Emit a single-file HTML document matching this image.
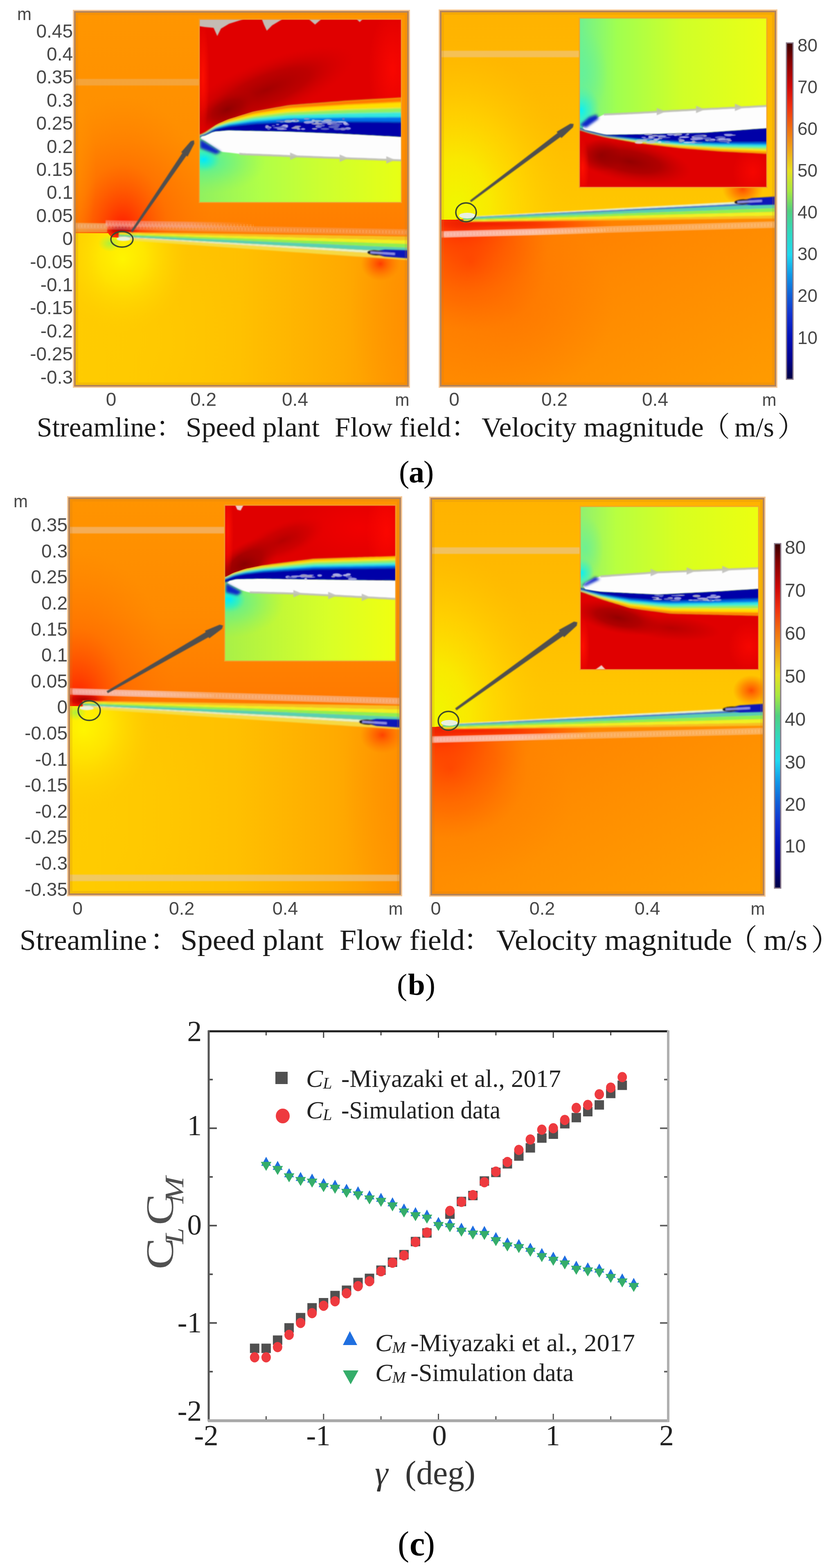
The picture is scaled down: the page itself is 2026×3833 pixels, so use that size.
<!DOCTYPE html>
<html><head><meta charset="utf-8"><title>Flow field and lift/moment coefficients</title>
<style>html,body{margin:0;padding:0;background:#fff;}body{width:2026px;height:3833px;overflow:hidden;}svg{display:block;}</style>
</head><body>
<svg width="2026" height="3833" viewBox="0 0 2026 3833">
<rect x="0" y="0" width="2026" height="3833" fill="#fff"/>
<defs>
<filter id="b1" x="-100%" y="-100%" width="300%" height="300%"><feGaussianBlur stdDeviation="1"/></filter>
<filter id="b1_5" x="-100%" y="-100%" width="300%" height="300%"><feGaussianBlur stdDeviation="1.5"/></filter>
<filter id="b2" x="-100%" y="-100%" width="300%" height="300%"><feGaussianBlur stdDeviation="2"/></filter>
<filter id="b2_5" x="-100%" y="-100%" width="300%" height="300%"><feGaussianBlur stdDeviation="2.5"/></filter>
<filter id="b3" x="-100%" y="-100%" width="300%" height="300%"><feGaussianBlur stdDeviation="3"/></filter>
<filter id="b4" x="-100%" y="-100%" width="300%" height="300%"><feGaussianBlur stdDeviation="4"/></filter>
<filter id="b5" x="-100%" y="-100%" width="300%" height="300%"><feGaussianBlur stdDeviation="5"/></filter>
<filter id="b6" x="-100%" y="-100%" width="300%" height="300%"><feGaussianBlur stdDeviation="6"/></filter>
<filter id="b8" x="-100%" y="-100%" width="300%" height="300%"><feGaussianBlur stdDeviation="8"/></filter>
<filter id="b10" x="-100%" y="-100%" width="300%" height="300%"><feGaussianBlur stdDeviation="10"/></filter>
<filter id="b12" x="-100%" y="-100%" width="300%" height="300%"><feGaussianBlur stdDeviation="12"/></filter>
<filter id="b14" x="-100%" y="-100%" width="300%" height="300%"><feGaussianBlur stdDeviation="14"/></filter>
<filter id="b15" x="-100%" y="-100%" width="300%" height="300%"><feGaussianBlur stdDeviation="15"/></filter>
<filter id="b16" x="-100%" y="-100%" width="300%" height="300%"><feGaussianBlur stdDeviation="16"/></filter>
<filter id="b18" x="-100%" y="-100%" width="300%" height="300%"><feGaussianBlur stdDeviation="18"/></filter>
<filter id="b20" x="-100%" y="-100%" width="300%" height="300%"><feGaussianBlur stdDeviation="20"/></filter>
<filter id="b22" x="-100%" y="-100%" width="300%" height="300%"><feGaussianBlur stdDeviation="22"/></filter>
<filter id="b25" x="-100%" y="-100%" width="300%" height="300%"><feGaussianBlur stdDeviation="25"/></filter>
<filter id="b28" x="-100%" y="-100%" width="300%" height="300%"><feGaussianBlur stdDeviation="28"/></filter>
<filter id="b30" x="-100%" y="-100%" width="300%" height="300%"><feGaussianBlur stdDeviation="30"/></filter>
<filter id="b35" x="-100%" y="-100%" width="300%" height="300%"><feGaussianBlur stdDeviation="35"/></filter>
<filter id="b40" x="-100%" y="-100%" width="300%" height="300%"><feGaussianBlur stdDeviation="40"/></filter>
<filter id="b45" x="-100%" y="-100%" width="300%" height="300%"><feGaussianBlur stdDeviation="45"/></filter>
<filter id="b50" x="-100%" y="-100%" width="300%" height="300%"><feGaussianBlur stdDeviation="50"/></filter>
<filter id="b60" x="-100%" y="-100%" width="300%" height="300%"><feGaussianBlur stdDeviation="60"/></filter>
<filter id="b70" x="-100%" y="-100%" width="300%" height="300%"><feGaussianBlur stdDeviation="70"/></filter>
<filter id="b80" x="-100%" y="-100%" width="300%" height="300%"><feGaussianBlur stdDeviation="80"/></filter>
<linearGradient id="cbar" x1="0" y1="0" x2="0" y2="1"><stop offset="0.0" stop-color="#380000"/><stop offset="0.05" stop-color="#800000"/><stop offset="0.13" stop-color="#d00808"/><stop offset="0.19" stop-color="#f03010"/><stop offset="0.255" stop-color="#f07010"/><stop offset="0.32" stop-color="#f0a818"/><stop offset="0.38" stop-color="#e8e020"/><stop offset="0.44" stop-color="#a8e840"/><stop offset="0.5" stop-color="#50d080"/><stop offset="0.565" stop-color="#30d8c0"/><stop offset="0.63" stop-color="#20d8f0"/><stop offset="0.69" stop-color="#1098e8"/><stop offset="0.75" stop-color="#1060d8"/><stop offset="0.81" stop-color="#1030d0"/><stop offset="0.876" stop-color="#0010b8"/><stop offset="0.94" stop-color="#000090"/><stop offset="1.0" stop-color="#000040"/></linearGradient>
</defs>
<clipPath id="c1"><rect x="181" y="27" width="818" height="918"/></clipPath>
<clipPath id="c2"><polygon points="176,570 264,570 272,580 1004,625 1004,950 176,950"/></clipPath>
<g clip-path="url(#c1)">
<linearGradient id="g1" x1="0" y1="0" x2="0" y2="1"><stop offset="0" stop-color="#ff9600"/><stop offset="0.35" stop-color="#ff8e00"/><stop offset="0.6" stop-color="#ff7c00"/><stop offset="1" stop-color="#ff7800"/></linearGradient>
<rect x="181" y="27" width="818" height="918" fill="url(#g1)"/>
<radialGradient id="r2"><stop offset="0" stop-color="#ff1000" stop-opacity="0.95"/><stop offset="0.2" stop-color="#ff3000" stop-opacity="0.75"/><stop offset="0.5" stop-color="#ff5800" stop-opacity="0.4"/><stop offset="1" stop-color="#ff7000" stop-opacity="0"/></radialGradient>
<ellipse cx="300" cy="565" rx="220" ry="330" fill="url(#r2)"/>
<radialGradient id="r3"><stop offset="0" stop-color="#a00010" stop-opacity="1"/><stop offset="0.5" stop-color="#c00000" stop-opacity="0.7"/><stop offset="1" stop-color="#ff2000" stop-opacity="0"/></radialGradient>
<ellipse cx="298" cy="563" rx="45" ry="18" fill="url(#r3)"/>
<radialGradient id="r4"><stop offset="0" stop-color="#ff9800" stop-opacity="0.5"/><stop offset="1" stop-color="#ff9800" stop-opacity="0"/></radialGradient>
<ellipse cx="185" cy="420" rx="50" ry="200" fill="url(#r4)"/>
<linearGradient id="g5" x1="0" y1="0" x2="1" y2="0"><stop offset="0" stop-color="#ffcc00"/><stop offset="0.5" stop-color="#ffc000"/><stop offset="0.8" stop-color="#ffaa00"/><stop offset="1" stop-color="#ff9400"/></linearGradient>
<polygon points="176,570 264,570 272,580 1004,625 1004,950 176,950" fill="url(#g5)"/>
<g clip-path="url(#c2)">
<radialGradient id="r6"><stop offset="0" stop-color="#ffff00" stop-opacity="1"/><stop offset="0.35" stop-color="#fff200" stop-opacity="0.85"/><stop offset="0.7" stop-color="#ffe200" stop-opacity="0.4"/><stop offset="1" stop-color="#ffd000" stop-opacity="0"/></radialGradient>
<ellipse cx="300" cy="635" rx="160" ry="180" fill="url(#r6)"/>
<radialGradient id="r7"><stop offset="0" stop-color="#ffcc00" stop-opacity="0.6"/><stop offset="1" stop-color="#ffcc00" stop-opacity="0"/></radialGradient>
<ellipse cx="300" cy="830" rx="320" ry="300" fill="url(#r7)"/>
<radialGradient id="r8"><stop offset="0" stop-color="#ff2000" stop-opacity="0.95"/><stop offset="0.5" stop-color="#ff4000" stop-opacity="0.5"/><stop offset="1" stop-color="#ff6000" stop-opacity="0"/></radialGradient>
<ellipse cx="930" cy="645" rx="48" ry="42" fill="url(#r8)"/>
<radialGradient id="r9"><stop offset="0" stop-color="#ff8a00" stop-opacity="0.55"/><stop offset="1" stop-color="#ff8a00" stop-opacity="0"/></radialGradient>
<ellipse cx="999" cy="760" rx="140" ry="330" fill="url(#r9)"/>
<radialGradient id="r10"><stop offset="0" stop-color="#a8f040" stop-opacity="0.9"/><stop offset="1" stop-color="#a8f040" stop-opacity="0"/></radialGradient>
<ellipse cx="268" cy="595" rx="28" ry="20" fill="url(#r10)"/>
</g>
<g filter="url(#b1_5)">
<polygon points="290,580.1 313.9,581.6 337.7,583.1 361.6,584.5 385.5,586 409.3,587.5 433.2,589 457.1,590.4 480.9,591.9 504.8,593.4 528.7,594.9 552.5,596.3 576.4,597.8 600.3,599.3 624.1,600.8 648,602.2 671.9,603.7 695.7,605.2 719.6,606.7 743.5,608.1 767.3,609.6 791.2,611.1 815.1,612.6 838.9,614 862.8,615.5 886.7,617 910.5,618.5 934.4,619.9 958.3,621.4 982.1,622.9 1006,624.4 1006,636.4 982.1,634.7 958.3,633.1 934.4,631.4 910.5,629.7 886.7,628.1 862.8,626.4 838.9,624.7 815.1,623 791.2,621.4 767.3,619.7 743.5,618 719.6,616.4 695.7,614.7 671.9,613 648,611.3 624.1,609.7 600.3,608 576.4,606.3 552.5,604.7 528.7,603 504.8,601.3 480.9,599.6 457.1,598 433.2,596.3 409.3,594.6 385.5,592.9 361.6,591.3 337.7,589.6 313.9,587.9 290,586.3" fill="#f4e050" opacity="0.85"/>
<polygon points="290,578.3 313.9,579.6 337.7,581 361.6,582.3 385.5,583.6 409.3,584.9 433.2,586.2 457.1,587.5 480.9,588.9 504.8,590.2 528.7,591.5 552.5,592.8 576.4,594.1 600.3,595.5 624.1,596.8 648,598.1 671.9,599.4 695.7,600.7 719.6,602.1 743.5,603.4 767.3,604.7 791.2,606 815.1,607.3 838.9,608.7 862.8,610 886.7,611.3 910.5,612.6 934.4,613.9 958.3,615.3 982.1,616.6 1006,617.9 1006,624.4 982.1,622.9 958.3,621.4 934.4,619.9 910.5,618.5 886.7,617 862.8,615.5 838.9,614 815.1,612.6 791.2,611.1 767.3,609.6 743.5,608.1 719.6,606.7 695.7,605.2 671.9,603.7 648,602.2 624.1,600.8 600.3,599.3 576.4,597.8 552.5,596.3 528.7,594.9 504.8,593.4 480.9,591.9 457.1,590.4 433.2,589 409.3,587.5 385.5,586 361.6,584.5 337.7,583.1 313.9,581.6 290,580.1" fill="#e8f4c8"/>
<polygon points="290,575 313.9,576 337.7,577 361.6,578.1 385.5,579.1 409.3,580.1 433.2,581.2 457.1,582.2 480.9,583.2 504.8,584.2 528.7,585.3 552.5,586.3 576.4,587.3 600.3,588.4 624.1,589.4 648,590.4 671.9,591.4 695.7,592.5 719.6,593.5 743.5,594.5 767.3,595.6 791.2,596.6 815.1,597.6 838.9,598.7 862.8,599.7 886.7,600.7 910.5,601.7 934.4,602.8 958.3,603.8 982.1,604.8 1006,605.9 1006,617.9 982.1,616.6 958.3,615.3 934.4,613.9 910.5,612.6 886.7,611.3 862.8,610 838.9,608.7 815.1,607.3 791.2,606 767.3,604.7 743.5,603.4 719.6,602.1 695.7,600.7 671.9,599.4 648,598.1 624.1,596.8 600.3,595.5 576.4,594.1 552.5,592.8 528.7,591.5 504.8,590.2 480.9,588.9 457.1,587.5 433.2,586.2 409.3,584.9 385.5,583.6 361.6,582.3 337.7,581 313.9,579.6 290,578.3" fill="#58d0b0"/>
<polygon points="290,572.4 313.9,573.2 337.7,574 361.6,574.8 385.5,575.6 409.3,576.4 433.2,577.2 457.1,578.1 480.9,578.9 504.8,579.7 528.7,580.5 552.5,581.3 576.4,582.1 600.3,582.9 624.1,583.7 648,584.5 671.9,585.3 695.7,586.1 719.6,586.9 743.5,587.7 767.3,588.5 791.2,589.3 815.1,590.2 838.9,591 862.8,591.8 886.7,592.6 910.5,593.4 934.4,594.2 958.3,595 982.1,595.8 1006,596.6 1006,605.9 982.1,604.8 958.3,603.8 934.4,602.8 910.5,601.7 886.7,600.7 862.8,599.7 838.9,598.7 815.1,597.6 791.2,596.6 767.3,595.6 743.5,594.5 719.6,593.5 695.7,592.5 671.9,591.4 648,590.4 624.1,589.4 600.3,588.4 576.4,587.3 552.5,586.3 528.7,585.3 504.8,584.2 480.9,583.2 457.1,582.2 433.2,581.2 409.3,580.1 385.5,579.1 361.6,578.1 337.7,577 313.9,576 290,575" fill="#90f050"/>
<polygon points="290,569.8 313.9,570.4 337.7,571 361.6,571.6 385.5,572.2 409.3,572.8 433.2,573.3 457.1,573.9 480.9,574.5 504.8,575.1 528.7,575.7 552.5,576.3 576.4,576.8 600.3,577.4 624.1,578 648,578.6 671.9,579.2 695.7,579.8 719.6,580.3 743.5,580.9 767.3,581.5 791.2,582.1 815.1,582.7 838.9,583.3 862.8,583.8 886.7,584.4 910.5,585 934.4,585.6 958.3,586.2 982.1,586.8 1006,587.3 1006,596.6 982.1,595.8 958.3,595 934.4,594.2 910.5,593.4 886.7,592.6 862.8,591.8 838.9,591 815.1,590.2 791.2,589.3 767.3,588.5 743.5,587.7 719.6,586.9 695.7,586.1 671.9,585.3 648,584.5 624.1,583.7 600.3,582.9 576.4,582.1 552.5,581.3 528.7,580.5 504.8,579.7 480.9,578.9 457.1,578.1 433.2,577.2 409.3,576.4 385.5,575.6 361.6,574.8 337.7,574 313.9,573.2 290,572.4" fill="#f0f020"/>
<polygon points="290,567.3 313.9,567.6 337.7,568 361.6,568.4 385.5,568.7 409.3,569.1 433.2,569.4 457.1,569.8 480.9,570.2 504.8,570.5 528.7,570.9 552.5,571.2 576.4,571.6 600.3,572 624.1,572.3 648,572.7 671.9,573 695.7,573.4 719.6,573.8 743.5,574.1 767.3,574.5 791.2,574.8 815.1,575.2 838.9,575.6 862.8,575.9 886.7,576.3 910.5,576.6 934.4,577 958.3,577.4 982.1,577.7 1006,578.1 1006,587.3 982.1,586.8 958.3,586.2 934.4,585.6 910.5,585 886.7,584.4 862.8,583.8 838.9,583.3 815.1,582.7 791.2,582.1 767.3,581.5 743.5,580.9 719.6,580.3 695.7,579.8 671.9,579.2 648,578.6 624.1,578 600.3,577.4 576.4,576.8 552.5,576.3 528.7,575.7 504.8,575.1 480.9,574.5 457.1,573.9 433.2,573.3 409.3,572.8 385.5,572.2 361.6,571.6 337.7,571 313.9,570.4 290,569.8" fill="#f8c020"/>
</g>
<g filter="url(#b1_5)">
<polygon points="900.2,616.8 940.1,610.3 1004,612 1004,632 940.1,627.3" fill="#0818b8"/>
<ellipse cx="918.2" cy="617.9" rx="20" ry="6" fill="#100818" transform="rotate(3.5 918.2 617.9)"/>
<line x1="905.2" y1="617.1" x2="965.1" y2="620.8" stroke="#9090e8" stroke-width="5"/>
</g>
<ellipse cx="302" cy="584" rx="17" ry="5" fill="#e8f0e0" filter="url(#b1)"/>
<polygon points="181,193 487,193 487,209 181,209" fill="#f0b060" opacity="0.6" filter="url(#b1)"/>
<polygon points="181,545 262,546 262,568 181,567" fill="#f0a848" opacity="0.7" filter="url(#b1)"/>
<polygon points="181,544.5 999,560.5 999,575.5 181,559.5" fill="#f0b8a8" opacity="0.3" filter="url(#b1)"/>
<line x1="181" y1="552" x2="999" y2="568" stroke="#ffffff" stroke-width="7.5" opacity="0.1" stroke-dasharray="5 3"/>
<linearGradient id="sf11" gradientUnits="userSpaceOnUse" x1="258" y1="0" x2="620" y2="0"><stop offset="0" stop-color="#f4a8a0" stop-opacity="1"/><stop offset="0.55" stop-color="#f4a8a0" stop-opacity="1"/><stop offset="1" stop-color="#f4a8a0" stop-opacity="0"/></linearGradient>
<polygon points="258,538.5 620,544.5 620,559.5 258,553.5" fill="url(#sf11)" opacity="0.5" filter="url(#b1)"/>
<line x1="258" y1="546" x2="620" y2="552" stroke="#ffffff" stroke-width="7.5" opacity="0.1" stroke-dasharray="5 3"/>
</g>
<ellipse cx="298" cy="585" rx="27" ry="19" fill="none" stroke="#3e4a2e" stroke-width="3.5"/>
<polygon points="324.1,567.4 455.5,380.8 458.4,382.7 474.9,350.9 474,343 466.3,345 442.8,372.1 445.6,374 319.9,564.6" fill="#4f4f4f" filter="url(#b1)"/>
<clipPath id="c3"><rect x="487" y="47" width="494" height="448"/></clipPath>
<g clip-path="url(#c3)">
<linearGradient id="g12" x1="0" y1="0" x2="1" y2="0"><stop offset="0" stop-color="#90f060"/><stop offset="0.3" stop-color="#b0ff48"/><stop offset="0.6" stop-color="#ccff30"/><stop offset="1" stop-color="#e8ff14"/></linearGradient>
<rect x="487" y="47" width="494" height="448" fill="url(#g12)"/>
<radialGradient id="r13"><stop offset="0" stop-color="#40f0b0" stop-opacity="0.9"/><stop offset="0.5" stop-color="#60f090" stop-opacity="0.5"/><stop offset="1" stop-color="#80f070" stop-opacity="0"/></radialGradient>
<ellipse cx="500" cy="395" rx="150" ry="80" fill="url(#r13)"/>
<radialGradient id="r14"><stop offset="0" stop-color="#00e8ff" stop-opacity="1"/><stop offset="0.6" stop-color="#20f0d0" stop-opacity="0.6"/><stop offset="1" stop-color="#40f0b0" stop-opacity="0"/></radialGradient>
<ellipse cx="498" cy="390" rx="40" ry="30" fill="url(#r14)"/>
<g filter="url(#b2)">
<polygon points="485,330 493.3,326.9 501.6,322.7 509.9,317.1 518.2,311.3 526.5,305.5 534.8,300.9 543.1,297.4 551.4,293.8 559.7,290.5 568,287.9 576.3,285.4 584.6,282.8 592.9,280.3 601.2,277.8 609.5,275.2 617.8,272.7 626.1,270.9 634.4,269.5 642.7,268 651,266.5 659.3,265.1 667.6,263.6 675.9,262.1 684.2,260.7 692.5,259.2 700.8,257.7 709.1,256.7 717.4,256.1 725.7,255.4 734,254.8 742.3,254.2 750.6,253.5 758.9,252.9 767.2,252.3 775.5,251.7 783.8,251 792.1,250.4 800.4,249.8 808.7,249.1 817,248.5 825.3,247.9 833.6,247.2 841.9,246.6 850.2,246 858.5,245.5 866.8,245 875.1,244.5 883.4,244 891.7,243.5 900,242.9 908.3,242.4 916.6,241.9 924.9,241.4 933.2,240.9 941.5,240.4 949.8,239.9 958.1,239.4 966.4,238.9 974.7,238.4 983,238 983,336 974.7,335.7 966.4,335.2 958.1,334.8 949.8,334.3 941.5,333.9 933.2,333.4 924.9,333 916.6,332.6 908.3,332.1 900,331.7 891.7,331.2 883.4,330.8 875.1,330.3 866.8,329.9 858.5,329.5 850.2,329 841.9,328.7 833.6,328.3 825.3,328 817,327.6 808.7,327.3 800.4,326.9 792.1,326.6 783.8,326.3 775.5,325.9 767.2,325.6 758.9,325.2 750.6,324.9 742.3,324.5 734,324.2 725.7,323.9 717.4,323.5 709.1,323.2 700.8,322.9 692.5,322.7 684.2,322.6 675.9,322.4 667.6,322.2 659.3,322.1 651,321.9 642.7,321.7 634.4,321.6 626.1,321.4 617.8,321.2 609.5,321.1 601.2,320.9 592.9,320.7 584.6,320.5 576.3,320.4 568,320.2 559.7,320 551.4,320.6 543.1,321.2 534.8,321.9 526.5,322.6 518.2,324.8 509.9,328.7 501.6,332.4 493.3,334.4 485,336" fill="#ff7a00"/>
<polygon points="485,330.6 493.3,327.6 501.6,323.7 509.9,318.4 518.2,312.8 526.5,307.4 534.8,303.3 543.1,300.1 551.4,296.9 559.7,293.9 568,291.7 576.3,289.5 584.6,287.3 592.9,285 601.2,282.8 609.5,280.6 617.8,278.4 626.1,276.9 634.4,275.6 642.7,274.3 651,273.1 659.3,271.8 667.6,270.5 675.9,269.2 684.2,268 692.5,266.7 700.8,265.4 709.1,264.5 717.4,264 725.7,263.5 734,263 742.3,262.5 750.6,262 758.9,261.5 767.2,261 775.5,260.4 783.8,259.9 792.1,259.4 800.4,258.9 808.7,258.4 817,257.9 825.3,257.4 833.6,256.9 841.9,256.3 850.2,255.8 858.5,255.4 866.8,255 875.1,254.7 883.4,254.3 891.7,253.9 900,253.5 908.3,253.1 916.6,252.7 924.9,252.3 933.2,251.9 941.5,251.5 949.8,251.1 958.1,250.7 966.4,250.3 974.7,249.9 983,249.6 983,336 974.7,335.7 966.4,335.2 958.1,334.8 949.8,334.3 941.5,333.9 933.2,333.4 924.9,333 916.6,332.6 908.3,332.1 900,331.7 891.7,331.2 883.4,330.8 875.1,330.3 866.8,329.9 858.5,329.5 850.2,329 841.9,328.7 833.6,328.3 825.3,328 817,327.6 808.7,327.3 800.4,326.9 792.1,326.6 783.8,326.3 775.5,325.9 767.2,325.6 758.9,325.2 750.6,324.9 742.3,324.5 734,324.2 725.7,323.9 717.4,323.5 709.1,323.2 700.8,322.9 692.5,322.7 684.2,322.6 675.9,322.4 667.6,322.2 659.3,322.1 651,321.9 642.7,321.7 634.4,321.6 626.1,321.4 617.8,321.2 609.5,321.1 601.2,320.9 592.9,320.7 584.6,320.5 576.3,320.4 568,320.2 559.7,320 551.4,320.6 543.1,321.2 534.8,321.9 526.5,322.6 518.2,324.8 509.9,328.7 501.6,332.4 493.3,334.4 485,336" fill="#ffe000"/>
<polygon points="485,331.4 493.3,328.6 501.6,325 509.9,320 518.2,314.7 526.5,309.8 534.8,306.3 543.1,303.6 551.4,300.8 559.7,298.2 568,296.4 576.3,294.6 584.6,292.8 592.9,290.9 601.2,289.1 609.5,287.3 617.8,285.5 626.1,284.3 634.4,283.3 642.7,282.2 651,281.2 659.3,280.2 667.6,279.2 675.9,278.1 684.2,277.1 692.5,276.1 700.8,275.1 709.1,274.4 717.4,274 725.7,273.6 734,273.3 742.3,272.9 750.6,272.5 758.9,272.2 767.2,271.8 775.5,271.4 783.8,271.1 792.1,270.7 800.4,270.3 808.7,270 817,269.6 825.3,269.2 833.6,268.9 841.9,268.5 850.2,268.1 858.5,267.9 866.8,267.6 875.1,267.4 883.4,267.1 891.7,266.9 900,266.6 908.3,266.4 916.6,266.1 924.9,265.9 933.2,265.6 941.5,265.4 949.8,265.1 958.1,264.9 966.4,264.6 974.7,264.4 983,264.2 983,336 974.7,335.7 966.4,335.2 958.1,334.8 949.8,334.3 941.5,333.9 933.2,333.4 924.9,333 916.6,332.6 908.3,332.1 900,331.7 891.7,331.2 883.4,330.8 875.1,330.3 866.8,329.9 858.5,329.5 850.2,329 841.9,328.7 833.6,328.3 825.3,328 817,327.6 808.7,327.3 800.4,326.9 792.1,326.6 783.8,326.3 775.5,325.9 767.2,325.6 758.9,325.2 750.6,324.9 742.3,324.5 734,324.2 725.7,323.9 717.4,323.5 709.1,323.2 700.8,322.9 692.5,322.7 684.2,322.6 675.9,322.4 667.6,322.2 659.3,322.1 651,321.9 642.7,321.7 634.4,321.6 626.1,321.4 617.8,321.2 609.5,321.1 601.2,320.9 592.9,320.7 584.6,320.5 576.3,320.4 568,320.2 559.7,320 551.4,320.6 543.1,321.2 534.8,321.9 526.5,322.6 518.2,324.8 509.9,328.7 501.6,332.4 493.3,334.4 485,336" fill="#90f060"/>
<polygon points="485,331.9 493.3,329.3 501.6,326 509.9,321.2 518.2,316.1 526.5,311.6 534.8,308.5 543.1,306.1 551.4,303.6 559.7,301.3 568,299.8 576.3,298.3 584.6,296.8 592.9,295.3 601.2,293.8 609.5,292.3 617.8,290.7 626.1,289.7 634.4,288.9 642.7,288 651,287.2 659.3,286.3 667.6,285.5 675.9,284.7 684.2,283.8 692.5,283 700.8,282.1 709.1,281.6 717.4,281.3 725.7,281.1 734,280.8 742.3,280.5 750.6,280.3 758.9,280 767.2,279.8 775.5,279.5 783.8,279.2 792.1,279 800.4,278.7 808.7,278.5 817,278.2 825.3,277.9 833.6,277.7 841.9,277.4 850.2,277.2 858.5,277 866.8,276.9 875.1,276.7 883.4,276.6 891.7,276.4 900,276.3 908.3,276.1 916.6,276 924.9,275.8 933.2,275.7 941.5,275.6 949.8,275.4 958.1,275.3 966.4,275.1 974.7,275 983,274.9 983,336 974.7,335.7 966.4,335.2 958.1,334.8 949.8,334.3 941.5,333.9 933.2,333.4 924.9,333 916.6,332.6 908.3,332.1 900,331.7 891.7,331.2 883.4,330.8 875.1,330.3 866.8,329.9 858.5,329.5 850.2,329 841.9,328.7 833.6,328.3 825.3,328 817,327.6 808.7,327.3 800.4,326.9 792.1,326.6 783.8,326.3 775.5,325.9 767.2,325.6 758.9,325.2 750.6,324.9 742.3,324.5 734,324.2 725.7,323.9 717.4,323.5 709.1,323.2 700.8,322.9 692.5,322.7 684.2,322.6 675.9,322.4 667.6,322.2 659.3,322.1 651,321.9 642.7,321.7 634.4,321.6 626.1,321.4 617.8,321.2 609.5,321.1 601.2,320.9 592.9,320.7 584.6,320.5 576.3,320.4 568,320.2 559.7,320 551.4,320.6 543.1,321.2 534.8,321.9 526.5,322.6 518.2,324.8 509.9,328.7 501.6,332.4 493.3,334.4 485,336" fill="#30e8e0"/>
<polygon points="485,332.5 493.3,330.1 501.6,327 509.9,322.4 518.2,317.6 526.5,313.5 534.8,310.9 543.1,308.8 551.4,306.7 559.7,304.8 568,303.6 576.3,302.4 584.6,301.2 592.9,300 601.2,298.8 609.5,297.6 617.8,296.4 626.1,295.7 634.4,295 642.7,294.4 651,293.7 659.3,293.1 667.6,292.4 675.9,291.8 684.2,291.1 692.5,290.5 700.8,289.8 709.1,289.4 717.4,289.3 725.7,289.1 734,289 742.3,288.9 750.6,288.7 758.9,288.6 767.2,288.4 775.5,288.3 783.8,288.1 792.1,288 800.4,287.9 808.7,287.7 817,287.6 825.3,287.4 833.6,287.3 841.9,287.1 850.2,287 858.5,287 866.8,286.9 875.1,286.9 883.4,286.9 891.7,286.8 900,286.8 908.3,286.8 916.6,286.7 924.9,286.7 933.2,286.7 941.5,286.7 949.8,286.6 958.1,286.6 966.4,286.6 974.7,286.5 983,286.5 983,336 974.7,335.7 966.4,335.2 958.1,334.8 949.8,334.3 941.5,333.9 933.2,333.4 924.9,333 916.6,332.6 908.3,332.1 900,331.7 891.7,331.2 883.4,330.8 875.1,330.3 866.8,329.9 858.5,329.5 850.2,329 841.9,328.7 833.6,328.3 825.3,328 817,327.6 808.7,327.3 800.4,326.9 792.1,326.6 783.8,326.3 775.5,325.9 767.2,325.6 758.9,325.2 750.6,324.9 742.3,324.5 734,324.2 725.7,323.9 717.4,323.5 709.1,323.2 700.8,322.9 692.5,322.7 684.2,322.6 675.9,322.4 667.6,322.2 659.3,322.1 651,321.9 642.7,321.7 634.4,321.6 626.1,321.4 617.8,321.2 609.5,321.1 601.2,320.9 592.9,320.7 584.6,320.5 576.3,320.4 568,320.2 559.7,320 551.4,320.6 543.1,321.2 534.8,321.9 526.5,322.6 518.2,324.8 509.9,328.7 501.6,332.4 493.3,334.4 485,336" fill="#0070e8"/>
<polygon points="485,333.1 493.3,330.9 501.6,328.1 509.9,323.7 518.2,319.1 526.5,315.5 534.8,313.3 543.1,311.6 551.4,309.8 559.7,308.2 568,307.3 576.3,306.5 584.6,305.6 592.9,304.7 601.2,303.9 609.5,303 617.8,302.2 626.1,301.6 634.4,301.1 642.7,300.7 651,300.2 659.3,299.8 667.6,299.3 675.9,298.9 684.2,298.4 692.5,298 700.8,297.5 709.1,297.3 717.4,297.3 725.7,297.2 734,297.2 742.3,297.2 750.6,297.2 758.9,297.1 767.2,297.1 775.5,297.1 783.8,297.1 792.1,297 800.4,297 808.7,297 817,296.9 825.3,296.9 833.6,296.9 841.9,296.9 850.2,296.8 858.5,296.9 866.8,297 875.1,297.1 883.4,297.2 891.7,297.3 900,297.3 908.3,297.4 916.6,297.5 924.9,297.6 933.2,297.7 941.5,297.7 949.8,297.8 958.1,297.9 966.4,298 974.7,298.1 983,298.1 983,336 974.7,335.7 966.4,335.2 958.1,334.8 949.8,334.3 941.5,333.9 933.2,333.4 924.9,333 916.6,332.6 908.3,332.1 900,331.7 891.7,331.2 883.4,330.8 875.1,330.3 866.8,329.9 858.5,329.5 850.2,329 841.9,328.7 833.6,328.3 825.3,328 817,327.6 808.7,327.3 800.4,326.9 792.1,326.6 783.8,326.3 775.5,325.9 767.2,325.6 758.9,325.2 750.6,324.9 742.3,324.5 734,324.2 725.7,323.9 717.4,323.5 709.1,323.2 700.8,322.9 692.5,322.7 684.2,322.6 675.9,322.4 667.6,322.2 659.3,322.1 651,321.9 642.7,321.7 634.4,321.6 626.1,321.4 617.8,321.2 609.5,321.1 601.2,320.9 592.9,320.7 584.6,320.5 576.3,320.4 568,320.2 559.7,320 551.4,320.6 543.1,321.2 534.8,321.9 526.5,322.6 518.2,324.8 509.9,328.7 501.6,332.4 493.3,334.4 485,336" fill="#0000a8"/>
</g>
<clipPath id="c4"><polygon points="485,45 983,45 983,238 974.7,238.4 966.4,238.9 958.1,239.4 949.8,239.9 941.5,240.4 933.2,240.9 924.9,241.4 916.6,241.9 908.3,242.4 900,242.9 891.7,243.5 883.4,244 875.1,244.5 866.8,245 858.5,245.5 850.2,246 841.9,246.6 833.6,247.2 825.3,247.9 817,248.5 808.7,249.1 800.4,249.8 792.1,250.4 783.8,251 775.5,251.7 767.2,252.3 758.9,252.9 750.6,253.5 742.3,254.2 734,254.8 725.7,255.4 717.4,256.1 709.1,256.7 700.8,257.7 692.5,259.2 684.2,260.7 675.9,262.1 667.6,263.6 659.3,265.1 651,266.5 642.7,268 634.4,269.5 626.1,270.9 617.8,272.7 609.5,275.2 601.2,277.8 592.9,280.3 584.6,282.8 576.3,285.4 568,287.9 559.7,290.5 551.4,293.8 543.1,297.4 534.8,300.9 526.5,305.5 518.2,311.3 509.9,317.1 501.6,322.7 493.3,326.9 485,330"/></clipPath>
<polygon points="485,45 983,45 983,238 974.7,238.4 966.4,238.9 958.1,239.4 949.8,239.9 941.5,240.4 933.2,240.9 924.9,241.4 916.6,241.9 908.3,242.4 900,242.9 891.7,243.5 883.4,244 875.1,244.5 866.8,245 858.5,245.5 850.2,246 841.9,246.6 833.6,247.2 825.3,247.9 817,248.5 808.7,249.1 800.4,249.8 792.1,250.4 783.8,251 775.5,251.7 767.2,252.3 758.9,252.9 750.6,253.5 742.3,254.2 734,254.8 725.7,255.4 717.4,256.1 709.1,256.7 700.8,257.7 692.5,259.2 684.2,260.7 675.9,262.1 667.6,263.6 659.3,265.1 651,266.5 642.7,268 634.4,269.5 626.1,270.9 617.8,272.7 609.5,275.2 601.2,277.8 592.9,280.3 584.6,282.8 576.3,285.4 568,287.9 559.7,290.5 551.4,293.8 543.1,297.4 534.8,300.9 526.5,305.5 518.2,311.3 509.9,317.1 501.6,322.7 493.3,326.9 485,330" fill="#e00000" filter="url(#b1_5)"/>
<g clip-path="url(#c4)">
<radialGradient id="r15"><stop offset="0" stop-color="#a00000" stop-opacity="0.95"/><stop offset="0.5" stop-color="#b00000" stop-opacity="0.7"/><stop offset="1" stop-color="#d00000" stop-opacity="0"/></radialGradient>
<ellipse cx="650" cy="220" rx="230" ry="70" fill="url(#r15)" transform="rotate(-22 650 220)"/>
<radialGradient id="r16"><stop offset="0" stop-color="#900000" stop-opacity="1"/><stop offset="0.5" stop-color="#a00000" stop-opacity="0.7"/><stop offset="1" stop-color="#c00000" stop-opacity="0"/></radialGradient>
<ellipse cx="555" cy="268" rx="80" ry="40" fill="url(#r16)" transform="rotate(-25 555 268)"/>
<radialGradient id="r17"><stop offset="0" stop-color="#ff0800" stop-opacity="0.8"/><stop offset="1" stop-color="#ff0800" stop-opacity="0"/></radialGradient>
<ellipse cx="960" cy="170" rx="60" ry="150" fill="url(#r17)"/>
<radialGradient id="r18"><stop offset="0" stop-color="#ff1000" stop-opacity="0.9"/><stop offset="1" stop-color="#ff1000" stop-opacity="0"/></radialGradient>
<ellipse cx="496" cy="190" rx="16" ry="135" fill="url(#r18)"/>
</g>
<polygon points="490,337 493.3,333.4 501.6,331.4 509.9,327.7 518.2,323.8 526.5,321.6 534.8,320.9 543.1,320.2 551.4,319.6 559.7,319 568,319.2 576.3,319.4 584.6,319.5 592.9,319.7 601.2,319.9 609.5,320.1 617.8,320.2 626.1,320.4 634.4,320.6 642.7,320.7 651,320.9 659.3,321.1 667.6,321.2 675.9,321.4 684.2,321.6 692.5,321.7 700.8,321.9 709.1,322.2 717.4,322.5 725.7,322.9 734,323.2 742.3,323.5 750.6,323.9 758.9,324.2 767.2,324.6 775.5,324.9 783.8,325.3 792.1,325.6 800.4,325.9 808.7,326.3 817,326.6 825.3,327 833.6,327.3 841.9,327.7 850.2,328 858.5,328.5 866.8,328.9 875.1,329.3 883.4,329.8 891.7,330.2 900,330.7 908.3,331.1 916.6,331.6 924.9,332 933.2,332.4 941.5,332.9 949.8,333.3 958.1,333.8 966.4,334.2 974.7,334.7 983,335 983,392 974.7,391.8 966.4,391.5 958.1,391.1 949.8,390.8 941.5,390.5 933.2,390.2 924.9,389.9 916.6,389.6 908.3,389.3 900,388.9 891.7,388.6 883.4,388.3 875.1,388 866.8,387.7 858.5,387.4 850.2,387.1 841.9,386.8 833.6,386.4 825.3,386.1 817,385.8 808.7,385.5 800.4,385.2 792.1,384.9 783.8,384.6 775.5,384.3 767.2,383.9 758.9,383.6 750.6,383.3 742.3,383 734,382.7 725.7,382.3 717.4,382 709.1,381.7 700.8,381.3 692.5,381 684.2,380.6 675.9,380.3 667.6,380 659.3,379.6 651,379.3 642.7,378.9 634.4,378.6 626.1,378.3 617.8,377.9 609.5,377.6 601.2,377.3 592.9,376.8 584.6,375.9 576.3,375 568,374.1 559.7,373.1 551.4,372.2 543.1,371.3 534.8,367.5 526.5,361.9 518.2,356.3 509.9,350.7 501.6,345.1 493.3,340.9" fill="#fdfdfd" filter="url(#b1)"/>
<polygon points="489,340 540,371 528,377 489,362" fill="#0828c8" filter="url(#b3)"/>
<g filter="url(#b1)" fill="#c4bcb4"><polygon points="487,47 595,47 560,58 540,70 531,88 522,68 500,66 487,64"/><polygon points="640,47 690,47 665,62 652,75 645,60"/><polygon points="755,47 785,47 770,60"/><polygon points="872,47 886,47 879,54"/></g>
<g filter="url(#b1)" opacity="0.8"><ellipse cx="678.2" cy="312" rx="11.4" ry="2" fill="#7078c8"/><ellipse cx="809.8" cy="302.3" rx="7.2" ry="1.9" fill="#7078c8"/><ellipse cx="656" cy="311.7" rx="7.8" ry="3" fill="#b8bce8"/><ellipse cx="796.1" cy="296.9" rx="11.8" ry="2.7" fill="#b8bce8"/><ellipse cx="839.3" cy="290.8" rx="3.3" ry="2.6" fill="#7078c8"/><ellipse cx="794.2" cy="315.2" rx="11" ry="2.6" fill="#7078c8"/><ellipse cx="847.2" cy="304.4" rx="6.8" ry="2.9" fill="#7078c8"/><ellipse cx="850" cy="314.1" rx="7.6" ry="3.3" fill="#b8bce8"/><ellipse cx="689" cy="315.8" rx="12.5" ry="1.7" fill="#d8d8f0"/><ellipse cx="838.1" cy="315.3" rx="8.5" ry="3.4" fill="#c0c0c8"/><ellipse cx="824.3" cy="307.4" rx="6.3" ry="2.7" fill="#7078c8"/><ellipse cx="827.7" cy="303.1" rx="9.5" ry="1.6" fill="#9098d8"/><ellipse cx="806.2" cy="300.5" rx="10.3" ry="2.2" fill="#d8d8f0"/><ellipse cx="668.2" cy="307.3" rx="4.2" ry="1.8" fill="#7078c8"/><ellipse cx="727.8" cy="309.1" rx="8.2" ry="2.1" fill="#c0c0c8"/><ellipse cx="774.6" cy="300.2" rx="4.9" ry="2.5" fill="#b8bce8"/><ellipse cx="811.8" cy="304" rx="12.5" ry="2" fill="#c0c0c8"/><ellipse cx="722.2" cy="312" rx="6.9" ry="3.3" fill="#c0c0c8"/><ellipse cx="777.9" cy="309" rx="7.2" ry="3.2" fill="#c0c0c8"/><ellipse cx="819.9" cy="303.5" rx="9.2" ry="2.4" fill="#b8bce8"/><ellipse cx="751" cy="299.5" rx="9.1" ry="3.4" fill="#7078c8"/><ellipse cx="751.8" cy="299.3" rx="6.8" ry="2.6" fill="#c0c0c8"/><ellipse cx="815.2" cy="298.6" rx="9.6" ry="3.1" fill="#9098d8"/><ellipse cx="765.7" cy="294.7" rx="4" ry="2.6" fill="#d8d8f0"/><ellipse cx="656.8" cy="314.5" rx="3.8" ry="3.2" fill="#7078c8"/><ellipse cx="653.1" cy="309.6" rx="5.7" ry="1.7" fill="#c0c0c8"/><ellipse cx="688.8" cy="297.5" rx="4.8" ry="2" fill="#9098d8"/><ellipse cx="787.9" cy="306.9" rx="6.2" ry="2.9" fill="#7078c8"/><ellipse cx="749.5" cy="290.6" rx="7.3" ry="2.3" fill="#9098d8"/><ellipse cx="704.3" cy="296.6" rx="11" ry="3.5" fill="#c0c0c8"/><ellipse cx="740.6" cy="315.4" rx="5.5" ry="2.3" fill="#b8bce8"/><ellipse cx="801" cy="294.2" rx="10.8" ry="2.9" fill="#c0c0c8"/><ellipse cx="824.8" cy="315.4" rx="9.9" ry="2.9" fill="#7078c8"/><ellipse cx="696.9" cy="306.9" rx="7.3" ry="2.7" fill="#d8d8f0"/><ellipse cx="788.6" cy="301.1" rx="11.1" ry="1.8" fill="#9098d8"/><ellipse cx="833.9" cy="298" rx="12.4" ry="2.1" fill="#d8d8f0"/><ellipse cx="806.2" cy="300.8" rx="5.8" ry="1.5" fill="#b8bce8"/><ellipse cx="774" cy="295.7" rx="12.9" ry="2.4" fill="#c0c0c8"/><ellipse cx="756.9" cy="299.8" rx="6.8" ry="1.9" fill="#7078c8"/><ellipse cx="774.2" cy="302.8" rx="13.3" ry="2.3" fill="#c0c0c8"/><ellipse cx="755" cy="298.5" rx="12.6" ry="3.3" fill="#b8bce8"/><ellipse cx="683" cy="312.3" rx="11.9" ry="2.6" fill="#9098d8"/><ellipse cx="721.2" cy="295.5" rx="10.4" ry="3.2" fill="#c0c0c8"/><ellipse cx="722.2" cy="312.9" rx="10.6" ry="2.5" fill="#c0c0c8"/><ellipse cx="699.3" cy="308.9" rx="3.9" ry="1.8" fill="#c0c0c8"/><ellipse cx="694.7" cy="309.7" rx="9.6" ry="3.2" fill="#d8d8f0"/><ellipse cx="721.2" cy="293" rx="5.6" ry="3.4" fill="#7078c8"/><ellipse cx="678.4" cy="304.3" rx="4.1" ry="1.6" fill="#b8bce8"/><ellipse cx="729.8" cy="315.8" rx="4.6" ry="1.8" fill="#b8bce8"/><ellipse cx="779.2" cy="310.3" rx="7.2" ry="2.6" fill="#9098d8"/><ellipse cx="768.9" cy="314.8" rx="7" ry="2.1" fill="#c0c0c8"/><ellipse cx="844.3" cy="301.9" rx="6" ry="3.1" fill="#d8d8f0"/><ellipse cx="652.6" cy="307.4" rx="4" ry="1.7" fill="#b8bce8"/><ellipse cx="689.5" cy="310.4" rx="9.5" ry="1.8" fill="#7078c8"/><ellipse cx="685.2" cy="296.3" rx="11.2" ry="1.7" fill="#7078c8"/><ellipse cx="819.4" cy="304.1" rx="12" ry="2.6" fill="#7078c8"/><ellipse cx="716" cy="295.4" rx="6.5" ry="1.6" fill="#d8d8f0"/><ellipse cx="802.6" cy="298.3" rx="7.3" ry="2.3" fill="#b8bce8"/><ellipse cx="841.8" cy="315.2" rx="13.7" ry="1.7" fill="#9098d8"/><ellipse cx="814.9" cy="310.2" rx="12.8" ry="3.2" fill="#7078c8"/></g>
<g filter="url(#b1)" opacity="0.85">
<polyline points="584.6,375.9 592.9,376.8 601.2,377.3 609.5,377.6 617.8,377.9 626.1,378.3 634.4,378.6 642.7,378.9 651,379.3 659.3,379.6 667.6,380 675.9,380.3 684.2,380.6 692.5,381 700.8,381.3 709.1,381.7 717.4,382 725.7,382.3 734,382.7 742.3,383 750.6,383.3 758.9,383.6 767.2,383.9 775.5,384.3 783.8,384.6 792.1,384.9 800.4,385.2 808.7,385.5 817,385.8 825.3,386.1 833.6,386.4 841.9,386.8 850.2,387.1 858.5,387.4 866.8,387.7 875.1,388 883.4,388.3 891.7,388.6 900,388.9 908.3,389.3 916.6,389.6 924.9,389.9 933.2,390.2 941.5,390.5 949.8,390.8 958.1,391.1 966.4,391.5 974.7,391.8 983,392" fill="none" stroke="#bcbcb8" stroke-width="5"/>
<polygon points="731,382.1 709,373.1 709,391.1" fill="#bcbcb8"/>
<polygon points="852,386.7 830,377.7 830,395.7" fill="#bcbcb8"/>
<polygon points="966,391 944,382 944,400" fill="#bcbcb8"/>
</g>
</g>
<rect x="487" y="47" width="494" height="448" fill="none" stroke="#f0a030" stroke-width="3" opacity="0.8"/>
<rect x="188" y="34" width="804" height="904" fill="none" stroke="#c27a20" stroke-opacity="0.18" stroke-width="6"/>
<rect x="183" y="29" width="814" height="914" fill="none" stroke="#b4845a" stroke-width="4"/>
<rect x="179.5" y="25.5" width="821" height="921" fill="none" stroke="#f6c896" stroke-width="3"/>
<clipPath id="c5"><rect x="1075" y="26" width="822" height="919"/></clipPath>
<clipPath id="c6"><polygon points="1070,537 1106,537 1114,537 1902,494 1902,950 1070,950"/></clipPath>
<g clip-path="url(#c5)">
<linearGradient id="g19" x1="0" y1="0" x2="0" y2="1"><stop offset="0" stop-color="#ffb200"/><stop offset="0.3" stop-color="#ffbc00"/><stop offset="0.55" stop-color="#ffc800"/><stop offset="1" stop-color="#ffcc00"/></linearGradient>
<rect x="1075" y="26" width="822" height="919" fill="url(#g19)"/>
<radialGradient id="r20"><stop offset="0" stop-color="#f0f800" stop-opacity="1"/><stop offset="0.3" stop-color="#f8f000" stop-opacity="0.85"/><stop offset="0.6" stop-color="#ffe000" stop-opacity="0.5"/><stop offset="1" stop-color="#ffc800" stop-opacity="0"/></radialGradient>
<ellipse cx="1115" cy="510" rx="280" ry="400" fill="url(#r20)"/>
<radialGradient id="r21"><stop offset="0" stop-color="#ff4000" stop-opacity="0.9"/><stop offset="0.5" stop-color="#ff5000" stop-opacity="0.5"/><stop offset="1" stop-color="#ff6000" stop-opacity="0"/></radialGradient>
<ellipse cx="1815" cy="462" rx="50" ry="40" fill="url(#r21)"/>
<linearGradient id="g22" x1="0" y1="0" x2="1" y2="1"><stop offset="0" stop-color="#ff7400"/><stop offset="0.45" stop-color="#ff8800"/><stop offset="1" stop-color="#ff9c00"/></linearGradient>
<polygon points="1070,537 1106,537 1114,537 1902,494 1902,950 1070,950" fill="url(#g22)"/>
<g clip-path="url(#c6)">
<radialGradient id="r23"><stop offset="0" stop-color="#e00000" stop-opacity="1"/><stop offset="0.25" stop-color="#ff2800" stop-opacity="0.8"/><stop offset="0.6" stop-color="#ff5000" stop-opacity="0.4"/><stop offset="1" stop-color="#ff6a00" stop-opacity="0"/></radialGradient>
<ellipse cx="1130" cy="545" rx="230" ry="170" fill="url(#r23)"/>
<radialGradient id="r24"><stop offset="0" stop-color="#b00000" stop-opacity="1"/><stop offset="1" stop-color="#d00000" stop-opacity="0"/></radialGradient>
<ellipse cx="1140" cy="545" rx="70" ry="18" fill="url(#r24)"/>
<radialGradient id="r25"><stop offset="0" stop-color="#e80000" stop-opacity="0.9"/><stop offset="0.6" stop-color="#ff2000" stop-opacity="0.5"/><stop offset="1" stop-color="#ff4000" stop-opacity="0"/></radialGradient>
<ellipse cx="1200" cy="548" rx="300" ry="30" fill="url(#r25)"/>
<radialGradient id="r26"><stop offset="0" stop-color="#ff3000" stop-opacity="0.7"/><stop offset="0.6" stop-color="#ff4a00" stop-opacity="0.35"/><stop offset="1" stop-color="#ff6000" stop-opacity="0"/></radialGradient>
<ellipse cx="1150" cy="640" rx="190" ry="170" fill="url(#r26)"/>
<radialGradient id="r27"><stop offset="0" stop-color="#ff6a00" stop-opacity="0.5"/><stop offset="1" stop-color="#ff6a00" stop-opacity="0"/></radialGradient>
<ellipse cx="1250" cy="750" rx="250" ry="220" fill="url(#r27)"/>
</g>
<g filter="url(#b1_5)">
<polygon points="1132,531.5 1157.7,530.3 1183.4,529 1209.1,527.7 1234.8,526.4 1260.5,525.2 1286.2,523.9 1311.9,522.6 1337.6,521.3 1363.3,520 1389,518.8 1414.7,517.5 1440.4,516.2 1466.1,514.9 1491.8,513.7 1517.5,512.4 1543.2,511.1 1568.9,509.8 1594.6,508.6 1620.3,507.3 1646,506 1671.7,504.7 1697.4,503.4 1723.1,502.2 1748.8,500.9 1774.5,499.6 1800.2,498.3 1825.9,497.1 1851.6,495.8 1877.3,494.5 1903,493.2 1903,487.7 1877.3,489.1 1851.6,490.5 1825.9,491.9 1800.2,493.3 1774.5,494.7 1748.8,496.1 1723.1,497.6 1697.4,499 1671.7,500.4 1646,501.8 1620.3,503.2 1594.6,504.6 1568.9,506 1543.2,507.4 1517.5,508.8 1491.8,510.3 1466.1,511.7 1440.4,513.1 1414.7,514.5 1389,515.9 1363.3,517.3 1337.6,518.7 1311.9,520.1 1286.2,521.5 1260.5,523 1234.8,524.4 1209.1,525.8 1183.4,527.2 1157.7,528.6 1132,530" fill="#e8f4d8"/>
<polygon points="1132,533.1 1157.7,531.9 1183.4,530.8 1209.1,529.6 1234.8,528.5 1260.5,527.4 1286.2,526.2 1311.9,525.1 1337.6,523.9 1363.3,522.8 1389,521.6 1414.7,520.5 1440.4,519.4 1466.1,518.2 1491.8,517.1 1517.5,515.9 1543.2,514.8 1568.9,513.6 1594.6,512.5 1620.3,511.4 1646,510.2 1671.7,509.1 1697.4,507.9 1723.1,506.8 1748.8,505.6 1774.5,504.5 1800.2,503.3 1825.9,502.2 1851.6,501.1 1877.3,499.9 1903,498.8 1903,493.2 1877.3,494.5 1851.6,495.8 1825.9,497.1 1800.2,498.3 1774.5,499.6 1748.8,500.9 1723.1,502.2 1697.4,503.4 1671.7,504.7 1646,506 1620.3,507.3 1594.6,508.6 1568.9,509.8 1543.2,511.1 1517.5,512.4 1491.8,513.7 1466.1,514.9 1440.4,516.2 1414.7,517.5 1389,518.8 1363.3,520 1337.6,521.3 1311.9,522.6 1286.2,523.9 1260.5,525.2 1234.8,526.4 1209.1,527.7 1183.4,529 1157.7,530.3 1132,531.5" fill="#3c78d0"/>
<polygon points="1132,535.8 1157.7,534.9 1183.4,533.9 1209.1,533 1234.8,532.1 1260.5,531.2 1286.2,530.3 1311.9,529.4 1337.6,528.5 1363.3,527.6 1389,526.7 1414.7,525.8 1440.4,524.9 1466.1,523.9 1491.8,523 1517.5,522.1 1543.2,521.2 1568.9,520.3 1594.6,519.4 1620.3,518.5 1646,517.6 1671.7,516.7 1697.4,515.8 1723.1,514.9 1748.8,513.9 1774.5,513 1800.2,512.1 1825.9,511.2 1851.6,510.3 1877.3,509.4 1903,508.5 1903,498.8 1877.3,499.9 1851.6,501.1 1825.9,502.2 1800.2,503.3 1774.5,504.5 1748.8,505.6 1723.1,506.8 1697.4,507.9 1671.7,509.1 1646,510.2 1620.3,511.4 1594.6,512.5 1568.9,513.6 1543.2,514.8 1517.5,515.9 1491.8,517.1 1466.1,518.2 1440.4,519.4 1414.7,520.5 1389,521.6 1363.3,522.8 1337.6,523.9 1311.9,525.1 1286.2,526.2 1260.5,527.4 1234.8,528.5 1209.1,529.6 1183.4,530.8 1157.7,531.9 1132,533.1" fill="#58d0b0"/>
<polygon points="1132,538.3 1157.7,537.6 1183.4,536.9 1209.1,536.3 1234.8,535.6 1260.5,534.9 1286.2,534.2 1311.9,533.5 1337.6,532.8 1363.3,532.1 1389,531.5 1414.7,530.8 1440.4,530.1 1466.1,529.4 1491.8,528.7 1517.5,528 1543.2,527.3 1568.9,526.7 1594.6,526 1620.3,525.3 1646,524.6 1671.7,523.9 1697.4,523.2 1723.1,522.5 1748.8,521.9 1774.5,521.2 1800.2,520.5 1825.9,519.8 1851.6,519.1 1877.3,518.4 1903,517.7 1903,508.5 1877.3,509.4 1851.6,510.3 1825.9,511.2 1800.2,512.1 1774.5,513 1748.8,513.9 1723.1,514.9 1697.4,515.8 1671.7,516.7 1646,517.6 1620.3,518.5 1594.6,519.4 1568.9,520.3 1543.2,521.2 1517.5,522.1 1491.8,523 1466.1,523.9 1440.4,524.9 1414.7,525.8 1389,526.7 1363.3,527.6 1337.6,528.5 1311.9,529.4 1286.2,530.3 1260.5,531.2 1234.8,532.1 1209.1,533 1183.4,533.9 1157.7,534.9 1132,535.8" fill="#90f050"/>
<polygon points="1132,540.9 1157.7,540.4 1183.4,540 1209.1,539.5 1234.8,539 1260.5,538.6 1286.2,538.1 1311.9,537.6 1337.6,537.2 1363.3,536.7 1389,536.2 1414.7,535.8 1440.4,535.3 1466.1,534.9 1491.8,534.4 1517.5,533.9 1543.2,533.5 1568.9,533 1594.6,532.5 1620.3,532.1 1646,531.6 1671.7,531.2 1697.4,530.7 1723.1,530.2 1748.8,529.8 1774.5,529.3 1800.2,528.8 1825.9,528.4 1851.6,527.9 1877.3,527.5 1903,527 1903,517.7 1877.3,518.4 1851.6,519.1 1825.9,519.8 1800.2,520.5 1774.5,521.2 1748.8,521.9 1723.1,522.5 1697.4,523.2 1671.7,523.9 1646,524.6 1620.3,525.3 1594.6,526 1568.9,526.7 1543.2,527.3 1517.5,528 1491.8,528.7 1466.1,529.4 1440.4,530.1 1414.7,530.8 1389,531.5 1363.3,532.1 1337.6,532.8 1311.9,533.5 1286.2,534.2 1260.5,534.9 1234.8,535.6 1209.1,536.3 1183.4,536.9 1157.7,537.6 1132,538.3" fill="#f0f020"/>
<polygon points="1132,542.8 1157.7,542.5 1183.4,542.2 1209.1,541.9 1234.8,541.6 1260.5,541.3 1286.2,541 1311.9,540.7 1337.6,540.4 1363.3,540.1 1389,539.8 1414.7,539.5 1440.4,539.2 1466.1,539 1491.8,538.7 1517.5,538.4 1543.2,538.1 1568.9,537.8 1594.6,537.5 1620.3,537.2 1646,536.9 1671.7,536.6 1697.4,536.3 1723.1,536 1748.8,535.7 1774.5,535.4 1800.2,535.1 1825.9,534.8 1851.6,534.5 1877.3,534.2 1903,533.9 1903,527 1877.3,527.5 1851.6,527.9 1825.9,528.4 1800.2,528.8 1774.5,529.3 1748.8,529.8 1723.1,530.2 1697.4,530.7 1671.7,531.2 1646,531.6 1620.3,532.1 1594.6,532.5 1568.9,533 1543.2,533.5 1517.5,533.9 1491.8,534.4 1466.1,534.9 1440.4,535.3 1414.7,535.8 1389,536.2 1363.3,536.7 1337.6,537.2 1311.9,537.6 1286.2,538.1 1260.5,538.6 1234.8,539 1209.1,539.5 1183.4,540 1157.7,540.4 1132,540.9" fill="#f8c020"/>
</g>
<g filter="url(#b1_5)">
<polygon points="1797.2,494.5 1837.1,501.3 1901,500 1901,480 1837.1,484.3" fill="#0818b8"/>
<ellipse cx="1815.1" cy="493.5" rx="20" ry="6" fill="#100818" transform="rotate(-3.1 1815.1 493.5)"/>
<line x1="1802.1" y1="494.2" x2="1862.1" y2="490.9" stroke="#9090e8" stroke-width="5"/>
</g>
<ellipse cx="1142" cy="527" rx="20" ry="7" fill="#e8f0e0"/>
<polygon points="1075,124 1416,124 1416,140 1075,140" fill="#f0c890" opacity="0.6" filter="url(#b1)"/>
<polygon points="1075,565 1897,541 1897,557 1075,581" fill="#f8e0d8" opacity="0.4" filter="url(#b1)"/>
<line x1="1075" y1="573" x2="1897" y2="549" stroke="#ffffff" stroke-width="8" opacity="0.1" stroke-dasharray="5 3"/>
<linearGradient id="sf28" gradientUnits="userSpaceOnUse" x1="1085" y1="0" x2="1480" y2="0"><stop offset="0" stop-color="#fce0e0" stop-opacity="1"/><stop offset="0.55" stop-color="#fce0e0" stop-opacity="1"/><stop offset="1" stop-color="#fce0e0" stop-opacity="0"/></linearGradient>
<polygon points="1085,565.5 1480,555.5 1480,570.5 1085,580.5" fill="url(#sf28)" opacity="0.5" filter="url(#b1)"/>
<line x1="1085" y1="573" x2="1480" y2="563" stroke="#ffffff" stroke-width="7.5" opacity="0.1" stroke-dasharray="5 3"/>
</g>
<ellipse cx="1139" cy="519" rx="25" ry="23" fill="none" stroke="#3e4a2e" stroke-width="3.5"/>
<polygon points="1151.5,494 1369.8,334.7 1372,337.6 1400.4,310.9 1402,303 1394,302.3 1360.4,322.2 1362.6,325.1 1148.5,490" fill="#4f4f4f" filter="url(#b1)"/>
<clipPath id="c7"><rect x="1416" y="44" width="458" height="414"/></clipPath>
<g clip-path="url(#c7)">
<linearGradient id="g29" x1="0" y1="0" x2="1" y2="0"><stop offset="0" stop-color="#70f090"/><stop offset="0.2" stop-color="#a0ff50"/><stop offset="0.55" stop-color="#d0ff28"/><stop offset="1" stop-color="#ecff14"/></linearGradient>
<rect x="1416" y="44" width="458" height="414" fill="url(#g29)"/>
<radialGradient id="r30"><stop offset="0" stop-color="#00f0ff" stop-opacity="1"/><stop offset="0.5" stop-color="#30f0d0" stop-opacity="0.7"/><stop offset="1" stop-color="#50f0b0" stop-opacity="0"/></radialGradient>
<ellipse cx="1420" cy="268" rx="45" ry="60" fill="url(#r30)"/>
<radialGradient id="r31"><stop offset="0" stop-color="#60f0a0" stop-opacity="0.7"/><stop offset="1" stop-color="#60f0a0" stop-opacity="0"/></radialGradient>
<ellipse cx="1425" cy="180" rx="60" ry="110" fill="url(#r31)"/>
<g filter="url(#b2)">
<polygon points="1414,318 1421.7,319.9 1429.4,322.5 1437.1,325 1444.8,327.2 1452.5,329.1 1460.2,331.1 1467.9,333 1475.6,334.9 1483.3,336.6 1491,337.9 1498.7,339.3 1506.4,340.6 1514.1,342 1521.8,343.3 1529.5,344.7 1537.2,346 1544.9,347.4 1552.6,348.7 1560.3,350 1568,351 1575.7,351.9 1583.4,352.8 1591.1,353.7 1598.8,354.7 1606.5,355.6 1614.2,356.5 1621.9,357.4 1629.6,358.4 1637.3,359.3 1645,360.2 1652.7,361.1 1660.4,362 1668.1,362.6 1675.8,363.3 1683.5,363.9 1691.2,364.5 1698.9,365.1 1706.6,365.7 1714.3,366.3 1722,367 1729.7,367.6 1737.4,368.2 1745.1,368.8 1752.8,369.4 1760.5,370 1768.2,370.4 1775.9,370.8 1783.6,371.2 1791.3,371.6 1799,372.1 1806.7,372.5 1814.4,372.9 1822.1,373.3 1829.8,373.7 1837.5,374.1 1845.2,374.5 1852.9,374.9 1860.6,375.3 1868.3,375.7 1876,376 1876,312 1868.3,312.4 1860.6,313 1852.9,313.5 1845.2,314.1 1837.5,314.6 1829.8,315.2 1822.1,315.8 1814.4,316.3 1806.7,316.9 1799,317.4 1791.3,318 1783.6,318.5 1775.9,319.1 1768.2,319.7 1760.5,320.2 1752.8,320.8 1745.1,321.3 1737.4,321.9 1729.7,322.4 1722,323 1714.3,323.2 1706.6,323.4 1698.9,323.6 1691.2,323.8 1683.5,324 1675.8,324.1 1668.1,324.3 1660.4,324.5 1652.7,324.7 1645,324.9 1637.3,325.1 1629.6,325.3 1621.9,325.5 1614.2,325.7 1606.5,325.9 1598.8,326 1591.1,326.2 1583.4,326.4 1575.7,326.6 1568,326.8 1560.3,327 1552.6,327.1 1544.9,327.2 1537.2,327.3 1529.5,327.4 1521.8,327.5 1514.1,327.6 1506.4,327.7 1498.7,327.8 1491,327.9 1483.3,328 1475.6,327 1467.9,325.2 1460.2,323.4 1452.5,321.6 1444.8,319.8 1437.1,318 1429.4,316.2 1421.7,314.3 1414,313" fill="#ff7a00"/>
<polygon points="1414,317.7 1421.7,319.5 1429.4,322 1437.1,324.5 1444.8,326.7 1452.5,328.6 1460.2,330.5 1467.9,332.4 1475.6,334.3 1483.3,336 1491,337.2 1498.7,338.4 1506.4,339.7 1514.1,340.9 1521.8,342.1 1529.5,343.4 1537.2,344.6 1544.9,345.8 1552.6,347.1 1560.3,348.3 1568,349.1 1575.7,349.9 1583.4,350.8 1591.1,351.6 1598.8,352.4 1606.5,353.3 1614.2,354.1 1621.9,355 1629.6,355.8 1637.3,356.6 1645,357.5 1652.7,358.3 1660.4,359.1 1668.1,359.7 1675.8,360.2 1683.5,360.8 1691.2,361.3 1698.9,361.9 1706.6,362.4 1714.3,363 1722,363.5 1729.7,364 1737.4,364.6 1745.1,365.1 1752.8,365.6 1760.5,366.1 1768.2,366.4 1775.9,366.8 1783.6,367.1 1791.3,367.4 1799,367.8 1806.7,368.1 1814.4,368.4 1822.1,368.7 1829.8,369.1 1837.5,369.4 1845.2,369.7 1852.9,370.1 1860.6,370.4 1868.3,370.7 1876,371 1876,312 1868.3,312.4 1860.6,313 1852.9,313.5 1845.2,314.1 1837.5,314.6 1829.8,315.2 1822.1,315.8 1814.4,316.3 1806.7,316.9 1799,317.4 1791.3,318 1783.6,318.5 1775.9,319.1 1768.2,319.7 1760.5,320.2 1752.8,320.8 1745.1,321.3 1737.4,321.9 1729.7,322.4 1722,323 1714.3,323.2 1706.6,323.4 1698.9,323.6 1691.2,323.8 1683.5,324 1675.8,324.1 1668.1,324.3 1660.4,324.5 1652.7,324.7 1645,324.9 1637.3,325.1 1629.6,325.3 1621.9,325.5 1614.2,325.7 1606.5,325.9 1598.8,326 1591.1,326.2 1583.4,326.4 1575.7,326.6 1568,326.8 1560.3,327 1552.6,327.1 1544.9,327.2 1537.2,327.3 1529.5,327.4 1521.8,327.5 1514.1,327.6 1506.4,327.7 1498.7,327.8 1491,327.9 1483.3,328 1475.6,327 1467.9,325.2 1460.2,323.4 1452.5,321.6 1444.8,319.8 1437.1,318 1429.4,316.2 1421.7,314.3 1414,313" fill="#ffe000"/>
<polygon points="1414,317.3 1421.7,319.1 1429.4,321.6 1437.1,324 1444.8,326.1 1452.5,328 1460.2,329.9 1467.9,331.8 1475.6,333.7 1483.3,335.3 1491,336.4 1498.7,337.5 1506.4,338.6 1514.1,339.7 1521.8,340.8 1529.5,341.9 1537.2,343 1544.9,344.1 1552.6,345.2 1560.3,346.3 1568,347 1575.7,347.8 1583.4,348.5 1591.1,349.2 1598.8,350 1606.5,350.7 1614.2,351.4 1621.9,352.2 1629.6,352.9 1637.3,353.6 1645,354.4 1652.7,355.1 1660.4,355.8 1668.1,356.3 1675.8,356.8 1683.5,357.3 1691.2,357.7 1698.9,358.2 1706.6,358.7 1714.3,359.2 1722,359.7 1729.7,360.1 1737.4,360.5 1745.1,360.9 1752.8,361.3 1760.5,361.7 1768.2,362 1775.9,362.2 1783.6,362.5 1791.3,362.7 1799,362.9 1806.7,363.2 1814.4,363.4 1822.1,363.7 1829.8,363.9 1837.5,364.1 1845.2,364.4 1852.9,364.6 1860.6,364.9 1868.3,365.1 1876,365.3 1876,312 1868.3,312.4 1860.6,313 1852.9,313.5 1845.2,314.1 1837.5,314.6 1829.8,315.2 1822.1,315.8 1814.4,316.3 1806.7,316.9 1799,317.4 1791.3,318 1783.6,318.5 1775.9,319.1 1768.2,319.7 1760.5,320.2 1752.8,320.8 1745.1,321.3 1737.4,321.9 1729.7,322.4 1722,323 1714.3,323.2 1706.6,323.4 1698.9,323.6 1691.2,323.8 1683.5,324 1675.8,324.1 1668.1,324.3 1660.4,324.5 1652.7,324.7 1645,324.9 1637.3,325.1 1629.6,325.3 1621.9,325.5 1614.2,325.7 1606.5,325.9 1598.8,326 1591.1,326.2 1583.4,326.4 1575.7,326.6 1568,326.8 1560.3,327 1552.6,327.1 1544.9,327.2 1537.2,327.3 1529.5,327.4 1521.8,327.5 1514.1,327.6 1506.4,327.7 1498.7,327.8 1491,327.9 1483.3,328 1475.6,327 1467.9,325.2 1460.2,323.4 1452.5,321.6 1444.8,319.8 1437.1,318 1429.4,316.2 1421.7,314.3 1414,313" fill="#90f060"/>
<polygon points="1414,317 1421.7,318.8 1429.4,321.1 1437.1,323.5 1444.8,325.6 1452.5,327.5 1460.2,329.4 1467.9,331.3 1475.6,333.2 1483.3,334.7 1491,335.7 1498.7,336.6 1506.4,337.6 1514.1,338.6 1521.8,339.6 1529.5,340.6 1537.2,341.6 1544.9,342.6 1552.6,343.6 1560.3,344.5 1568,345.2 1575.7,345.8 1583.4,346.5 1591.1,347.1 1598.8,347.8 1606.5,348.4 1614.2,349 1621.9,349.7 1629.6,350.3 1637.3,351 1645,351.6 1652.7,352.3 1660.4,352.9 1668.1,353.3 1675.8,353.7 1683.5,354.1 1691.2,354.6 1698.9,355 1706.6,355.4 1714.3,355.8 1722,356.2 1729.7,356.5 1737.4,356.9 1745.1,357.2 1752.8,357.5 1760.5,357.8 1768.2,358 1775.9,358.2 1783.6,358.3 1791.3,358.5 1799,358.6 1806.7,358.8 1814.4,359 1822.1,359.1 1829.8,359.3 1837.5,359.5 1845.2,359.6 1852.9,359.8 1860.6,360 1868.3,360.1 1876,360.2 1876,312 1868.3,312.4 1860.6,313 1852.9,313.5 1845.2,314.1 1837.5,314.6 1829.8,315.2 1822.1,315.8 1814.4,316.3 1806.7,316.9 1799,317.4 1791.3,318 1783.6,318.5 1775.9,319.1 1768.2,319.7 1760.5,320.2 1752.8,320.8 1745.1,321.3 1737.4,321.9 1729.7,322.4 1722,323 1714.3,323.2 1706.6,323.4 1698.9,323.6 1691.2,323.8 1683.5,324 1675.8,324.1 1668.1,324.3 1660.4,324.5 1652.7,324.7 1645,324.9 1637.3,325.1 1629.6,325.3 1621.9,325.5 1614.2,325.7 1606.5,325.9 1598.8,326 1591.1,326.2 1583.4,326.4 1575.7,326.6 1568,326.8 1560.3,327 1552.6,327.1 1544.9,327.2 1537.2,327.3 1529.5,327.4 1521.8,327.5 1514.1,327.6 1506.4,327.7 1498.7,327.8 1491,327.9 1483.3,328 1475.6,327 1467.9,325.2 1460.2,323.4 1452.5,321.6 1444.8,319.8 1437.1,318 1429.4,316.2 1421.7,314.3 1414,313" fill="#30e8e0"/>
<polygon points="1414,316.6 1421.7,318.3 1429.4,320.6 1437.1,322.9 1444.8,325 1452.5,326.8 1460.2,328.7 1467.9,330.6 1475.6,332.5 1483.3,333.9 1491,334.8 1498.7,335.6 1506.4,336.4 1514.1,337.3 1521.8,338.1 1529.5,339 1537.2,339.8 1544.9,340.6 1552.6,341.5 1560.3,342.3 1568,342.9 1575.7,343.4 1583.4,343.9 1591.1,344.5 1598.8,345 1606.5,345.5 1614.2,346.1 1621.9,346.6 1629.6,347.1 1637.3,347.7 1645,348.2 1652.7,348.7 1660.4,349.3 1668.1,349.6 1675.8,349.9 1683.5,350.3 1691.2,350.6 1698.9,350.9 1706.6,351.3 1714.3,351.6 1722,351.9 1729.7,352.1 1737.4,352.3 1745.1,352.5 1752.8,352.7 1760.5,352.9 1768.2,353 1775.9,353.1 1783.6,353.1 1791.3,353.2 1799,353.3 1806.7,353.4 1814.4,353.4 1822.1,353.5 1829.8,353.6 1837.5,353.6 1845.2,353.7 1852.9,353.8 1860.6,353.8 1868.3,353.9 1876,353.9 1876,312 1868.3,312.4 1860.6,313 1852.9,313.5 1845.2,314.1 1837.5,314.6 1829.8,315.2 1822.1,315.8 1814.4,316.3 1806.7,316.9 1799,317.4 1791.3,318 1783.6,318.5 1775.9,319.1 1768.2,319.7 1760.5,320.2 1752.8,320.8 1745.1,321.3 1737.4,321.9 1729.7,322.4 1722,323 1714.3,323.2 1706.6,323.4 1698.9,323.6 1691.2,323.8 1683.5,324 1675.8,324.1 1668.1,324.3 1660.4,324.5 1652.7,324.7 1645,324.9 1637.3,325.1 1629.6,325.3 1621.9,325.5 1614.2,325.7 1606.5,325.9 1598.8,326 1591.1,326.2 1583.4,326.4 1575.7,326.6 1568,326.8 1560.3,327 1552.6,327.1 1544.9,327.2 1537.2,327.3 1529.5,327.4 1521.8,327.5 1514.1,327.6 1506.4,327.7 1498.7,327.8 1491,327.9 1483.3,328 1475.6,327 1467.9,325.2 1460.2,323.4 1452.5,321.6 1444.8,319.8 1437.1,318 1429.4,316.2 1421.7,314.3 1414,313" fill="#0070e8"/>
<polygon points="1414,316.2 1421.7,317.9 1429.4,320.1 1437.1,322.4 1444.8,324.4 1452.5,326.2 1460.2,328.1 1467.9,330 1475.6,331.9 1483.3,333.2 1491,333.9 1498.7,334.6 1506.4,335.4 1514.1,336.1 1521.8,336.8 1529.5,337.5 1537.2,338.2 1544.9,338.9 1552.6,339.6 1560.3,340.3 1568,340.8 1575.7,341.2 1583.4,341.6 1591.1,342.1 1598.8,342.5 1606.5,342.9 1614.2,343.4 1621.9,343.8 1629.6,344.2 1637.3,344.7 1645,345.1 1652.7,345.5 1660.4,346 1668.1,346.2 1675.8,346.5 1683.5,346.8 1691.2,347 1698.9,347.3 1706.6,347.5 1714.3,347.8 1722,348.1 1729.7,348.2 1737.4,348.3 1745.1,348.4 1752.8,348.5 1760.5,348.5 1768.2,348.5 1775.9,348.5 1783.6,348.5 1791.3,348.5 1799,348.5 1806.7,348.4 1814.4,348.4 1822.1,348.4 1829.8,348.4 1837.5,348.4 1845.2,348.3 1852.9,348.3 1860.6,348.3 1868.3,348.3 1876,348.3 1876,312 1868.3,312.4 1860.6,313 1852.9,313.5 1845.2,314.1 1837.5,314.6 1829.8,315.2 1822.1,315.8 1814.4,316.3 1806.7,316.9 1799,317.4 1791.3,318 1783.6,318.5 1775.9,319.1 1768.2,319.7 1760.5,320.2 1752.8,320.8 1745.1,321.3 1737.4,321.9 1729.7,322.4 1722,323 1714.3,323.2 1706.6,323.4 1698.9,323.6 1691.2,323.8 1683.5,324 1675.8,324.1 1668.1,324.3 1660.4,324.5 1652.7,324.7 1645,324.9 1637.3,325.1 1629.6,325.3 1621.9,325.5 1614.2,325.7 1606.5,325.9 1598.8,326 1591.1,326.2 1583.4,326.4 1575.7,326.6 1568,326.8 1560.3,327 1552.6,327.1 1544.9,327.2 1537.2,327.3 1529.5,327.4 1521.8,327.5 1514.1,327.6 1506.4,327.7 1498.7,327.8 1491,327.9 1483.3,328 1475.6,327 1467.9,325.2 1460.2,323.4 1452.5,321.6 1444.8,319.8 1437.1,318 1429.4,316.2 1421.7,314.3 1414,313" fill="#0000a8"/>
</g>
<clipPath id="c8"><polygon points="1414,460 1876,460 1876,376 1868.3,375.7 1860.6,375.3 1852.9,374.9 1845.2,374.5 1837.5,374.1 1829.8,373.7 1822.1,373.3 1814.4,372.9 1806.7,372.5 1799,372.1 1791.3,371.6 1783.6,371.2 1775.9,370.8 1768.2,370.4 1760.5,370 1752.8,369.4 1745.1,368.8 1737.4,368.2 1729.7,367.6 1722,367 1714.3,366.3 1706.6,365.7 1698.9,365.1 1691.2,364.5 1683.5,363.9 1675.8,363.3 1668.1,362.6 1660.4,362 1652.7,361.1 1645,360.2 1637.3,359.3 1629.6,358.4 1621.9,357.4 1614.2,356.5 1606.5,355.6 1598.8,354.7 1591.1,353.7 1583.4,352.8 1575.7,351.9 1568,351 1560.3,350 1552.6,348.7 1544.9,347.4 1537.2,346 1529.5,344.7 1521.8,343.3 1514.1,342 1506.4,340.6 1498.7,339.3 1491,337.9 1483.3,336.6 1475.6,334.9 1467.9,333 1460.2,331.1 1452.5,329.1 1444.8,327.2 1437.1,325 1429.4,322.5 1421.7,319.9 1414,318"/></clipPath>
<polygon points="1414,460 1876,460 1876,376 1868.3,375.7 1860.6,375.3 1852.9,374.9 1845.2,374.5 1837.5,374.1 1829.8,373.7 1822.1,373.3 1814.4,372.9 1806.7,372.5 1799,372.1 1791.3,371.6 1783.6,371.2 1775.9,370.8 1768.2,370.4 1760.5,370 1752.8,369.4 1745.1,368.8 1737.4,368.2 1729.7,367.6 1722,367 1714.3,366.3 1706.6,365.7 1698.9,365.1 1691.2,364.5 1683.5,363.9 1675.8,363.3 1668.1,362.6 1660.4,362 1652.7,361.1 1645,360.2 1637.3,359.3 1629.6,358.4 1621.9,357.4 1614.2,356.5 1606.5,355.6 1598.8,354.7 1591.1,353.7 1583.4,352.8 1575.7,351.9 1568,351 1560.3,350 1552.6,348.7 1544.9,347.4 1537.2,346 1529.5,344.7 1521.8,343.3 1514.1,342 1506.4,340.6 1498.7,339.3 1491,337.9 1483.3,336.6 1475.6,334.9 1467.9,333 1460.2,331.1 1452.5,329.1 1444.8,327.2 1437.1,325 1429.4,322.5 1421.7,319.9 1414,318" fill="#e00000" filter="url(#b1_5)"/>
<g clip-path="url(#c8)">
<radialGradient id="r32"><stop offset="0" stop-color="#940000" stop-opacity="1"/><stop offset="0.5" stop-color="#a40000" stop-opacity="0.8"/><stop offset="1" stop-color="#c00000" stop-opacity="0"/></radialGradient>
<ellipse cx="1540" cy="395" rx="150" ry="50" fill="url(#r32)" transform="rotate(10 1540 395)"/>
<radialGradient id="r33"><stop offset="0" stop-color="#8a0000" stop-opacity="0.7"/><stop offset="1" stop-color="#8a0000" stop-opacity="0"/></radialGradient>
<ellipse cx="1470" cy="380" rx="50" ry="40" fill="url(#r33)"/>
<radialGradient id="r34"><stop offset="0" stop-color="#ff1000" stop-opacity="0.9"/><stop offset="1" stop-color="#ff1000" stop-opacity="0"/></radialGradient>
<ellipse cx="1424" cy="410" rx="16" ry="70" fill="url(#r34)"/>
<radialGradient id="r35"><stop offset="0" stop-color="#ff0800" stop-opacity="0.7"/><stop offset="1" stop-color="#ff0800" stop-opacity="0"/></radialGradient>
<ellipse cx="1840" cy="420" rx="50" ry="60" fill="url(#r35)"/>
</g>
<polygon points="1424,313 1429.4,317.2 1437.1,319 1444.8,320.8 1452.5,322.6 1460.2,324.4 1467.9,326.2 1475.6,328 1483.3,329 1491,328.9 1498.7,328.8 1506.4,328.7 1514.1,328.6 1521.8,328.5 1529.5,328.4 1537.2,328.3 1544.9,328.2 1552.6,328.1 1560.3,328 1568,327.8 1575.7,327.6 1583.4,327.4 1591.1,327.2 1598.8,327 1606.5,326.9 1614.2,326.7 1621.9,326.5 1629.6,326.3 1637.3,326.1 1645,325.9 1652.7,325.7 1660.4,325.5 1668.1,325.3 1675.8,325.1 1683.5,325 1691.2,324.8 1698.9,324.6 1706.6,324.4 1714.3,324.2 1722,324 1729.7,323.4 1737.4,322.9 1745.1,322.3 1752.8,321.8 1760.5,321.2 1768.2,320.7 1775.9,320.1 1783.6,319.5 1791.3,319 1799,318.4 1806.7,317.9 1814.4,317.3 1822.1,316.8 1829.8,316.2 1837.5,315.6 1845.2,315.1 1852.9,314.5 1860.6,314 1868.3,313.4 1876,313 1876,259 1868.3,259.3 1860.6,259.7 1852.9,260.1 1845.2,260.6 1837.5,261 1829.8,261.4 1822.1,261.8 1814.4,262.2 1806.7,262.6 1799,263.1 1791.3,263.4 1783.6,263.8 1775.9,264.2 1768.2,264.6 1760.5,265 1752.8,265.4 1745.1,265.7 1737.4,266.1 1729.7,266.5 1722,266.9 1714.3,267.3 1706.6,267.7 1698.9,268.1 1691.2,268.5 1683.5,268.9 1675.8,269.4 1668.1,269.8 1660.4,270.3 1652.7,270.7 1645,271.1 1637.3,271.6 1629.6,272 1621.9,272.5 1614.2,272.9 1606.5,273.3 1598.8,273.8 1591.1,274.2 1583.4,274.7 1575.7,275.1 1568,275.5 1560.3,276 1552.6,276.3 1544.9,276.7 1537.2,277.1 1529.5,277.4 1521.8,277.8 1514.1,278.2 1506.4,278.5 1498.7,278.9 1491,279.2 1483.3,279.6 1475.6,280 1467.9,283.7 1460.2,287.6 1452.5,291.6 1444.8,295.5 1437.1,299.5 1429.4,303.3" fill="#fdfdfd" filter="url(#b1)"/>
<polygon points="1417,306 1440,286 1458,280 1463,290 1432,312" fill="#0828c8" filter="url(#b3)"/>
<g filter="url(#b1)" opacity="0.8"><ellipse cx="1779.9" cy="348.9" rx="3.6" ry="1.7" fill="#9098d8"/><ellipse cx="1729.3" cy="342.7" rx="6.4" ry="2.7" fill="#c0c0c8"/><ellipse cx="1568.2" cy="343" rx="14" ry="2.8" fill="#c0c0c8"/><ellipse cx="1778.4" cy="340" rx="7.9" ry="2" fill="#b8bce8"/><ellipse cx="1760.3" cy="336" rx="13.3" ry="3.3" fill="#7078c8"/><ellipse cx="1765.1" cy="339.6" rx="9.2" ry="2" fill="#b8bce8"/><ellipse cx="1600.6" cy="331.8" rx="8.6" ry="2.2" fill="#c0c0c8"/><ellipse cx="1715.1" cy="332" rx="12.8" ry="3.1" fill="#c0c0c8"/><ellipse cx="1768.5" cy="344.8" rx="11.7" ry="2.2" fill="#7078c8"/><ellipse cx="1597.1" cy="344.6" rx="10.9" ry="2.4" fill="#c0c0c8"/><ellipse cx="1617.5" cy="334.1" rx="8.5" ry="2.5" fill="#d8d8f0"/><ellipse cx="1712.2" cy="338" rx="12.9" ry="2.2" fill="#c0c0c8"/><ellipse cx="1726.5" cy="338.7" rx="5.4" ry="2.1" fill="#9098d8"/><ellipse cx="1761.6" cy="341.6" rx="11.5" ry="2.5" fill="#d8d8f0"/><ellipse cx="1780.2" cy="343.5" rx="8.5" ry="2.5" fill="#c0c0c8"/><ellipse cx="1695.2" cy="334.9" rx="5.3" ry="2.5" fill="#c0c0c8"/><ellipse cx="1762.9" cy="345.3" rx="6.8" ry="1.5" fill="#9098d8"/><ellipse cx="1789.3" cy="330.3" rx="9.3" ry="1.6" fill="#c0c0c8"/><ellipse cx="1612.1" cy="347.3" rx="4.2" ry="2.5" fill="#d8d8f0"/><ellipse cx="1616.3" cy="332.6" rx="12.7" ry="2.3" fill="#b8bce8"/><ellipse cx="1573.1" cy="335.9" rx="5.7" ry="1.5" fill="#b8bce8"/><ellipse cx="1779.5" cy="328.6" rx="11" ry="1.5" fill="#d8d8f0"/><ellipse cx="1589.4" cy="348.6" rx="11.1" ry="2.5" fill="#b8bce8"/><ellipse cx="1648.7" cy="328.9" rx="13.9" ry="1.8" fill="#b8bce8"/><ellipse cx="1561" cy="348.6" rx="9.9" ry="3" fill="#d8d8f0"/><ellipse cx="1637.6" cy="328.7" rx="7.9" ry="3" fill="#b8bce8"/><ellipse cx="1767.5" cy="344.6" rx="12.5" ry="2.9" fill="#7078c8"/><ellipse cx="1780.5" cy="330.1" rx="10.6" ry="3.2" fill="#b8bce8"/><ellipse cx="1663" cy="347.2" rx="4.4" ry="2.7" fill="#7078c8"/><ellipse cx="1672" cy="335.2" rx="12.6" ry="2.2" fill="#d8d8f0"/><ellipse cx="1699.4" cy="337.2" rx="3.2" ry="2.6" fill="#9098d8"/><ellipse cx="1714.2" cy="333.6" rx="4.4" ry="1.8" fill="#7078c8"/><ellipse cx="1706.1" cy="339.2" rx="13.8" ry="3.4" fill="#9098d8"/><ellipse cx="1613.5" cy="337.8" rx="5.8" ry="2.7" fill="#c0c0c8"/><ellipse cx="1742.1" cy="341.7" rx="7" ry="2.9" fill="#d8d8f0"/><ellipse cx="1681" cy="328.1" rx="3.4" ry="2.3" fill="#b8bce8"/><ellipse cx="1677.8" cy="329.9" rx="4.1" ry="1.5" fill="#9098d8"/><ellipse cx="1584.2" cy="328.5" rx="10.4" ry="2.4" fill="#c0c0c8"/><ellipse cx="1707.6" cy="332.7" rx="13" ry="3.4" fill="#7078c8"/><ellipse cx="1657.9" cy="328.5" rx="9.5" ry="3.3" fill="#c0c0c8"/><ellipse cx="1693.7" cy="348.3" rx="10.3" ry="2.5" fill="#b8bce8"/><ellipse cx="1679.4" cy="348.3" rx="9.7" ry="2.1" fill="#d8d8f0"/><ellipse cx="1630.9" cy="347.2" rx="7.5" ry="1.7" fill="#9098d8"/><ellipse cx="1753.3" cy="342.8" rx="3.2" ry="2.4" fill="#7078c8"/><ellipse cx="1706.6" cy="338.2" rx="12.8" ry="2.7" fill="#b8bce8"/><ellipse cx="1625.4" cy="336.2" rx="13.3" ry="1.7" fill="#7078c8"/><ellipse cx="1604.2" cy="340.6" rx="7.3" ry="2.4" fill="#d8d8f0"/><ellipse cx="1650.9" cy="330.7" rx="4.3" ry="1.7" fill="#d8d8f0"/><ellipse cx="1707.4" cy="349.1" rx="10.6" ry="1.5" fill="#7078c8"/><ellipse cx="1738.8" cy="343.9" rx="8.5" ry="2.2" fill="#7078c8"/><ellipse cx="1592.5" cy="336.2" rx="8.3" ry="3.2" fill="#7078c8"/><ellipse cx="1774.4" cy="346.4" rx="6.3" ry="2" fill="#7078c8"/><ellipse cx="1697.2" cy="340.1" rx="10.7" ry="2.9" fill="#b8bce8"/><ellipse cx="1694.8" cy="346" rx="4.1" ry="2.2" fill="#c0c0c8"/><ellipse cx="1593.7" cy="337.2" rx="3.7" ry="1.7" fill="#b8bce8"/><ellipse cx="1589.6" cy="334.5" rx="5.5" ry="2.8" fill="#d8d8f0"/><ellipse cx="1660.9" cy="339.5" rx="4.2" ry="2.6" fill="#7078c8"/><ellipse cx="1582.1" cy="339.4" rx="10.9" ry="2" fill="#9098d8"/><ellipse cx="1666" cy="343.5" rx="7.4" ry="3.5" fill="#c0c0c8"/><ellipse cx="1727.7" cy="338.3" rx="10.9" ry="3.1" fill="#7078c8"/></g>
<g filter="url(#b1)" opacity="0.85">
<polyline points="1475.6,280 1483.3,279.6 1491,279.2 1498.7,278.9 1506.4,278.5 1514.1,278.2 1521.8,277.8 1529.5,277.4 1537.2,277.1 1544.9,276.7 1552.6,276.3 1560.3,276 1568,275.5 1575.7,275.1 1583.4,274.7 1591.1,274.2 1598.8,273.8 1606.5,273.3 1614.2,272.9 1621.9,272.5 1629.6,272 1637.3,271.6 1645,271.1 1652.7,270.7 1660.4,270.3 1668.1,269.8 1675.8,269.4 1683.5,268.9 1691.2,268.5 1698.9,268.1 1706.6,267.7 1714.3,267.3 1722,266.9 1729.7,266.5 1737.4,266.1 1745.1,265.7 1752.8,265.4 1760.5,265 1768.2,264.6 1775.9,264.2 1783.6,263.8 1791.3,263.4 1799,263.1 1806.7,262.6 1814.4,262.2 1822.1,261.8 1829.8,261.4 1837.5,261 1845.2,260.6 1852.9,260.1 1860.6,259.7 1868.3,259.3 1876,259" fill="none" stroke="#bcbcb8" stroke-width="5"/>
<polygon points="1627,272.8 1605,263.8 1605,281.8" fill="#bcbcb8"/>
<polygon points="1723,267.4 1701,258.4 1701,276.4" fill="#bcbcb8"/>
<polygon points="1818,262.6 1796,253.6 1796,271.6" fill="#bcbcb8"/>
</g>
</g>
<rect x="1416" y="44" width="458" height="414" fill="none" stroke="#f0a030" stroke-width="3" opacity="0.8"/>
<rect x="1082" y="33" width="808" height="905" fill="none" stroke="#c27a20" stroke-opacity="0.18" stroke-width="6"/>
<rect x="1077" y="28" width="818" height="915" fill="none" stroke="#b4845a" stroke-width="4"/>
<rect x="1073.5" y="24.5" width="825" height="922" fill="none" stroke="#f6c896" stroke-width="3"/>
<rect x="1922" y="105" width="16" height="822" fill="url(#cbar)" stroke="#8a7a8a" stroke-width="3"/>
<text x="1949" y="126" font-family="'Liberation Sans', 'DejaVu Sans', sans-serif" font-size="44" text-anchor="start" fill="#474747" font-weight="normal" font-style="normal">80</text>
<text x="1949" y="228" font-family="'Liberation Sans', 'DejaVu Sans', sans-serif" font-size="44" text-anchor="start" fill="#474747" font-weight="normal" font-style="normal">70</text>
<text x="1949" y="330" font-family="'Liberation Sans', 'DejaVu Sans', sans-serif" font-size="44" text-anchor="start" fill="#474747" font-weight="normal" font-style="normal">60</text>
<text x="1949" y="432" font-family="'Liberation Sans', 'DejaVu Sans', sans-serif" font-size="44" text-anchor="start" fill="#474747" font-weight="normal" font-style="normal">50</text>
<text x="1949" y="534" font-family="'Liberation Sans', 'DejaVu Sans', sans-serif" font-size="44" text-anchor="start" fill="#474747" font-weight="normal" font-style="normal">40</text>
<text x="1949" y="636" font-family="'Liberation Sans', 'DejaVu Sans', sans-serif" font-size="44" text-anchor="start" fill="#474747" font-weight="normal" font-style="normal">30</text>
<text x="1949" y="738" font-family="'Liberation Sans', 'DejaVu Sans', sans-serif" font-size="44" text-anchor="start" fill="#474747" font-weight="normal" font-style="normal">20</text>
<text x="1949" y="841" font-family="'Liberation Sans', 'DejaVu Sans', sans-serif" font-size="44" text-anchor="start" fill="#474747" font-weight="normal" font-style="normal">10</text>
<text x="90" y="1067" font-family="'Liberation Serif', 'Noto Serif CJK SC', serif" font-size="68" text-anchor="start" fill="#1a1a1a" font-weight="normal" font-style="normal" textLength="292" lengthAdjust="spacingAndGlyphs">Streamline</text>
<text x="454" y="1067" font-family="'Liberation Serif', 'Noto Serif CJK SC', serif" font-size="68" text-anchor="start" fill="#1a1a1a" font-weight="normal" font-style="normal" textLength="327" lengthAdjust="spacingAndGlyphs">Speed plant</text>
<text x="818" y="1067" font-family="'Liberation Serif', 'Noto Serif CJK SC', serif" font-size="68" text-anchor="start" fill="#1a1a1a" font-weight="normal" font-style="normal" textLength="284" lengthAdjust="spacingAndGlyphs">Flow field</text>
<text x="1177" y="1067" font-family="'Liberation Serif', 'Noto Serif CJK SC', serif" font-size="68" text-anchor="start" fill="#1a1a1a" font-weight="normal" font-style="normal" textLength="543" lengthAdjust="spacingAndGlyphs">Velocity magnitude</text>
<text x="1795" y="1067" font-family="'Liberation Serif', 'Noto Serif CJK SC', serif" font-size="68" text-anchor="start" fill="#1a1a1a" font-weight="normal" font-style="normal" textLength="97" lengthAdjust="spacingAndGlyphs">m/s</text>
<text x="381" y="1067" font-family="'Liberation Serif', 'Noto Serif CJK SC', 'Noto Sans CJK SC', serif" font-size="68" text-anchor="start" fill="#1a1a1a" font-weight="normal" font-style="normal">：</text>
<text x="1102" y="1067" font-family="'Liberation Serif', 'Noto Serif CJK SC', 'Noto Sans CJK SC', serif" font-size="68" text-anchor="start" fill="#1a1a1a" font-weight="normal" font-style="normal">：</text>
<text x="1716" y="1067" font-family="'Liberation Serif', 'Noto Serif CJK SC', 'Noto Sans CJK SC', serif" font-size="68" text-anchor="start" fill="#1a1a1a" font-weight="normal" font-style="normal">（</text>
<text x="1900" y="1067" font-family="'Liberation Serif', 'Noto Serif CJK SC', 'Noto Sans CJK SC', serif" font-size="68" text-anchor="start" fill="#1a1a1a" font-weight="normal" font-style="normal">）</text>
<text x="975" y="1179" font-family="'Liberation Serif', 'Noto Serif CJK SC', serif" font-size="76" fill="#000">(</text>
<text x="999" y="1179" font-family="'Liberation Serif', 'Noto Serif CJK SC', serif" font-size="76" fill="#000" font-weight="bold">a</text>
<text x="1035" y="1179" font-family="'Liberation Serif', 'Noto Serif CJK SC', serif" font-size="76" fill="#000">)</text>
<text x="178" y="91.6" font-family="'Liberation Sans', 'DejaVu Sans', sans-serif" font-size="46" text-anchor="end" fill="#474747" font-weight="normal" font-style="normal">0.45</text>
<text x="178" y="148" font-family="'Liberation Sans', 'DejaVu Sans', sans-serif" font-size="46" text-anchor="end" fill="#474747" font-weight="normal" font-style="normal">0.4</text>
<text x="178" y="204.4" font-family="'Liberation Sans', 'DejaVu Sans', sans-serif" font-size="46" text-anchor="end" fill="#474747" font-weight="normal" font-style="normal">0.35</text>
<text x="178" y="260.8" font-family="'Liberation Sans', 'DejaVu Sans', sans-serif" font-size="46" text-anchor="end" fill="#474747" font-weight="normal" font-style="normal">0.3</text>
<text x="178" y="317.2" font-family="'Liberation Sans', 'DejaVu Sans', sans-serif" font-size="46" text-anchor="end" fill="#474747" font-weight="normal" font-style="normal">0.25</text>
<text x="178" y="373.6" font-family="'Liberation Sans', 'DejaVu Sans', sans-serif" font-size="46" text-anchor="end" fill="#474747" font-weight="normal" font-style="normal">0.2</text>
<text x="178" y="430" font-family="'Liberation Sans', 'DejaVu Sans', sans-serif" font-size="46" text-anchor="end" fill="#474747" font-weight="normal" font-style="normal">0.15</text>
<text x="178" y="486.4" font-family="'Liberation Sans', 'DejaVu Sans', sans-serif" font-size="46" text-anchor="end" fill="#474747" font-weight="normal" font-style="normal">0.1</text>
<text x="178" y="542.8" font-family="'Liberation Sans', 'DejaVu Sans', sans-serif" font-size="46" text-anchor="end" fill="#474747" font-weight="normal" font-style="normal">0.05</text>
<text x="178" y="599.2" font-family="'Liberation Sans', 'DejaVu Sans', sans-serif" font-size="46" text-anchor="end" fill="#474747" font-weight="normal" font-style="normal">0</text>
<text x="178" y="655.6" font-family="'Liberation Sans', 'DejaVu Sans', sans-serif" font-size="46" text-anchor="end" fill="#474747" font-weight="normal" font-style="normal">-0.05</text>
<text x="178" y="712" font-family="'Liberation Sans', 'DejaVu Sans', sans-serif" font-size="46" text-anchor="end" fill="#474747" font-weight="normal" font-style="normal">-0.1</text>
<text x="178" y="768.4" font-family="'Liberation Sans', 'DejaVu Sans', sans-serif" font-size="46" text-anchor="end" fill="#474747" font-weight="normal" font-style="normal">-0.15</text>
<text x="178" y="824.8" font-family="'Liberation Sans', 'DejaVu Sans', sans-serif" font-size="46" text-anchor="end" fill="#474747" font-weight="normal" font-style="normal">-0.2</text>
<text x="178" y="881.2" font-family="'Liberation Sans', 'DejaVu Sans', sans-serif" font-size="46" text-anchor="end" fill="#474747" font-weight="normal" font-style="normal">-0.25</text>
<text x="178" y="937.6" font-family="'Liberation Sans', 'DejaVu Sans', sans-serif" font-size="46" text-anchor="end" fill="#474747" font-weight="normal" font-style="normal">-0.3</text>
<text x="42" y="49" font-family="'Liberation Sans', 'DejaVu Sans', sans-serif" font-size="42" text-anchor="start" fill="#474747" font-weight="normal" font-style="normal">m</text>
<text x="271.5" y="992" font-family="'Liberation Sans', 'DejaVu Sans', sans-serif" font-size="46" text-anchor="middle" fill="#474747" font-weight="normal" font-style="normal">0</text>
<text x="497" y="992" font-family="'Liberation Sans', 'DejaVu Sans', sans-serif" font-size="46" text-anchor="middle" fill="#474747" font-weight="normal" font-style="normal">0.2</text>
<text x="721" y="992" font-family="'Liberation Sans', 'DejaVu Sans', sans-serif" font-size="46" text-anchor="middle" fill="#474747" font-weight="normal" font-style="normal">0.4</text>
<text x="983" y="992" font-family="'Liberation Sans', 'DejaVu Sans', sans-serif" font-size="42" text-anchor="middle" fill="#474747" font-weight="normal" font-style="normal">m</text>
<text x="1110" y="992" font-family="'Liberation Sans', 'DejaVu Sans', sans-serif" font-size="46" text-anchor="middle" fill="#474747" font-weight="normal" font-style="normal">0</text>
<text x="1355" y="992" font-family="'Liberation Sans', 'DejaVu Sans', sans-serif" font-size="46" text-anchor="middle" fill="#474747" font-weight="normal" font-style="normal">0.2</text>
<text x="1601" y="992" font-family="'Liberation Sans', 'DejaVu Sans', sans-serif" font-size="46" text-anchor="middle" fill="#474747" font-weight="normal" font-style="normal">0.4</text>
<text x="1880" y="992" font-family="'Liberation Sans', 'DejaVu Sans', sans-serif" font-size="42" text-anchor="middle" fill="#474747" font-weight="normal" font-style="normal">m</text>
<clipPath id="c9"><rect x="167" y="1216" width="813" height="972"/></clipPath>
<clipPath id="c10"><polygon points="162,1726 176,1726 184,1726 985,1772 985,2193 162,2193"/></clipPath>
<g clip-path="url(#c9)">
<linearGradient id="g36" x1="0" y1="0" x2="0" y2="1"><stop offset="0" stop-color="#ff9400"/><stop offset="0.3" stop-color="#ff8a00"/><stop offset="0.52" stop-color="#ff7800"/><stop offset="1" stop-color="#ff7400"/></linearGradient>
<rect x="167" y="1216" width="813" height="972" fill="url(#g36)"/>
<radialGradient id="r37"><stop offset="0" stop-color="#ff1000" stop-opacity="0.95"/><stop offset="0.2" stop-color="#ff3000" stop-opacity="0.75"/><stop offset="0.5" stop-color="#ff5800" stop-opacity="0.4"/><stop offset="1" stop-color="#ff7000" stop-opacity="0"/></radialGradient>
<ellipse cx="190" cy="1725" rx="240" ry="380" fill="url(#r37)"/>
<radialGradient id="r38"><stop offset="0" stop-color="#a80000" stop-opacity="1"/><stop offset="0.5" stop-color="#c80000" stop-opacity="0.7"/><stop offset="1" stop-color="#ff2000" stop-opacity="0"/></radialGradient>
<ellipse cx="205" cy="1710" rx="60" ry="22" fill="url(#r38)"/>
<linearGradient id="g39" x1="0" y1="0" x2="1" y2="0"><stop offset="0" stop-color="#ffcc00"/><stop offset="0.5" stop-color="#ffc000"/><stop offset="0.8" stop-color="#ffaa00"/><stop offset="1" stop-color="#ff9400"/></linearGradient>
<polygon points="162,1726 176,1726 184,1726 985,1772 985,2193 162,2193" fill="url(#g39)"/>
<g clip-path="url(#c10)">
<radialGradient id="r40"><stop offset="0" stop-color="#ffff00" stop-opacity="1"/><stop offset="0.35" stop-color="#fff200" stop-opacity="0.85"/><stop offset="0.7" stop-color="#ffe200" stop-opacity="0.4"/><stop offset="1" stop-color="#ffd000" stop-opacity="0"/></radialGradient>
<ellipse cx="205" cy="1785" rx="170" ry="200" fill="url(#r40)"/>
<radialGradient id="r41"><stop offset="0" stop-color="#ffcc00" stop-opacity="0.6"/><stop offset="1" stop-color="#ffcc00" stop-opacity="0"/></radialGradient>
<ellipse cx="230" cy="2000" rx="320" ry="320" fill="url(#r41)"/>
<radialGradient id="r42"><stop offset="0" stop-color="#ff2000" stop-opacity="0.95"/><stop offset="0.5" stop-color="#ff4000" stop-opacity="0.5"/><stop offset="1" stop-color="#ff6000" stop-opacity="0"/></radialGradient>
<ellipse cx="935" cy="1797" rx="55" ry="45" fill="url(#r42)"/>
<radialGradient id="r43"><stop offset="0" stop-color="#ff8a00" stop-opacity="0.55"/><stop offset="1" stop-color="#ff8a00" stop-opacity="0"/></radialGradient>
<ellipse cx="980" cy="1920" rx="140" ry="340" fill="url(#r43)"/>
<radialGradient id="r44"><stop offset="0" stop-color="#a8f040" stop-opacity="0.9"/><stop offset="1" stop-color="#a8f040" stop-opacity="0"/></radialGradient>
<ellipse cx="185" cy="1742" rx="26" ry="20" fill="url(#r44)"/>
</g>
<g filter="url(#b1_5)">
<polygon points="202,1726 228.1,1727.6 254.3,1729.1 280.4,1730.6 306.5,1732.1 332.7,1733.6 358.8,1735.1 384.9,1736.6 411.1,1738.1 437.2,1739.6 463.3,1741.1 489.5,1742.7 515.6,1744.2 541.7,1745.7 567.9,1747.2 594,1748.7 620.1,1750.2 646.3,1751.7 672.4,1753.2 698.5,1754.7 724.7,1756.2 750.8,1757.8 776.9,1759.3 803.1,1760.8 829.2,1762.3 855.3,1763.8 881.5,1765.3 907.6,1766.8 933.7,1768.3 959.9,1769.8 986,1771.3 986,1783.4 959.9,1781.7 933.7,1780 907.6,1778.3 881.5,1776.6 855.3,1774.9 829.2,1773.1 803.1,1771.4 776.9,1769.7 750.8,1768 724.7,1766.3 698.5,1764.6 672.4,1762.9 646.3,1761.2 620.1,1759.5 594,1757.8 567.9,1756.1 541.7,1754.4 515.6,1752.7 489.5,1751 463.3,1749.2 437.2,1747.5 411.1,1745.8 384.9,1744.1 358.8,1742.4 332.7,1740.7 306.5,1739 280.4,1737.3 254.3,1735.6 228.1,1733.9 202,1732.2" fill="#f4e050" opacity="0.85"/>
<polygon points="202,1724.3 228.1,1725.6 254.3,1727 280.4,1728.3 306.5,1729.7 332.7,1731 358.8,1732.4 384.9,1733.7 411.1,1735.1 437.2,1736.4 463.3,1737.8 489.5,1739.1 515.6,1740.5 541.7,1741.9 567.9,1743.2 594,1744.6 620.1,1745.9 646.3,1747.3 672.4,1748.6 698.5,1750 724.7,1751.3 750.8,1752.7 776.9,1754 803.1,1755.4 829.2,1756.7 855.3,1758.1 881.5,1759.5 907.6,1760.8 933.7,1762.2 959.9,1763.5 986,1764.9 986,1771.3 959.9,1769.8 933.7,1768.3 907.6,1766.8 881.5,1765.3 855.3,1763.8 829.2,1762.3 803.1,1760.8 776.9,1759.3 750.8,1757.8 724.7,1756.2 698.5,1754.7 672.4,1753.2 646.3,1751.7 620.1,1750.2 594,1748.7 567.9,1747.2 541.7,1745.7 515.6,1744.2 489.5,1742.7 463.3,1741.1 437.2,1739.6 411.1,1738.1 384.9,1736.6 358.8,1735.1 332.7,1733.6 306.5,1732.1 280.4,1730.6 254.3,1729.1 228.1,1727.6 202,1726" fill="#e8f4c8"/>
<polygon points="202,1720.9 228.1,1722 254.3,1723.1 280.4,1724.1 306.5,1725.2 332.7,1726.3 358.8,1727.3 384.9,1728.4 411.1,1729.4 437.2,1730.5 463.3,1731.6 489.5,1732.6 515.6,1733.7 541.7,1734.8 567.9,1735.8 594,1736.9 620.1,1738 646.3,1739 672.4,1740.1 698.5,1741.1 724.7,1742.2 750.8,1743.3 776.9,1744.3 803.1,1745.4 829.2,1746.5 855.3,1747.5 881.5,1748.6 907.6,1749.7 933.7,1750.7 959.9,1751.8 986,1752.8 986,1764.9 959.9,1763.5 933.7,1762.2 907.6,1760.8 881.5,1759.5 855.3,1758.1 829.2,1756.7 803.1,1755.4 776.9,1754 750.8,1752.7 724.7,1751.3 698.5,1750 672.4,1748.6 646.3,1747.3 620.1,1745.9 594,1744.6 567.9,1743.2 541.7,1741.9 515.6,1740.5 489.5,1739.1 463.3,1737.8 437.2,1736.4 411.1,1735.1 384.9,1733.7 358.8,1732.4 332.7,1731 306.5,1729.7 280.4,1728.3 254.3,1727 228.1,1725.6 202,1724.3" fill="#58d0b0"/>
<polygon points="202,1718.4 228.1,1719.2 254.3,1720.1 280.4,1720.9 306.5,1721.7 332.7,1722.6 358.8,1723.4 384.9,1724.3 411.1,1725.1 437.2,1725.9 463.3,1726.8 489.5,1727.6 515.6,1728.5 541.7,1729.3 567.9,1730.1 594,1731 620.1,1731.8 646.3,1732.7 672.4,1733.5 698.5,1734.3 724.7,1735.2 750.8,1736 776.9,1736.9 803.1,1737.7 829.2,1738.6 855.3,1739.4 881.5,1740.2 907.6,1741.1 933.7,1741.9 959.9,1742.8 986,1743.6 986,1752.8 959.9,1751.8 933.7,1750.7 907.6,1749.7 881.5,1748.6 855.3,1747.5 829.2,1746.5 803.1,1745.4 776.9,1744.3 750.8,1743.3 724.7,1742.2 698.5,1741.1 672.4,1740.1 646.3,1739 620.1,1738 594,1736.9 567.9,1735.8 541.7,1734.8 515.6,1733.7 489.5,1732.6 463.3,1731.6 437.2,1730.5 411.1,1729.4 384.9,1728.4 358.8,1727.3 332.7,1726.3 306.5,1725.2 280.4,1724.1 254.3,1723.1 228.1,1722 202,1720.9" fill="#90f050"/>
<polygon points="202,1715.8 228.1,1716.4 254.3,1717.1 280.4,1717.7 306.5,1718.3 332.7,1718.9 358.8,1719.5 384.9,1720.1 411.1,1720.8 437.2,1721.4 463.3,1722 489.5,1722.6 515.6,1723.2 541.7,1723.8 567.9,1724.5 594,1725.1 620.1,1725.7 646.3,1726.3 672.4,1726.9 698.5,1727.6 724.7,1728.2 750.8,1728.8 776.9,1729.4 803.1,1730 829.2,1730.6 855.3,1731.3 881.5,1731.9 907.6,1732.5 933.7,1733.1 959.9,1733.7 986,1734.3 986,1743.6 959.9,1742.8 933.7,1741.9 907.6,1741.1 881.5,1740.2 855.3,1739.4 829.2,1738.6 803.1,1737.7 776.9,1736.9 750.8,1736 724.7,1735.2 698.5,1734.3 672.4,1733.5 646.3,1732.7 620.1,1731.8 594,1731 567.9,1730.1 541.7,1729.3 515.6,1728.5 489.5,1727.6 463.3,1726.8 437.2,1725.9 411.1,1725.1 384.9,1724.3 358.8,1723.4 332.7,1722.6 306.5,1721.7 280.4,1720.9 254.3,1720.1 228.1,1719.2 202,1718.4" fill="#f0f020"/>
<polygon points="202,1713.3 228.1,1713.7 254.3,1714.1 280.4,1714.5 306.5,1714.8 332.7,1715.2 358.8,1715.6 384.9,1716 411.1,1716.4 437.2,1716.8 463.3,1717.2 489.5,1717.6 515.6,1718 541.7,1718.4 567.9,1718.8 594,1719.2 620.1,1719.6 646.3,1720 672.4,1720.4 698.5,1720.8 724.7,1721.2 750.8,1721.5 776.9,1721.9 803.1,1722.3 829.2,1722.7 855.3,1723.1 881.5,1723.5 907.6,1723.9 933.7,1724.3 959.9,1724.7 986,1725.1 986,1734.3 959.9,1733.7 933.7,1733.1 907.6,1732.5 881.5,1731.9 855.3,1731.3 829.2,1730.6 803.1,1730 776.9,1729.4 750.8,1728.8 724.7,1728.2 698.5,1727.6 672.4,1726.9 646.3,1726.3 620.1,1725.7 594,1725.1 567.9,1724.5 541.7,1723.8 515.6,1723.2 489.5,1722.6 463.3,1722 437.2,1721.4 411.1,1720.8 384.9,1720.1 358.8,1719.5 332.7,1718.9 306.5,1718.3 280.4,1717.7 254.3,1717.1 228.1,1716.4 202,1715.8" fill="#f8c020"/>
</g>
<g filter="url(#b1_5)">
<polygon points="880.2,1764.2 920.1,1757.5 984,1759 984,1779 920.1,1774.5" fill="#0818b8"/>
<ellipse cx="898.1" cy="1765.3" rx="20" ry="6" fill="#100818" transform="rotate(3.3 898.1 1765.3)"/>
<line x1="885.2" y1="1764.5" x2="945.1" y2="1768" stroke="#9090e8" stroke-width="5"/>
</g>
<ellipse cx="212" cy="1731" rx="17" ry="5" fill="#e8f0e0" filter="url(#b1)"/>
<polygon points="167,1288 549,1288 549,1304 167,1304" fill="#f0c090" opacity="0.6" filter="url(#b1)"/>
<polygon points="167,1682 980,1706 980,1722 167,1698" fill="#f4d0c8" opacity="0.5" filter="url(#b1)"/>
<line x1="167" y1="1690" x2="980" y2="1714" stroke="#ffffff" stroke-width="8" opacity="0.1" stroke-dasharray="5 3"/>
<linearGradient id="sf45" gradientUnits="userSpaceOnUse" x1="178" y1="0" x2="520" y2="0"><stop offset="0" stop-color="#f8c8c8" stop-opacity="1"/><stop offset="0.55" stop-color="#f8c8c8" stop-opacity="1"/><stop offset="1" stop-color="#f8c8c8" stop-opacity="0"/></linearGradient>
<polygon points="178,1683.5 520,1693.5 520,1708.5 178,1698.5" fill="url(#sf45)" opacity="0.5" filter="url(#b1)"/>
<line x1="178" y1="1691" x2="520" y2="1701" stroke="#ffffff" stroke-width="7.5" opacity="0.1" stroke-dasharray="5 3"/>
<polygon points="167,2138 980,2138 980,2154 167,2154" fill="#e8c8a0" opacity="0.6" filter="url(#b1)"/>
</g>
<ellipse cx="218" cy="1737" rx="27" ry="24" fill="none" stroke="#3e4a2e" stroke-width="3.5"/>
<polygon points="263.5,1694.5 509.7,1557.4 511.5,1560.6 542.7,1537.1 545,1529 536.9,1526.9 500.8,1542.1 502.7,1545.3 260.5,1689.5" fill="#4f4f4f" filter="url(#b1)"/>
<clipPath id="c11"><rect x="549" y="1235" width="418" height="381"/></clipPath>
<g clip-path="url(#c11)">
<linearGradient id="g46" x1="0" y1="0" x2="1" y2="0"><stop offset="0" stop-color="#a8f048"/><stop offset="0.3" stop-color="#c0f838"/><stop offset="0.6" stop-color="#d8ff28"/><stop offset="1" stop-color="#f0ff10"/></linearGradient>
<rect x="549" y="1235" width="418" height="381" fill="url(#g46)"/>
<radialGradient id="r47"><stop offset="0" stop-color="#40f0b0" stop-opacity="0.9"/><stop offset="0.5" stop-color="#60f090" stop-opacity="0.5"/><stop offset="1" stop-color="#80f070" stop-opacity="0"/></radialGradient>
<ellipse cx="555" cy="1470" rx="140" ry="90" fill="url(#r47)"/>
<radialGradient id="r48"><stop offset="0" stop-color="#00e8ff" stop-opacity="1"/><stop offset="0.6" stop-color="#20f0d0" stop-opacity="0.6"/><stop offset="1" stop-color="#40f0b0" stop-opacity="0"/></radialGradient>
<ellipse cx="560" cy="1465" rx="40" ry="32" fill="url(#r48)"/>
<g filter="url(#b2)">
<polygon points="547,1411 554,1408.4 561.1,1404.7 568.1,1401 575.1,1398.3 582.2,1395.9 589.2,1393.6 596.2,1391.3 603.3,1389.3 610.3,1387.9 617.3,1386.5 624.4,1385.1 631.4,1383.7 638.4,1382.3 645.5,1381.3 652.5,1380.4 659.5,1379.5 666.6,1378.6 673.6,1377.7 680.6,1376.8 687.7,1375.9 694.7,1375.1 701.7,1374.2 708.8,1373.3 715.8,1372.4 722.8,1371.5 729.9,1370.6 736.9,1369.7 743.9,1368.8 751,1367.9 758,1367 765,1366.1 772.1,1365.8 779.1,1365.5 786.1,1365.3 793.2,1365.1 800.2,1364.8 807.2,1364.6 814.3,1364.3 821.3,1364.1 828.3,1363.8 835.4,1363.6 842.4,1363.3 849.4,1363.1 856.5,1362.8 863.5,1362.6 870.5,1362.4 877.6,1362.1 884.6,1361.9 891.6,1361.6 898.7,1361.4 905.7,1361.1 912.7,1360.9 919.8,1360.6 926.8,1360.4 933.8,1360.2 940.9,1359.9 947.9,1359.7 954.9,1359.4 962,1359.2 969,1359 969,1420.5 962,1420.4 954.9,1420.3 947.9,1420.3 940.9,1420.2 933.8,1420.1 926.8,1420 919.8,1419.9 912.7,1419.8 905.7,1419.7 898.7,1419.7 891.6,1419.6 884.6,1419.5 877.6,1419.4 870.5,1419.3 863.5,1419.2 856.5,1419.1 849.4,1419 842.4,1419 835.4,1418.9 828.3,1418.8 821.3,1418.7 814.3,1418.6 807.2,1418.5 800.2,1418.4 793.2,1418.3 786.1,1418.3 779.1,1418.2 772.1,1418.1 765,1418 758,1417.9 751,1417.8 743.9,1417.6 736.9,1417.5 729.9,1417.4 722.8,1417.3 715.8,1417.2 708.8,1417.1 701.7,1417 694.7,1416.9 687.7,1416.8 680.6,1416.6 673.6,1416.5 666.6,1416.4 659.5,1416.3 652.5,1416.2 645.5,1416.1 638.4,1416 631.4,1416.1 624.4,1416.2 617.3,1416.4 610.3,1416.5 603.3,1416.6 596.2,1416.7 589.2,1416.8 582.2,1416.9 575.1,1417.5 568.1,1419.2 561.1,1421 554,1422.7 547,1424" fill="#ff7a00"/>
<polygon points="547,1411.7 554,1409.2 561.1,1405.6 568.1,1402 575.1,1399.4 582.2,1397.1 589.2,1394.9 596.2,1392.7 603.3,1390.9 610.3,1389.6 617.3,1388.3 624.4,1386.9 631.4,1385.6 638.4,1384.3 645.5,1383.3 652.5,1382.5 659.5,1381.7 666.6,1380.8 673.6,1380 680.6,1379.2 687.7,1378.3 694.7,1377.5 701.7,1376.7 708.8,1375.8 715.8,1375 722.8,1374.2 729.9,1373.3 736.9,1372.5 743.9,1371.7 751,1370.8 758,1370 765,1369.2 772.1,1368.9 779.1,1368.6 786.1,1368.4 793.2,1368.2 800.2,1368 807.2,1367.7 814.3,1367.5 821.3,1367.3 828.3,1367.1 835.4,1366.8 842.4,1366.6 849.4,1366.4 856.5,1366.2 863.5,1365.9 870.5,1365.7 877.6,1365.5 884.6,1365.3 891.6,1365 898.7,1364.8 905.7,1364.6 912.7,1364.4 919.8,1364.1 926.8,1363.9 933.8,1363.7 940.9,1363.5 947.9,1363.2 954.9,1363 962,1362.8 969,1362.6 969,1420.5 962,1420.4 954.9,1420.3 947.9,1420.3 940.9,1420.2 933.8,1420.1 926.8,1420 919.8,1419.9 912.7,1419.8 905.7,1419.7 898.7,1419.7 891.6,1419.6 884.6,1419.5 877.6,1419.4 870.5,1419.3 863.5,1419.2 856.5,1419.1 849.4,1419 842.4,1419 835.4,1418.9 828.3,1418.8 821.3,1418.7 814.3,1418.6 807.2,1418.5 800.2,1418.4 793.2,1418.3 786.1,1418.3 779.1,1418.2 772.1,1418.1 765,1418 758,1417.9 751,1417.8 743.9,1417.6 736.9,1417.5 729.9,1417.4 722.8,1417.3 715.8,1417.2 708.8,1417.1 701.7,1417 694.7,1416.9 687.7,1416.8 680.6,1416.6 673.6,1416.5 666.6,1416.4 659.5,1416.3 652.5,1416.2 645.5,1416.1 638.4,1416 631.4,1416.1 624.4,1416.2 617.3,1416.4 610.3,1416.5 603.3,1416.6 596.2,1416.7 589.2,1416.8 582.2,1416.9 575.1,1417.5 568.1,1419.2 561.1,1421 554,1422.7 547,1424" fill="#ffe000"/>
<polygon points="547,1413 554,1410.6 561.1,1407.3 568.1,1403.9 575.1,1401.4 582.2,1399.3 589.2,1397.4 596.2,1395.4 603.3,1393.8 610.3,1392.6 617.3,1391.4 624.4,1390.2 631.4,1389.1 638.4,1387.9 645.5,1387 652.5,1386.3 659.5,1385.6 666.6,1384.9 673.6,1384.2 680.6,1383.4 687.7,1382.7 694.7,1382 701.7,1381.3 708.8,1380.5 715.8,1379.8 722.8,1379.1 729.9,1378.4 736.9,1377.7 743.9,1376.9 751,1376.2 758,1375.5 765,1374.8 772.1,1374.5 779.1,1374.3 786.1,1374.1 793.2,1373.9 800.2,1373.8 807.2,1373.6 814.3,1373.4 821.3,1373.2 828.3,1373 835.4,1372.8 842.4,1372.6 849.4,1372.4 856.5,1372.2 863.5,1372.1 870.5,1371.9 877.6,1371.7 884.6,1371.5 891.6,1371.3 898.7,1371.1 905.7,1370.9 912.7,1370.7 919.8,1370.6 926.8,1370.4 933.8,1370.2 940.9,1370 947.9,1369.8 954.9,1369.6 962,1369.4 969,1369.3 969,1420.5 962,1420.4 954.9,1420.3 947.9,1420.3 940.9,1420.2 933.8,1420.1 926.8,1420 919.8,1419.9 912.7,1419.8 905.7,1419.7 898.7,1419.7 891.6,1419.6 884.6,1419.5 877.6,1419.4 870.5,1419.3 863.5,1419.2 856.5,1419.1 849.4,1419 842.4,1419 835.4,1418.9 828.3,1418.8 821.3,1418.7 814.3,1418.6 807.2,1418.5 800.2,1418.4 793.2,1418.3 786.1,1418.3 779.1,1418.2 772.1,1418.1 765,1418 758,1417.9 751,1417.8 743.9,1417.6 736.9,1417.5 729.9,1417.4 722.8,1417.3 715.8,1417.2 708.8,1417.1 701.7,1417 694.7,1416.9 687.7,1416.8 680.6,1416.6 673.6,1416.5 666.6,1416.4 659.5,1416.3 652.5,1416.2 645.5,1416.1 638.4,1416 631.4,1416.1 624.4,1416.2 617.3,1416.4 610.3,1416.5 603.3,1416.6 596.2,1416.7 589.2,1416.8 582.2,1416.9 575.1,1417.5 568.1,1419.2 561.1,1421 554,1422.7 547,1424" fill="#90f060"/>
<polygon points="547,1414.4 554,1412.1 561.1,1409 568.1,1405.8 575.1,1403.4 582.2,1401.5 589.2,1399.8 596.2,1398.1 603.3,1396.7 610.3,1395.6 617.3,1394.6 624.4,1393.6 631.4,1392.5 638.4,1391.5 645.5,1390.8 652.5,1390.2 659.5,1389.5 666.6,1388.9 673.6,1388.3 680.6,1387.7 687.7,1387.1 694.7,1386.5 701.7,1385.9 708.8,1385.3 715.8,1384.6 722.8,1384 729.9,1383.4 736.9,1382.8 743.9,1382.2 751,1381.6 758,1381 765,1380.4 772.1,1380.1 779.1,1380 786.1,1379.8 793.2,1379.7 800.2,1379.5 807.2,1379.4 814.3,1379.2 821.3,1379.1 828.3,1378.9 835.4,1378.8 842.4,1378.6 849.4,1378.5 856.5,1378.3 863.5,1378.2 870.5,1378 877.6,1377.9 884.6,1377.7 891.6,1377.6 898.7,1377.4 905.7,1377.3 912.7,1377.1 919.8,1377 926.8,1376.8 933.8,1376.7 940.9,1376.5 947.9,1376.4 954.9,1376.2 962,1376 969,1375.9 969,1420.5 962,1420.4 954.9,1420.3 947.9,1420.3 940.9,1420.2 933.8,1420.1 926.8,1420 919.8,1419.9 912.7,1419.8 905.7,1419.7 898.7,1419.7 891.6,1419.6 884.6,1419.5 877.6,1419.4 870.5,1419.3 863.5,1419.2 856.5,1419.1 849.4,1419 842.4,1419 835.4,1418.9 828.3,1418.8 821.3,1418.7 814.3,1418.6 807.2,1418.5 800.2,1418.4 793.2,1418.3 786.1,1418.3 779.1,1418.2 772.1,1418.1 765,1418 758,1417.9 751,1417.8 743.9,1417.6 736.9,1417.5 729.9,1417.4 722.8,1417.3 715.8,1417.2 708.8,1417.1 701.7,1417 694.7,1416.9 687.7,1416.8 680.6,1416.6 673.6,1416.5 666.6,1416.4 659.5,1416.3 652.5,1416.2 645.5,1416.1 638.4,1416 631.4,1416.1 624.4,1416.2 617.3,1416.4 610.3,1416.5 603.3,1416.6 596.2,1416.7 589.2,1416.8 582.2,1416.9 575.1,1417.5 568.1,1419.2 561.1,1421 554,1422.7 547,1424" fill="#30e8e0"/>
<polygon points="547,1415.6 554,1413.4 561.1,1410.5 568.1,1407.5 575.1,1405.2 582.2,1403.5 589.2,1402 596.2,1400.5 603.3,1399.3 610.3,1398.4 617.3,1397.5 624.4,1396.6 631.4,1395.7 638.4,1394.7 645.5,1394.1 652.5,1393.6 659.5,1393.1 666.6,1392.6 673.6,1392.1 680.6,1391.6 687.7,1391.1 694.7,1390.6 701.7,1390.1 708.8,1389.5 715.8,1389 722.8,1388.5 729.9,1388 736.9,1387.5 743.9,1387 751,1386.5 758,1386 765,1385.5 772.1,1385.3 779.1,1385.2 786.1,1385 793.2,1384.9 800.2,1384.8 807.2,1384.7 814.3,1384.6 821.3,1384.4 828.3,1384.3 835.4,1384.2 842.4,1384.1 849.4,1384 856.5,1383.9 863.5,1383.7 870.5,1383.6 877.6,1383.5 884.6,1383.4 891.6,1383.3 898.7,1383.1 905.7,1383 912.7,1382.9 919.8,1382.8 926.8,1382.7 933.8,1382.5 940.9,1382.4 947.9,1382.3 954.9,1382.2 962,1382.1 969,1382 969,1420.5 962,1420.4 954.9,1420.3 947.9,1420.3 940.9,1420.2 933.8,1420.1 926.8,1420 919.8,1419.9 912.7,1419.8 905.7,1419.7 898.7,1419.7 891.6,1419.6 884.6,1419.5 877.6,1419.4 870.5,1419.3 863.5,1419.2 856.5,1419.1 849.4,1419 842.4,1419 835.4,1418.9 828.3,1418.8 821.3,1418.7 814.3,1418.6 807.2,1418.5 800.2,1418.4 793.2,1418.3 786.1,1418.3 779.1,1418.2 772.1,1418.1 765,1418 758,1417.9 751,1417.8 743.9,1417.6 736.9,1417.5 729.9,1417.4 722.8,1417.3 715.8,1417.2 708.8,1417.1 701.7,1417 694.7,1416.9 687.7,1416.8 680.6,1416.6 673.6,1416.5 666.6,1416.4 659.5,1416.3 652.5,1416.2 645.5,1416.1 638.4,1416 631.4,1416.1 624.4,1416.2 617.3,1416.4 610.3,1416.5 603.3,1416.6 596.2,1416.7 589.2,1416.8 582.2,1416.9 575.1,1417.5 568.1,1419.2 561.1,1421 554,1422.7 547,1424" fill="#0070e8"/>
<polygon points="547,1416.8 554,1414.8 561.1,1412 568.1,1409.3 575.1,1407 582.2,1405.5 589.2,1404.3 596.2,1403 603.3,1401.9 610.3,1401.2 617.3,1400.4 624.4,1399.6 631.4,1398.8 638.4,1398 645.5,1397.5 652.5,1397.1 659.5,1396.7 666.6,1396.3 673.6,1395.9 680.6,1395.5 687.7,1395.1 694.7,1394.6 701.7,1394.2 708.8,1393.8 715.8,1393.4 722.8,1393 729.9,1392.6 736.9,1392.2 743.9,1391.8 751,1391.4 758,1390.9 765,1390.5 772.1,1390.4 779.1,1390.3 786.1,1390.2 793.2,1390.2 800.2,1390.1 807.2,1390 814.3,1389.9 821.3,1389.8 828.3,1389.7 835.4,1389.6 842.4,1389.6 849.4,1389.5 856.5,1389.4 863.5,1389.3 870.5,1389.2 877.6,1389.1 884.6,1389 891.6,1389 898.7,1388.9 905.7,1388.8 912.7,1388.7 919.8,1388.6 926.8,1388.5 933.8,1388.4 940.9,1388.4 947.9,1388.3 954.9,1388.2 962,1388.1 969,1388 969,1420.5 962,1420.4 954.9,1420.3 947.9,1420.3 940.9,1420.2 933.8,1420.1 926.8,1420 919.8,1419.9 912.7,1419.8 905.7,1419.7 898.7,1419.7 891.6,1419.6 884.6,1419.5 877.6,1419.4 870.5,1419.3 863.5,1419.2 856.5,1419.1 849.4,1419 842.4,1419 835.4,1418.9 828.3,1418.8 821.3,1418.7 814.3,1418.6 807.2,1418.5 800.2,1418.4 793.2,1418.3 786.1,1418.3 779.1,1418.2 772.1,1418.1 765,1418 758,1417.9 751,1417.8 743.9,1417.6 736.9,1417.5 729.9,1417.4 722.8,1417.3 715.8,1417.2 708.8,1417.1 701.7,1417 694.7,1416.9 687.7,1416.8 680.6,1416.6 673.6,1416.5 666.6,1416.4 659.5,1416.3 652.5,1416.2 645.5,1416.1 638.4,1416 631.4,1416.1 624.4,1416.2 617.3,1416.4 610.3,1416.5 603.3,1416.6 596.2,1416.7 589.2,1416.8 582.2,1416.9 575.1,1417.5 568.1,1419.2 561.1,1421 554,1422.7 547,1424" fill="#0000a8"/>
</g>
<clipPath id="c12"><polygon points="547,1233 969,1233 969,1359 962,1359.2 954.9,1359.4 947.9,1359.7 940.9,1359.9 933.8,1360.2 926.8,1360.4 919.8,1360.6 912.7,1360.9 905.7,1361.1 898.7,1361.4 891.6,1361.6 884.6,1361.9 877.6,1362.1 870.5,1362.4 863.5,1362.6 856.5,1362.8 849.4,1363.1 842.4,1363.3 835.4,1363.6 828.3,1363.8 821.3,1364.1 814.3,1364.3 807.2,1364.6 800.2,1364.8 793.2,1365.1 786.1,1365.3 779.1,1365.5 772.1,1365.8 765,1366.1 758,1367 751,1367.9 743.9,1368.8 736.9,1369.7 729.9,1370.6 722.8,1371.5 715.8,1372.4 708.8,1373.3 701.7,1374.2 694.7,1375.1 687.7,1375.9 680.6,1376.8 673.6,1377.7 666.6,1378.6 659.5,1379.5 652.5,1380.4 645.5,1381.3 638.4,1382.3 631.4,1383.7 624.4,1385.1 617.3,1386.5 610.3,1387.9 603.3,1389.3 596.2,1391.3 589.2,1393.6 582.2,1395.9 575.1,1398.3 568.1,1401 561.1,1404.7 554,1408.4 547,1411"/></clipPath>
<polygon points="547,1233 969,1233 969,1359 962,1359.2 954.9,1359.4 947.9,1359.7 940.9,1359.9 933.8,1360.2 926.8,1360.4 919.8,1360.6 912.7,1360.9 905.7,1361.1 898.7,1361.4 891.6,1361.6 884.6,1361.9 877.6,1362.1 870.5,1362.4 863.5,1362.6 856.5,1362.8 849.4,1363.1 842.4,1363.3 835.4,1363.6 828.3,1363.8 821.3,1364.1 814.3,1364.3 807.2,1364.6 800.2,1364.8 793.2,1365.1 786.1,1365.3 779.1,1365.5 772.1,1365.8 765,1366.1 758,1367 751,1367.9 743.9,1368.8 736.9,1369.7 729.9,1370.6 722.8,1371.5 715.8,1372.4 708.8,1373.3 701.7,1374.2 694.7,1375.1 687.7,1375.9 680.6,1376.8 673.6,1377.7 666.6,1378.6 659.5,1379.5 652.5,1380.4 645.5,1381.3 638.4,1382.3 631.4,1383.7 624.4,1385.1 617.3,1386.5 610.3,1387.9 603.3,1389.3 596.2,1391.3 589.2,1393.6 582.2,1395.9 575.1,1398.3 568.1,1401 561.1,1404.7 554,1408.4 547,1411" fill="#e00000" filter="url(#b1_5)"/>
<g clip-path="url(#c12)">
<radialGradient id="r49"><stop offset="0" stop-color="#8a0000" stop-opacity="1"/><stop offset="0.5" stop-color="#9a0000" stop-opacity="0.85"/><stop offset="1" stop-color="#c00000" stop-opacity="0"/></radialGradient>
<ellipse cx="598" cy="1378" rx="95" ry="46" fill="url(#r49)" transform="rotate(-33 598 1378)"/>
<radialGradient id="r50"><stop offset="0" stop-color="#a80000" stop-opacity="0.75"/><stop offset="0.6" stop-color="#b80000" stop-opacity="0.45"/><stop offset="1" stop-color="#d00000" stop-opacity="0"/></radialGradient>
<ellipse cx="690" cy="1322" rx="115" ry="42" fill="url(#r50)" transform="rotate(-22 690 1322)"/>
<radialGradient id="r51"><stop offset="0" stop-color="#ff0000" stop-opacity="0.55"/><stop offset="1" stop-color="#ff0000" stop-opacity="0"/></radialGradient>
<ellipse cx="880" cy="1290" rx="160" ry="90" fill="url(#r51)"/>
<radialGradient id="r52"><stop offset="0" stop-color="#ff0800" stop-opacity="0.8"/><stop offset="1" stop-color="#ff0800" stop-opacity="0"/></radialGradient>
<ellipse cx="945" cy="1300" rx="50" ry="120" fill="url(#r52)"/>
<radialGradient id="r53"><stop offset="0" stop-color="#ff1000" stop-opacity="0.9"/><stop offset="1" stop-color="#ff1000" stop-opacity="0"/></radialGradient>
<ellipse cx="557" cy="1300" rx="14" ry="110" fill="url(#r53)"/>
</g>
<polygon points="555,1425 561.1,1420 568.1,1418.2 575.1,1416.5 582.2,1415.9 589.2,1415.8 596.2,1415.7 603.3,1415.6 610.3,1415.5 617.3,1415.4 624.4,1415.2 631.4,1415.1 638.4,1415 645.5,1415.1 652.5,1415.2 659.5,1415.3 666.6,1415.4 673.6,1415.5 680.6,1415.6 687.7,1415.8 694.7,1415.9 701.7,1416 708.8,1416.1 715.8,1416.2 722.8,1416.3 729.9,1416.4 736.9,1416.5 743.9,1416.6 751,1416.8 758,1416.9 765,1417 772.1,1417.1 779.1,1417.2 786.1,1417.3 793.2,1417.3 800.2,1417.4 807.2,1417.5 814.3,1417.6 821.3,1417.7 828.3,1417.8 835.4,1417.9 842.4,1418 849.4,1418 856.5,1418.1 863.5,1418.2 870.5,1418.3 877.6,1418.4 884.6,1418.5 891.6,1418.6 898.7,1418.7 905.7,1418.7 912.7,1418.8 919.8,1418.9 926.8,1419 933.8,1419.1 940.9,1419.2 947.9,1419.3 954.9,1419.3 962,1419.4 969,1419.5 969,1464 962,1463.7 954.9,1463.4 947.9,1463 940.9,1462.6 933.8,1462.2 926.8,1461.9 919.8,1461.5 912.7,1461.1 905.7,1460.7 898.7,1460.4 891.6,1460 884.6,1459.6 877.6,1459.3 870.5,1458.9 863.5,1458.5 856.5,1458.1 849.4,1457.8 842.4,1457.4 835.4,1457 828.3,1456.6 821.3,1456.3 814.3,1455.9 807.2,1455.5 800.2,1455.1 793.2,1454.8 786.1,1454.4 779.1,1454 772.1,1453.7 765,1453.3 758,1452.9 751,1452.5 743.9,1452.2 736.9,1451.8 729.9,1451.4 722.8,1451 715.8,1450.8 708.8,1450.7 701.7,1450.5 694.7,1450.3 687.7,1450.1 680.6,1449.9 673.6,1449.7 666.6,1449.5 659.5,1449.4 652.5,1449.2 645.5,1449 638.4,1448.8 631.4,1448.6 624.4,1448.4 617.3,1448.2 610.3,1448.1 603.3,1446.7 596.2,1444.7 589.2,1442.6 582.2,1439.2 575.1,1435.8 568.1,1432.4 561.1,1429" fill="#fdfdfd" filter="url(#b1)"/>
<polygon points="552,1425 591,1447 580,1455 552,1448" fill="#0828c8" filter="url(#b3)"/>
<polygon points="575,1235 595,1235 588,1248 580,1246" fill="#f0d0c8" filter="url(#b1)"/>
<g filter="url(#b1)" opacity="0.8"><ellipse cx="742.5" cy="1405.2" rx="7.4" ry="1.8" fill="#b8bce8"/><ellipse cx="703.6" cy="1410.6" rx="6.2" ry="3.5" fill="#b8bce8"/><ellipse cx="739.9" cy="1410.4" rx="6" ry="1.8" fill="#b8bce8"/><ellipse cx="747.1" cy="1415.3" rx="3.3" ry="2.8" fill="#d8d8f0"/><ellipse cx="844.1" cy="1406.3" rx="6.4" ry="2.8" fill="#d8d8f0"/><ellipse cx="715.6" cy="1411.3" rx="10.4" ry="2.5" fill="#9098d8"/><ellipse cx="744.5" cy="1407.4" rx="13.4" ry="3.1" fill="#c0c0c8"/><ellipse cx="851.3" cy="1404.1" rx="6.2" ry="2.9" fill="#d8d8f0"/><ellipse cx="852.6" cy="1410.1" rx="7.6" ry="2.7" fill="#7078c8"/><ellipse cx="781.2" cy="1406.8" rx="5.9" ry="3.1" fill="#b8bce8"/><ellipse cx="708.3" cy="1411.5" rx="6.1" ry="2.6" fill="#7078c8"/><ellipse cx="826.2" cy="1405.7" rx="10.4" ry="1.6" fill="#9098d8"/><ellipse cx="814.3" cy="1409.3" rx="5" ry="2.4" fill="#c0c0c8"/><ellipse cx="757.7" cy="1410.7" rx="12.9" ry="1.7" fill="#b8bce8"/><ellipse cx="827.5" cy="1407.3" rx="9.4" ry="3.2" fill="#b8bce8"/><ellipse cx="759.6" cy="1406.1" rx="8" ry="1.6" fill="#b8bce8"/><ellipse cx="861.3" cy="1415.5" rx="11.1" ry="3.4" fill="#b8bce8"/><ellipse cx="758.1" cy="1407.9" rx="4.7" ry="2.8" fill="#c0c0c8"/><ellipse cx="822.4" cy="1404.9" rx="9.8" ry="3.3" fill="#d8d8f0"/><ellipse cx="724.6" cy="1408.6" rx="13.6" ry="2.2" fill="#b8bce8"/></g>
<g filter="url(#b1)" opacity="0.85">
<polyline points="610.3,1448.1 617.3,1448.2 624.4,1448.4 631.4,1448.6 638.4,1448.8 645.5,1449 652.5,1449.2 659.5,1449.4 666.6,1449.5 673.6,1449.7 680.6,1449.9 687.7,1450.1 694.7,1450.3 701.7,1450.5 708.8,1450.7 715.8,1450.8 722.8,1451 729.9,1451.4 736.9,1451.8 743.9,1452.2 751,1452.5 758,1452.9 765,1453.3 772.1,1453.7 779.1,1454 786.1,1454.4 793.2,1454.8 800.2,1455.1 807.2,1455.5 814.3,1455.9 821.3,1456.3 828.3,1456.6 835.4,1457 842.4,1457.4 849.4,1457.8 856.5,1458.1 863.5,1458.5 870.5,1458.9 877.6,1459.3 884.6,1459.6 891.6,1460 898.7,1460.4 905.7,1460.7 912.7,1461.1 919.8,1461.5 926.8,1461.9 933.8,1462.2 940.9,1462.6 947.9,1463 954.9,1463.4 962,1463.7 969,1464" fill="none" stroke="#bcbcb8" stroke-width="5"/>
<polygon points="739,1451.3 717,1442.3 717,1460.3" fill="#bcbcb8"/>
<polygon points="824,1455.8 802,1446.8 802,1464.8" fill="#bcbcb8"/>
<polygon points="906,1460.2 884,1451.2 884,1469.2" fill="#bcbcb8"/>
</g>
</g>
<rect x="549" y="1235" width="418" height="381" fill="none" stroke="#f0a030" stroke-width="3" opacity="0.8"/>
<rect x="174" y="1223" width="799" height="958" fill="none" stroke="#c27a20" stroke-opacity="0.18" stroke-width="6"/>
<rect x="169" y="1218" width="809" height="968" fill="none" stroke="#b4845a" stroke-width="4"/>
<rect x="165.5" y="1214.5" width="816" height="975" fill="none" stroke="#f6c896" stroke-width="3"/>
<clipPath id="c13"><rect x="1052" y="1217" width="816" height="972"/></clipPath>
<clipPath id="c14"><polygon points="1047,1777 1056,1777 1064,1777 1873,1734 1873,2194 1047,2194"/></clipPath>
<g clip-path="url(#c13)">
<linearGradient id="g54" x1="0" y1="0" x2="0" y2="1"><stop offset="0" stop-color="#ffb200"/><stop offset="0.25" stop-color="#ffbc00"/><stop offset="0.5" stop-color="#ffc600"/><stop offset="1" stop-color="#ffcc00"/></linearGradient>
<rect x="1052" y="1217" width="816" height="972" fill="url(#g54)"/>
<radialGradient id="r55"><stop offset="0" stop-color="#f0f800" stop-opacity="1"/><stop offset="0.3" stop-color="#f8f000" stop-opacity="0.85"/><stop offset="0.6" stop-color="#ffe000" stop-opacity="0.5"/><stop offset="1" stop-color="#ffc800" stop-opacity="0"/></radialGradient>
<ellipse cx="1060" cy="1750" rx="280" ry="420" fill="url(#r55)"/>
<radialGradient id="r56"><stop offset="0" stop-color="#ff4000" stop-opacity="0.9"/><stop offset="0.5" stop-color="#ff5000" stop-opacity="0.5"/><stop offset="1" stop-color="#ff6000" stop-opacity="0"/></radialGradient>
<ellipse cx="1836" cy="1688" rx="45" ry="38" fill="url(#r56)"/>
<linearGradient id="g57" x1="0" y1="0" x2="1" y2="1"><stop offset="0" stop-color="#ff7c00"/><stop offset="0.45" stop-color="#ff8c00"/><stop offset="1" stop-color="#ffa000"/></linearGradient>
<polygon points="1047,1777 1056,1777 1064,1777 1873,1734 1873,2194 1047,2194" fill="url(#g57)"/>
<g clip-path="url(#c14)">
<radialGradient id="r58"><stop offset="0" stop-color="#e00000" stop-opacity="1"/><stop offset="0.25" stop-color="#ff2800" stop-opacity="0.8"/><stop offset="0.6" stop-color="#ff5000" stop-opacity="0.4"/><stop offset="1" stop-color="#ff6a00" stop-opacity="0"/></radialGradient>
<ellipse cx="1075" cy="1785" rx="230" ry="180" fill="url(#r58)"/>
<radialGradient id="r59"><stop offset="0" stop-color="#b00000" stop-opacity="1"/><stop offset="1" stop-color="#d00000" stop-opacity="0"/></radialGradient>
<ellipse cx="1090" cy="1783" rx="70" ry="18" fill="url(#r59)"/>
<radialGradient id="r60"><stop offset="0" stop-color="#e80000" stop-opacity="0.9"/><stop offset="0.6" stop-color="#ff2000" stop-opacity="0.5"/><stop offset="1" stop-color="#ff4000" stop-opacity="0"/></radialGradient>
<ellipse cx="1150" cy="1787" rx="300" ry="30" fill="url(#r60)"/>
<radialGradient id="r61"><stop offset="0" stop-color="#ff3000" stop-opacity="0.7"/><stop offset="0.6" stop-color="#ff4a00" stop-opacity="0.35"/><stop offset="1" stop-color="#ff6000" stop-opacity="0"/></radialGradient>
<ellipse cx="1100" cy="1880" rx="190" ry="170" fill="url(#r61)"/>
<radialGradient id="r62"><stop offset="0" stop-color="#ff6a00" stop-opacity="0.3"/><stop offset="1" stop-color="#ff6a00" stop-opacity="0"/></radialGradient>
<ellipse cx="1150" cy="1950" rx="250" ry="200" fill="url(#r62)"/>
</g>
<g filter="url(#b1_5)">
<polygon points="1082,1771.6 1108.4,1770.3 1134.8,1769 1161.2,1767.7 1187.6,1766.5 1214,1765.2 1240.4,1763.9 1266.8,1762.6 1293.2,1761.3 1319.6,1760.1 1346,1758.8 1372.4,1757.5 1398.8,1756.2 1425.2,1755 1451.6,1753.7 1478,1752.4 1504.4,1751.1 1530.8,1749.8 1557.2,1748.6 1583.6,1747.3 1610,1746 1636.4,1744.7 1662.8,1743.5 1689.2,1742.2 1715.6,1740.9 1742,1739.6 1768.4,1738.3 1794.8,1737.1 1821.2,1735.8 1847.6,1734.5 1874,1733.2 1874,1727.7 1847.6,1729.1 1821.2,1730.5 1794.8,1731.9 1768.4,1733.3 1742,1734.7 1715.6,1736.2 1689.2,1737.6 1662.8,1739 1636.4,1740.4 1610,1741.8 1583.6,1743.2 1557.2,1744.6 1530.8,1746 1504.4,1747.4 1478,1748.9 1451.6,1750.3 1425.2,1751.7 1398.8,1753.1 1372.4,1754.5 1346,1755.9 1319.6,1757.3 1293.2,1758.7 1266.8,1760.2 1240.4,1761.6 1214,1763 1187.6,1764.4 1161.2,1765.8 1134.8,1767.2 1108.4,1768.6 1082,1770" fill="#e8f4d8"/>
<polygon points="1082,1773.1 1108.4,1772 1134.8,1770.8 1161.2,1769.7 1187.6,1768.5 1214,1767.4 1240.4,1766.2 1266.8,1765.1 1293.2,1763.9 1319.6,1762.8 1346,1761.7 1372.4,1760.5 1398.8,1759.4 1425.2,1758.2 1451.6,1757.1 1478,1755.9 1504.4,1754.8 1530.8,1753.7 1557.2,1752.5 1583.6,1751.4 1610,1750.2 1636.4,1749.1 1662.8,1747.9 1689.2,1746.8 1715.6,1745.6 1742,1744.5 1768.4,1743.4 1794.8,1742.2 1821.2,1741.1 1847.6,1739.9 1874,1738.8 1874,1733.2 1847.6,1734.5 1821.2,1735.8 1794.8,1737.1 1768.4,1738.3 1742,1739.6 1715.6,1740.9 1689.2,1742.2 1662.8,1743.5 1636.4,1744.7 1610,1746 1583.6,1747.3 1557.2,1748.6 1530.8,1749.8 1504.4,1751.1 1478,1752.4 1451.6,1753.7 1425.2,1755 1398.8,1756.2 1372.4,1757.5 1346,1758.8 1319.6,1760.1 1293.2,1761.3 1266.8,1762.6 1240.4,1763.9 1214,1765.2 1187.6,1766.5 1161.2,1767.7 1134.8,1769 1108.4,1770.3 1082,1771.6" fill="#3c78d0"/>
<polygon points="1082,1775.8 1108.4,1774.9 1134.8,1774 1161.2,1773.1 1187.6,1772.1 1214,1771.2 1240.4,1770.3 1266.8,1769.4 1293.2,1768.5 1319.6,1767.6 1346,1766.7 1372.4,1765.8 1398.8,1764.9 1425.2,1764 1451.6,1763 1478,1762.1 1504.4,1761.2 1530.8,1760.3 1557.2,1759.4 1583.6,1758.5 1610,1757.6 1636.4,1756.7 1662.8,1755.8 1689.2,1754.9 1715.6,1754 1742,1753 1768.4,1752.1 1794.8,1751.2 1821.2,1750.3 1847.6,1749.4 1874,1748.5 1874,1738.8 1847.6,1739.9 1821.2,1741.1 1794.8,1742.2 1768.4,1743.4 1742,1744.5 1715.6,1745.6 1689.2,1746.8 1662.8,1747.9 1636.4,1749.1 1610,1750.2 1583.6,1751.4 1557.2,1752.5 1530.8,1753.7 1504.4,1754.8 1478,1755.9 1451.6,1757.1 1425.2,1758.2 1398.8,1759.4 1372.4,1760.5 1346,1761.7 1319.6,1762.8 1293.2,1763.9 1266.8,1765.1 1240.4,1766.2 1214,1767.4 1187.6,1768.5 1161.2,1769.7 1134.8,1770.8 1108.4,1772 1082,1773.1" fill="#58d0b0"/>
<polygon points="1082,1778.3 1108.4,1777.6 1134.8,1777 1161.2,1776.3 1187.6,1775.6 1214,1774.9 1240.4,1774.2 1266.8,1773.5 1293.2,1772.8 1319.6,1772.2 1346,1771.5 1372.4,1770.8 1398.8,1770.1 1425.2,1769.4 1451.6,1768.7 1478,1768 1504.4,1767.4 1530.8,1766.7 1557.2,1766 1583.6,1765.3 1610,1764.6 1636.4,1763.9 1662.8,1763.2 1689.2,1762.5 1715.6,1761.9 1742,1761.2 1768.4,1760.5 1794.8,1759.8 1821.2,1759.1 1847.6,1758.4 1874,1757.7 1874,1748.5 1847.6,1749.4 1821.2,1750.3 1794.8,1751.2 1768.4,1752.1 1742,1753 1715.6,1754 1689.2,1754.9 1662.8,1755.8 1636.4,1756.7 1610,1757.6 1583.6,1758.5 1557.2,1759.4 1530.8,1760.3 1504.4,1761.2 1478,1762.1 1451.6,1763 1425.2,1764 1398.8,1764.9 1372.4,1765.8 1346,1766.7 1319.6,1767.6 1293.2,1768.5 1266.8,1769.4 1240.4,1770.3 1214,1771.2 1187.6,1772.1 1161.2,1773.1 1134.8,1774 1108.4,1774.9 1082,1775.8" fill="#90f050"/>
<polygon points="1082,1780.9 1108.4,1780.4 1134.8,1780 1161.2,1779.5 1187.6,1779 1214,1778.6 1240.4,1778.1 1266.8,1777.6 1293.2,1777.2 1319.6,1776.7 1346,1776.3 1372.4,1775.8 1398.8,1775.3 1425.2,1774.9 1451.6,1774.4 1478,1773.9 1504.4,1773.5 1530.8,1773 1557.2,1772.6 1583.6,1772.1 1610,1771.6 1636.4,1771.2 1662.8,1770.7 1689.2,1770.2 1715.6,1769.8 1742,1769.3 1768.4,1768.8 1794.8,1768.4 1821.2,1767.9 1847.6,1767.5 1874,1767 1874,1757.7 1847.6,1758.4 1821.2,1759.1 1794.8,1759.8 1768.4,1760.5 1742,1761.2 1715.6,1761.9 1689.2,1762.5 1662.8,1763.2 1636.4,1763.9 1610,1764.6 1583.6,1765.3 1557.2,1766 1530.8,1766.7 1504.4,1767.4 1478,1768 1451.6,1768.7 1425.2,1769.4 1398.8,1770.1 1372.4,1770.8 1346,1771.5 1319.6,1772.2 1293.2,1772.8 1266.8,1773.5 1240.4,1774.2 1214,1774.9 1187.6,1775.6 1161.2,1776.3 1134.8,1777 1108.4,1777.6 1082,1778.3" fill="#f0f020"/>
<polygon points="1082,1782.8 1108.4,1782.5 1134.8,1782.2 1161.2,1781.9 1187.6,1781.6 1214,1781.3 1240.4,1781 1266.8,1780.7 1293.2,1780.4 1319.6,1780.1 1346,1779.8 1372.4,1779.5 1398.8,1779.3 1425.2,1779 1451.6,1778.7 1478,1778.4 1504.4,1778.1 1530.8,1777.8 1557.2,1777.5 1583.6,1777.2 1610,1776.9 1636.4,1776.6 1662.8,1776.3 1689.2,1776 1715.6,1775.7 1742,1775.4 1768.4,1775.1 1794.8,1774.8 1821.2,1774.5 1847.6,1774.2 1874,1773.9 1874,1767 1847.6,1767.5 1821.2,1767.9 1794.8,1768.4 1768.4,1768.8 1742,1769.3 1715.6,1769.8 1689.2,1770.2 1662.8,1770.7 1636.4,1771.2 1610,1771.6 1583.6,1772.1 1557.2,1772.6 1530.8,1773 1504.4,1773.5 1478,1773.9 1451.6,1774.4 1425.2,1774.9 1398.8,1775.3 1372.4,1775.8 1346,1776.3 1319.6,1776.7 1293.2,1777.2 1266.8,1777.6 1240.4,1778.1 1214,1778.6 1187.6,1779 1161.2,1779.5 1134.8,1780 1108.4,1780.4 1082,1780.9" fill="#f8c020"/>
</g>
<g filter="url(#b1_5)">
<polygon points="1768.1,1734.3 1808.1,1741.2 1872,1740 1872,1720 1808.1,1724.2" fill="#0818b8"/>
<ellipse cx="1786.1" cy="1733.4" rx="20" ry="6" fill="#100818" transform="rotate(-3.1 1786.1 1733.4)"/>
<line x1="1773.1" y1="1734.1" x2="1833" y2="1730.9" stroke="#9090e8" stroke-width="5"/>
</g>
<ellipse cx="1098" cy="1767" rx="20" ry="7" fill="#e8f0e0"/>
<polygon points="1052,1338 1417,1338 1417,1354 1052,1354" fill="#e8c8a0" opacity="0.6" filter="url(#b1)"/>
<polygon points="1052,1800 1868,1779 1868,1795 1052,1816" fill="#f8e0d8" opacity="0.4" filter="url(#b1)"/>
<line x1="1052" y1="1808" x2="1868" y2="1787" stroke="#ffffff" stroke-width="8" opacity="0.1" stroke-dasharray="5 3"/>
<linearGradient id="sf63" gradientUnits="userSpaceOnUse" x1="1058" y1="0" x2="1430" y2="0"><stop offset="0" stop-color="#fce0e0" stop-opacity="1"/><stop offset="0.55" stop-color="#fce0e0" stop-opacity="1"/><stop offset="1" stop-color="#fce0e0" stop-opacity="0"/></linearGradient>
<polygon points="1058,1800.5 1430,1790.5 1430,1805.5 1058,1815.5" fill="url(#sf63)" opacity="0.5" filter="url(#b1)"/>
<line x1="1058" y1="1808" x2="1430" y2="1798" stroke="#ffffff" stroke-width="7.5" opacity="0.1" stroke-dasharray="5 3"/>
</g>
<ellipse cx="1096" cy="1762" rx="25" ry="23" fill="none" stroke="#3e4a2e" stroke-width="3.5"/>
<polygon points="1115.7,1736.4 1376.1,1554.7 1378.4,1557.9 1409.6,1529.4 1411,1521 1402.6,1519.6 1365.6,1540.1 1367.9,1543.3 1112.3,1731.6" fill="#4f4f4f" filter="url(#b1)"/>
<clipPath id="c15"><rect x="1418" y="1238" width="436" height="399"/></clipPath>
<g clip-path="url(#c15)">
<linearGradient id="g64" x1="0" y1="0" x2="1" y2="0"><stop offset="0" stop-color="#90f070"/><stop offset="0.2" stop-color="#b8ff40"/><stop offset="0.55" stop-color="#d8ff20"/><stop offset="1" stop-color="#ecff10"/></linearGradient>
<rect x="1418" y="1238" width="436" height="399" fill="url(#g64)"/>
<radialGradient id="r65"><stop offset="0" stop-color="#00f0ff" stop-opacity="1"/><stop offset="0.6" stop-color="#30f0d0" stop-opacity="0.6"/><stop offset="1" stop-color="#50f0b0" stop-opacity="0"/></radialGradient>
<ellipse cx="1422" cy="1400" rx="30" ry="36" fill="url(#r65)"/>
<radialGradient id="r66"><stop offset="0" stop-color="#60f0a0" stop-opacity="0.7"/><stop offset="1" stop-color="#60f0a0" stop-opacity="0"/></radialGradient>
<ellipse cx="1430" cy="1340" rx="45" ry="80" fill="url(#r66)"/>
<g filter="url(#b2)">
<polygon points="1416,1446 1423.3,1447.9 1430.7,1450.6 1438,1453.3 1445.3,1456 1452.7,1458.8 1460,1461.5 1467.3,1464.2 1474.7,1466.8 1482,1469.1 1489.3,1471.4 1496.7,1473.6 1504,1475.9 1511.3,1478.1 1518.7,1480.4 1526,1482.7 1533.3,1484.9 1540.7,1487.1 1548,1488 1555.3,1489 1562.7,1489.9 1570,1490.9 1577.3,1491.8 1584.7,1492.7 1592,1493.7 1599.3,1494.6 1606.7,1495.6 1614,1496.5 1621.3,1497.5 1628.7,1498.4 1636,1499.4 1643.3,1500.1 1650.7,1500.2 1658,1500.4 1665.3,1500.6 1672.7,1500.7 1680,1500.9 1687.3,1501.1 1694.7,1501.3 1702,1501.4 1709.3,1501.6 1716.7,1501.8 1724,1501.9 1731.3,1502.1 1738.7,1502.3 1746,1502.5 1753.3,1502.6 1760.7,1502.8 1768,1503 1775.3,1503.2 1782.7,1503.3 1790,1503.5 1797.3,1503.7 1804.7,1503.8 1812,1504 1819.3,1504.2 1826.7,1504.4 1834,1504.5 1841.3,1504.7 1848.7,1504.9 1856,1505 1856,1438 1848.7,1438.3 1841.3,1438.8 1834,1439.3 1826.7,1439.7 1819.3,1440.2 1812,1440.6 1804.7,1441.1 1797.3,1441.6 1790,1442 1782.7,1442.5 1775.3,1443 1768,1443.4 1760.7,1443.9 1753.3,1444.3 1746,1444.8 1738.7,1445.2 1731.3,1445.6 1724,1446 1716.7,1446.4 1709.3,1446.7 1702,1447.1 1694.7,1447.5 1687.3,1447.9 1680,1448.3 1672.7,1448.6 1665.3,1449 1658,1449.4 1650.7,1449.8 1643.3,1450.2 1636,1450.5 1628.7,1450.9 1621.3,1451.3 1614,1451.7 1606.7,1451.9 1599.3,1451.6 1592,1451.2 1584.7,1450.8 1577.3,1450.5 1570,1450.1 1562.7,1449.8 1555.3,1449.4 1548,1449 1540.7,1448.7 1533.3,1448.3 1526,1448 1518.7,1447.6 1511.3,1447.2 1504,1446.9 1496.7,1446.5 1489.3,1446.2 1482,1445.8 1474.7,1445.4 1467.3,1445.1 1460,1444.1 1452.7,1442.9 1445.3,1441.8 1438,1440.6 1430.7,1439.3 1423.3,1438 1416,1437" fill="#ff7a00"/>
<polygon points="1416,1445 1423.3,1446.9 1430.7,1449.4 1438,1451.9 1445.3,1454.4 1452.7,1457 1460,1459.5 1467.3,1462.1 1474.7,1464.4 1482,1466.4 1489.3,1468.4 1496.7,1470.5 1504,1472.5 1511.3,1474.6 1518.7,1476.6 1526,1478.6 1533.3,1480.7 1540.7,1482.6 1548,1483.5 1555.3,1484.3 1562.7,1485.2 1570,1486.1 1577.3,1487 1584.7,1487.8 1592,1488.7 1599.3,1489.6 1606.7,1490.5 1614,1491.3 1621.3,1492 1628.7,1492.8 1636,1493.6 1643.3,1494.2 1650.7,1494.3 1658,1494.4 1665.3,1494.5 1672.7,1494.6 1680,1494.7 1687.3,1494.8 1694.7,1494.9 1702,1495 1709.3,1495.1 1716.7,1495.2 1724,1495.4 1731.3,1495.5 1738.7,1495.6 1746,1495.7 1753.3,1495.8 1760.7,1495.9 1768,1496 1775.3,1496.1 1782.7,1496.1 1790,1496.2 1797.3,1496.3 1804.7,1496.4 1812,1496.5 1819.3,1496.6 1826.7,1496.7 1834,1496.8 1841.3,1496.9 1848.7,1497 1856,1497.1 1856,1438 1848.7,1438.3 1841.3,1438.8 1834,1439.3 1826.7,1439.7 1819.3,1440.2 1812,1440.6 1804.7,1441.1 1797.3,1441.6 1790,1442 1782.7,1442.5 1775.3,1443 1768,1443.4 1760.7,1443.9 1753.3,1444.3 1746,1444.8 1738.7,1445.2 1731.3,1445.6 1724,1446 1716.7,1446.4 1709.3,1446.7 1702,1447.1 1694.7,1447.5 1687.3,1447.9 1680,1448.3 1672.7,1448.6 1665.3,1449 1658,1449.4 1650.7,1449.8 1643.3,1450.2 1636,1450.5 1628.7,1450.9 1621.3,1451.3 1614,1451.7 1606.7,1451.9 1599.3,1451.6 1592,1451.2 1584.7,1450.8 1577.3,1450.5 1570,1450.1 1562.7,1449.8 1555.3,1449.4 1548,1449 1540.7,1448.7 1533.3,1448.3 1526,1448 1518.7,1447.6 1511.3,1447.2 1504,1446.9 1496.7,1446.5 1489.3,1446.2 1482,1445.8 1474.7,1445.4 1467.3,1445.1 1460,1444.1 1452.7,1442.9 1445.3,1441.8 1438,1440.6 1430.7,1439.3 1423.3,1438 1416,1437" fill="#ffe000"/>
<polygon points="1416,1443.8 1423.3,1445.5 1430.7,1447.8 1438,1450.1 1445.3,1452.4 1452.7,1454.8 1460,1457.1 1467.3,1459.3 1474.7,1461.3 1482,1463.1 1489.3,1464.8 1496.7,1466.6 1504,1468.3 1511.3,1470.1 1518.7,1471.8 1526,1473.6 1533.3,1475.3 1540.7,1477 1548,1477.8 1555.3,1478.6 1562.7,1479.3 1570,1480.1 1577.3,1480.9 1584.7,1481.7 1592,1482.5 1599.3,1483.3 1606.7,1484.1 1614,1484.7 1621.3,1485.3 1628.7,1485.9 1636,1486.4 1643.3,1486.9 1650.7,1486.9 1658,1486.9 1665.3,1486.9 1672.7,1486.9 1680,1487 1687.3,1487 1694.7,1487 1702,1487 1709.3,1487.1 1716.7,1487.1 1724,1487.1 1731.3,1487.1 1738.7,1487.2 1746,1487.2 1753.3,1487.2 1760.7,1487.2 1768,1487.2 1775.3,1487.2 1782.7,1487.2 1790,1487.2 1797.3,1487.2 1804.7,1487.2 1812,1487.2 1819.3,1487.2 1826.7,1487.2 1834,1487.2 1841.3,1487.2 1848.7,1487.2 1856,1487.2 1856,1438 1848.7,1438.3 1841.3,1438.8 1834,1439.3 1826.7,1439.7 1819.3,1440.2 1812,1440.6 1804.7,1441.1 1797.3,1441.6 1790,1442 1782.7,1442.5 1775.3,1443 1768,1443.4 1760.7,1443.9 1753.3,1444.3 1746,1444.8 1738.7,1445.2 1731.3,1445.6 1724,1446 1716.7,1446.4 1709.3,1446.7 1702,1447.1 1694.7,1447.5 1687.3,1447.9 1680,1448.3 1672.7,1448.6 1665.3,1449 1658,1449.4 1650.7,1449.8 1643.3,1450.2 1636,1450.5 1628.7,1450.9 1621.3,1451.3 1614,1451.7 1606.7,1451.9 1599.3,1451.6 1592,1451.2 1584.7,1450.8 1577.3,1450.5 1570,1450.1 1562.7,1449.8 1555.3,1449.4 1548,1449 1540.7,1448.7 1533.3,1448.3 1526,1448 1518.7,1447.6 1511.3,1447.2 1504,1446.9 1496.7,1446.5 1489.3,1446.2 1482,1445.8 1474.7,1445.4 1467.3,1445.1 1460,1444.1 1452.7,1442.9 1445.3,1441.8 1438,1440.6 1430.7,1439.3 1423.3,1438 1416,1437" fill="#90f060"/>
<polygon points="1416,1443 1423.3,1444.5 1430.7,1446.7 1438,1448.9 1445.3,1451 1452.7,1453.1 1460,1455.3 1467.3,1457.3 1474.7,1459.1 1482,1460.6 1489.3,1462.2 1496.7,1463.7 1504,1465.2 1511.3,1466.8 1518.7,1468.3 1526,1469.9 1533.3,1471.4 1540.7,1472.9 1548,1473.6 1555.3,1474.3 1562.7,1475 1570,1475.8 1577.3,1476.5 1584.7,1477.2 1592,1477.9 1599.3,1478.7 1606.7,1479.4 1614,1479.9 1621.3,1480.3 1628.7,1480.7 1636,1481.2 1643.3,1481.5 1650.7,1481.4 1658,1481.4 1665.3,1481.4 1672.7,1481.3 1680,1481.3 1687.3,1481.3 1694.7,1481.2 1702,1481.2 1709.3,1481.1 1716.7,1481.1 1724,1481.1 1731.3,1481 1738.7,1481 1746,1480.9 1753.3,1480.9 1760.7,1480.8 1768,1480.7 1775.3,1480.7 1782.7,1480.6 1790,1480.5 1797.3,1480.5 1804.7,1480.4 1812,1480.3 1819.3,1480.2 1826.7,1480.2 1834,1480.1 1841.3,1480 1848.7,1480 1856,1479.9 1856,1438 1848.7,1438.3 1841.3,1438.8 1834,1439.3 1826.7,1439.7 1819.3,1440.2 1812,1440.6 1804.7,1441.1 1797.3,1441.6 1790,1442 1782.7,1442.5 1775.3,1443 1768,1443.4 1760.7,1443.9 1753.3,1444.3 1746,1444.8 1738.7,1445.2 1731.3,1445.6 1724,1446 1716.7,1446.4 1709.3,1446.7 1702,1447.1 1694.7,1447.5 1687.3,1447.9 1680,1448.3 1672.7,1448.6 1665.3,1449 1658,1449.4 1650.7,1449.8 1643.3,1450.2 1636,1450.5 1628.7,1450.9 1621.3,1451.3 1614,1451.7 1606.7,1451.9 1599.3,1451.6 1592,1451.2 1584.7,1450.8 1577.3,1450.5 1570,1450.1 1562.7,1449.8 1555.3,1449.4 1548,1449 1540.7,1448.7 1533.3,1448.3 1526,1448 1518.7,1447.6 1511.3,1447.2 1504,1446.9 1496.7,1446.5 1489.3,1446.2 1482,1445.8 1474.7,1445.4 1467.3,1445.1 1460,1444.1 1452.7,1442.9 1445.3,1441.8 1438,1440.6 1430.7,1439.3 1423.3,1438 1416,1437" fill="#30e8e0"/>
<polygon points="1416,1442 1423.3,1443.5 1430.7,1445.5 1438,1447.5 1445.3,1449.4 1452.7,1451.3 1460,1453.3 1467.3,1455.2 1474.7,1456.6 1482,1457.9 1489.3,1459.3 1496.7,1460.6 1504,1461.9 1511.3,1463.2 1518.7,1464.5 1526,1465.8 1533.3,1467.1 1540.7,1468.4 1548,1469 1555.3,1469.7 1562.7,1470.3 1570,1471 1577.3,1471.6 1584.7,1472.3 1592,1473 1599.3,1473.6 1606.7,1474.3 1614,1474.6 1621.3,1474.9 1628.7,1475.2 1636,1475.5 1643.3,1475.6 1650.7,1475.5 1658,1475.4 1665.3,1475.3 1672.7,1475.2 1680,1475.1 1687.3,1475 1694.7,1474.9 1702,1474.8 1709.3,1474.7 1716.7,1474.6 1724,1474.5 1731.3,1474.4 1738.7,1474.3 1746,1474.1 1753.3,1474 1760.7,1473.8 1768,1473.7 1775.3,1473.6 1782.7,1473.4 1790,1473.3 1797.3,1473.1 1804.7,1473 1812,1472.8 1819.3,1472.7 1826.7,1472.5 1834,1472.4 1841.3,1472.3 1848.7,1472.1 1856,1472 1856,1438 1848.7,1438.3 1841.3,1438.8 1834,1439.3 1826.7,1439.7 1819.3,1440.2 1812,1440.6 1804.7,1441.1 1797.3,1441.6 1790,1442 1782.7,1442.5 1775.3,1443 1768,1443.4 1760.7,1443.9 1753.3,1444.3 1746,1444.8 1738.7,1445.2 1731.3,1445.6 1724,1446 1716.7,1446.4 1709.3,1446.7 1702,1447.1 1694.7,1447.5 1687.3,1447.9 1680,1448.3 1672.7,1448.6 1665.3,1449 1658,1449.4 1650.7,1449.8 1643.3,1450.2 1636,1450.5 1628.7,1450.9 1621.3,1451.3 1614,1451.7 1606.7,1451.9 1599.3,1451.6 1592,1451.2 1584.7,1450.8 1577.3,1450.5 1570,1450.1 1562.7,1449.8 1555.3,1449.4 1548,1449 1540.7,1448.7 1533.3,1448.3 1526,1448 1518.7,1447.6 1511.3,1447.2 1504,1446.9 1496.7,1446.5 1489.3,1446.2 1482,1445.8 1474.7,1445.4 1467.3,1445.1 1460,1444.1 1452.7,1442.9 1445.3,1441.8 1438,1440.6 1430.7,1439.3 1423.3,1438 1416,1437" fill="#0070e8"/>
<polygon points="1416,1441 1423.3,1442.4 1430.7,1444.2 1438,1446.1 1445.3,1447.8 1452.7,1449.6 1460,1451.3 1467.3,1453 1474.7,1454.2 1482,1455.3 1489.3,1456.3 1496.7,1457.4 1504,1458.5 1511.3,1459.6 1518.7,1460.7 1526,1461.8 1533.3,1462.9 1540.7,1463.9 1548,1464.5 1555.3,1465.1 1562.7,1465.6 1570,1466.2 1577.3,1466.8 1584.7,1467.4 1592,1468 1599.3,1468.6 1606.7,1469.1 1614,1469.3 1621.3,1469.5 1628.7,1469.6 1636,1469.7 1643.3,1469.7 1650.7,1469.6 1658,1469.4 1665.3,1469.2 1672.7,1469.1 1680,1468.9 1687.3,1468.7 1694.7,1468.6 1702,1468.4 1709.3,1468.2 1716.7,1468 1724,1467.9 1731.3,1467.7 1738.7,1467.5 1746,1467.3 1753.3,1467.1 1760.7,1466.9 1768,1466.7 1775.3,1466.5 1782.7,1466.2 1790,1466 1797.3,1465.8 1804.7,1465.6 1812,1465.3 1819.3,1465.1 1826.7,1464.9 1834,1464.7 1841.3,1464.5 1848.7,1464.2 1856,1464.1 1856,1438 1848.7,1438.3 1841.3,1438.8 1834,1439.3 1826.7,1439.7 1819.3,1440.2 1812,1440.6 1804.7,1441.1 1797.3,1441.6 1790,1442 1782.7,1442.5 1775.3,1443 1768,1443.4 1760.7,1443.9 1753.3,1444.3 1746,1444.8 1738.7,1445.2 1731.3,1445.6 1724,1446 1716.7,1446.4 1709.3,1446.7 1702,1447.1 1694.7,1447.5 1687.3,1447.9 1680,1448.3 1672.7,1448.6 1665.3,1449 1658,1449.4 1650.7,1449.8 1643.3,1450.2 1636,1450.5 1628.7,1450.9 1621.3,1451.3 1614,1451.7 1606.7,1451.9 1599.3,1451.6 1592,1451.2 1584.7,1450.8 1577.3,1450.5 1570,1450.1 1562.7,1449.8 1555.3,1449.4 1548,1449 1540.7,1448.7 1533.3,1448.3 1526,1448 1518.7,1447.6 1511.3,1447.2 1504,1446.9 1496.7,1446.5 1489.3,1446.2 1482,1445.8 1474.7,1445.4 1467.3,1445.1 1460,1444.1 1452.7,1442.9 1445.3,1441.8 1438,1440.6 1430.7,1439.3 1423.3,1438 1416,1437" fill="#0000a8"/>
</g>
<clipPath id="c16"><polygon points="1416,1639 1856,1639 1856,1505 1848.7,1504.9 1841.3,1504.7 1834,1504.5 1826.7,1504.4 1819.3,1504.2 1812,1504 1804.7,1503.8 1797.3,1503.7 1790,1503.5 1782.7,1503.3 1775.3,1503.2 1768,1503 1760.7,1502.8 1753.3,1502.6 1746,1502.5 1738.7,1502.3 1731.3,1502.1 1724,1501.9 1716.7,1501.8 1709.3,1501.6 1702,1501.4 1694.7,1501.3 1687.3,1501.1 1680,1500.9 1672.7,1500.7 1665.3,1500.6 1658,1500.4 1650.7,1500.2 1643.3,1500.1 1636,1499.4 1628.7,1498.4 1621.3,1497.5 1614,1496.5 1606.7,1495.6 1599.3,1494.6 1592,1493.7 1584.7,1492.7 1577.3,1491.8 1570,1490.9 1562.7,1489.9 1555.3,1489 1548,1488 1540.7,1487.1 1533.3,1484.9 1526,1482.7 1518.7,1480.4 1511.3,1478.1 1504,1475.9 1496.7,1473.6 1489.3,1471.4 1482,1469.1 1474.7,1466.8 1467.3,1464.2 1460,1461.5 1452.7,1458.8 1445.3,1456 1438,1453.3 1430.7,1450.6 1423.3,1447.9 1416,1446"/></clipPath>
<polygon points="1416,1639 1856,1639 1856,1505 1848.7,1504.9 1841.3,1504.7 1834,1504.5 1826.7,1504.4 1819.3,1504.2 1812,1504 1804.7,1503.8 1797.3,1503.7 1790,1503.5 1782.7,1503.3 1775.3,1503.2 1768,1503 1760.7,1502.8 1753.3,1502.6 1746,1502.5 1738.7,1502.3 1731.3,1502.1 1724,1501.9 1716.7,1501.8 1709.3,1501.6 1702,1501.4 1694.7,1501.3 1687.3,1501.1 1680,1500.9 1672.7,1500.7 1665.3,1500.6 1658,1500.4 1650.7,1500.2 1643.3,1500.1 1636,1499.4 1628.7,1498.4 1621.3,1497.5 1614,1496.5 1606.7,1495.6 1599.3,1494.6 1592,1493.7 1584.7,1492.7 1577.3,1491.8 1570,1490.9 1562.7,1489.9 1555.3,1489 1548,1488 1540.7,1487.1 1533.3,1484.9 1526,1482.7 1518.7,1480.4 1511.3,1478.1 1504,1475.9 1496.7,1473.6 1489.3,1471.4 1482,1469.1 1474.7,1466.8 1467.3,1464.2 1460,1461.5 1452.7,1458.8 1445.3,1456 1438,1453.3 1430.7,1450.6 1423.3,1447.9 1416,1446" fill="#e00000" filter="url(#b1_5)"/>
<g clip-path="url(#c16)">
<radialGradient id="r67"><stop offset="0" stop-color="#940000" stop-opacity="1"/><stop offset="0.5" stop-color="#a40000" stop-opacity="0.8"/><stop offset="1" stop-color="#c00000" stop-opacity="0"/></radialGradient>
<ellipse cx="1510" cy="1510" rx="110" ry="38" fill="url(#r67)" transform="rotate(12 1510 1510)"/>
<radialGradient id="r68"><stop offset="0" stop-color="#b00000" stop-opacity="0.8"/><stop offset="1" stop-color="#b00000" stop-opacity="0"/></radialGradient>
<ellipse cx="1640" cy="1535" rx="120" ry="30" fill="url(#r68)" transform="rotate(5 1640 1535)"/>
<radialGradient id="r69"><stop offset="0" stop-color="#ff1000" stop-opacity="0.9"/><stop offset="1" stop-color="#ff1000" stop-opacity="0"/></radialGradient>
<ellipse cx="1425" cy="1580" rx="16" ry="70" fill="url(#r69)"/>
<radialGradient id="r70"><stop offset="0" stop-color="#ff0800" stop-opacity="0.7"/><stop offset="1" stop-color="#ff0800" stop-opacity="0"/></radialGradient>
<ellipse cx="1830" cy="1580" rx="50" ry="60" fill="url(#r70)"/>
</g>
<polygon points="1425,1433 1430.7,1440.3 1438,1441.6 1445.3,1442.8 1452.7,1443.9 1460,1445.1 1467.3,1446.1 1474.7,1446.4 1482,1446.8 1489.3,1447.2 1496.7,1447.5 1504,1447.9 1511.3,1448.2 1518.7,1448.6 1526,1449 1533.3,1449.3 1540.7,1449.7 1548,1450 1555.3,1450.4 1562.7,1450.8 1570,1451.1 1577.3,1451.5 1584.7,1451.8 1592,1452.2 1599.3,1452.6 1606.7,1452.9 1614,1452.7 1621.3,1452.3 1628.7,1451.9 1636,1451.5 1643.3,1451.2 1650.7,1450.8 1658,1450.4 1665.3,1450 1672.7,1449.6 1680,1449.3 1687.3,1448.9 1694.7,1448.5 1702,1448.1 1709.3,1447.7 1716.7,1447.4 1724,1447 1731.3,1446.6 1738.7,1446.2 1746,1445.8 1753.3,1445.3 1760.7,1444.9 1768,1444.4 1775.3,1444 1782.7,1443.5 1790,1443 1797.3,1442.6 1804.7,1442.1 1812,1441.6 1819.3,1441.2 1826.7,1440.7 1834,1440.3 1841.3,1439.8 1848.7,1439.3 1856,1439 1856,1389 1848.7,1389.2 1841.3,1389.5 1834,1389.8 1826.7,1390.1 1819.3,1390.4 1812,1390.7 1804.7,1391 1797.3,1391.3 1790,1391.6 1782.7,1391.9 1775.3,1392.2 1768,1392.5 1760.7,1392.8 1753.3,1393.1 1746,1393.4 1738.7,1393.7 1731.3,1394 1724,1394.3 1716.7,1394.6 1709.3,1394.9 1702,1395.2 1694.7,1395.5 1687.3,1395.8 1680,1396.1 1672.7,1396.4 1665.3,1396.7 1658,1397 1650.7,1397.3 1643.3,1397.6 1636,1397.9 1628.7,1398.2 1621.3,1398.5 1614,1398.8 1606.7,1399.1 1599.3,1399.6 1592,1400.1 1584.7,1400.6 1577.3,1401.2 1570,1401.7 1562.7,1402.2 1555.3,1402.7 1548,1403.2 1540.7,1403.7 1533.3,1404.3 1526,1404.8 1518.7,1405.3 1511.3,1405.8 1504,1406.3 1496.7,1406.8 1489.3,1407.4 1482,1407.9 1474.7,1408.4 1467.3,1408.9 1460,1411.5 1452.7,1414.6 1445.3,1417.7 1438,1420.9 1430.7,1424.2" fill="#fdfdfd" filter="url(#b1)"/>
<polygon points="1420,1432 1455,1410 1466,1416 1432,1432" fill="#0828c8" filter="url(#b3)"/>
<g filter="url(#b1)" opacity="0.8"><ellipse cx="1638.1" cy="1462.1" rx="7.1" ry="2.7" fill="#c0c0c8"/><ellipse cx="1610.5" cy="1455.2" rx="12.2" ry="2" fill="#9098d8"/><ellipse cx="1630.7" cy="1464.3" rx="9" ry="2.6" fill="#7078c8"/><ellipse cx="1702.3" cy="1457" rx="10" ry="3.2" fill="#c0c0c8"/><ellipse cx="1662.4" cy="1455.2" rx="11.5" ry="1.8" fill="#c0c0c8"/><ellipse cx="1606.8" cy="1465.1" rx="12.1" ry="2" fill="#c0c0c8"/><ellipse cx="1715" cy="1466.4" rx="10.9" ry="3.3" fill="#7078c8"/><ellipse cx="1716.5" cy="1462.5" rx="13.6" ry="1.8" fill="#d8d8f0"/><ellipse cx="1615.6" cy="1456.8" rx="5.4" ry="3.4" fill="#7078c8"/><ellipse cx="1724.6" cy="1466.1" rx="7.6" ry="3.2" fill="#c0c0c8"/><ellipse cx="1656.1" cy="1462.6" rx="9.4" ry="3.3" fill="#b8bce8"/><ellipse cx="1737" cy="1467.9" rx="10.4" ry="1.8" fill="#d8d8f0"/><ellipse cx="1754.3" cy="1466.8" rx="9.3" ry="2.9" fill="#9098d8"/><ellipse cx="1701.3" cy="1467.8" rx="5.9" ry="1.7" fill="#7078c8"/><ellipse cx="1736.6" cy="1467.9" rx="4" ry="3.1" fill="#7078c8"/><ellipse cx="1743.5" cy="1455.3" rx="7.7" ry="2.3" fill="#b8bce8"/><ellipse cx="1607.1" cy="1463" rx="3.5" ry="2.9" fill="#d8d8f0"/><ellipse cx="1688.1" cy="1467" rx="6.1" ry="2" fill="#b8bce8"/><ellipse cx="1649.5" cy="1456" rx="9.6" ry="1.6" fill="#9098d8"/><ellipse cx="1755.4" cy="1458.8" rx="5.9" ry="2.9" fill="#d8d8f0"/><ellipse cx="1650.2" cy="1467.5" rx="12.9" ry="2.3" fill="#7078c8"/><ellipse cx="1739.2" cy="1460" rx="12.5" ry="2.9" fill="#b8bce8"/><ellipse cx="1699.2" cy="1467.2" rx="8.6" ry="2.4" fill="#9098d8"/><ellipse cx="1749.8" cy="1460.7" rx="5.8" ry="2.1" fill="#d8d8f0"/><ellipse cx="1601.8" cy="1460.4" rx="9.4" ry="1.5" fill="#c0c0c8"/></g>
<polygon points="1455,1637 1470,1626 1480,1637" fill="#f0d0c8" filter="url(#b1)"/>
<g filter="url(#b1)" opacity="0.85">
<polyline points="1467.3,1408.9 1474.7,1408.4 1482,1407.9 1489.3,1407.4 1496.7,1406.8 1504,1406.3 1511.3,1405.8 1518.7,1405.3 1526,1404.8 1533.3,1404.3 1540.7,1403.7 1548,1403.2 1555.3,1402.7 1562.7,1402.2 1570,1401.7 1577.3,1401.2 1584.7,1400.6 1592,1400.1 1599.3,1399.6 1606.7,1399.1 1614,1398.8 1621.3,1398.5 1628.7,1398.2 1636,1397.9 1643.3,1397.6 1650.7,1397.3 1658,1397 1665.3,1396.7 1672.7,1396.4 1680,1396.1 1687.3,1395.8 1694.7,1395.5 1702,1395.2 1709.3,1394.9 1716.7,1394.6 1724,1394.3 1731.3,1394 1738.7,1393.7 1746,1393.4 1753.3,1393.1 1760.7,1392.8 1768,1392.5 1775.3,1392.2 1782.7,1391.9 1790,1391.6 1797.3,1391.3 1804.7,1391 1812,1390.7 1819.3,1390.4 1826.7,1390.1 1834,1389.8 1841.3,1389.5 1848.7,1389.2 1856,1389" fill="none" stroke="#bcbcb8" stroke-width="5"/>
<polygon points="1612,1399.5 1590,1390.5 1590,1408.5" fill="#bcbcb8"/>
<polygon points="1700,1395.7 1678,1386.7 1678,1404.7" fill="#bcbcb8"/>
<polygon points="1787,1392.2 1765,1383.2 1765,1401.2" fill="#bcbcb8"/>
</g>
</g>
<rect x="1418" y="1238" width="436" height="399" fill="none" stroke="#f0a030" stroke-width="3" opacity="0.8"/>
<rect x="1059" y="1224" width="802" height="958" fill="none" stroke="#c27a20" stroke-opacity="0.18" stroke-width="6"/>
<rect x="1054" y="1219" width="812" height="968" fill="none" stroke="#b4845a" stroke-width="4"/>
<rect x="1050.5" y="1215.5" width="819" height="975" fill="none" stroke="#f6c896" stroke-width="3"/>
<rect x="1893" y="1329" width="15" height="842" fill="url(#cbar)" stroke="#8a7a8a" stroke-width="3"/>
<text x="1918" y="1354" font-family="'Liberation Sans', 'DejaVu Sans', sans-serif" font-size="46" text-anchor="start" fill="#474747" font-weight="normal" font-style="normal">80</text>
<text x="1918" y="1459" font-family="'Liberation Sans', 'DejaVu Sans', sans-serif" font-size="46" text-anchor="start" fill="#474747" font-weight="normal" font-style="normal">70</text>
<text x="1918" y="1564" font-family="'Liberation Sans', 'DejaVu Sans', sans-serif" font-size="46" text-anchor="start" fill="#474747" font-weight="normal" font-style="normal">60</text>
<text x="1918" y="1669" font-family="'Liberation Sans', 'DejaVu Sans', sans-serif" font-size="46" text-anchor="start" fill="#474747" font-weight="normal" font-style="normal">50</text>
<text x="1918" y="1774" font-family="'Liberation Sans', 'DejaVu Sans', sans-serif" font-size="46" text-anchor="start" fill="#474747" font-weight="normal" font-style="normal">40</text>
<text x="1918" y="1879" font-family="'Liberation Sans', 'DejaVu Sans', sans-serif" font-size="46" text-anchor="start" fill="#474747" font-weight="normal" font-style="normal">30</text>
<text x="1918" y="1982" font-family="'Liberation Sans', 'DejaVu Sans', sans-serif" font-size="46" text-anchor="start" fill="#474747" font-weight="normal" font-style="normal">20</text>
<text x="1918" y="2084" font-family="'Liberation Sans', 'DejaVu Sans', sans-serif" font-size="46" text-anchor="start" fill="#474747" font-weight="normal" font-style="normal">10</text>
<text x="48" y="2322" font-family="'Liberation Serif', 'Noto Serif CJK SC', serif" font-size="72" text-anchor="start" fill="#1a1a1a" font-weight="normal" font-style="normal" textLength="311" lengthAdjust="spacingAndGlyphs">Streamline</text>
<text x="441" y="2322" font-family="'Liberation Serif', 'Noto Serif CJK SC', serif" font-size="72" text-anchor="start" fill="#1a1a1a" font-weight="normal" font-style="normal" textLength="350" lengthAdjust="spacingAndGlyphs">Speed plant</text>
<text x="830" y="2322" font-family="'Liberation Serif', 'Noto Serif CJK SC', serif" font-size="72" text-anchor="start" fill="#1a1a1a" font-weight="normal" font-style="normal" textLength="306" lengthAdjust="spacingAndGlyphs">Flow field</text>
<text x="1213" y="2322" font-family="'Liberation Serif', 'Noto Serif CJK SC', serif" font-size="72" text-anchor="start" fill="#1a1a1a" font-weight="normal" font-style="normal" textLength="576" lengthAdjust="spacingAndGlyphs">Velocity magnitude</text>
<text x="1866" y="2322" font-family="'Liberation Serif', 'Noto Serif CJK SC', serif" font-size="72" text-anchor="start" fill="#1a1a1a" font-weight="normal" font-style="normal" textLength="107" lengthAdjust="spacingAndGlyphs">m/s</text>
<text x="366" y="2322" font-family="'Liberation Serif', 'Noto Serif CJK SC', 'Noto Sans CJK SC', serif" font-size="72" text-anchor="start" fill="#1a1a1a" font-weight="normal" font-style="normal">：</text>
<text x="1132.5" y="2322" font-family="'Liberation Serif', 'Noto Serif CJK SC', 'Noto Sans CJK SC', serif" font-size="72" text-anchor="start" fill="#1a1a1a" font-weight="normal" font-style="normal">：</text>
<text x="1779" y="2322" font-family="'Liberation Serif', 'Noto Serif CJK SC', 'Noto Sans CJK SC', serif" font-size="72" text-anchor="start" fill="#1a1a1a" font-weight="normal" font-style="normal">（</text>
<text x="1982" y="2322" font-family="'Liberation Serif', 'Noto Serif CJK SC', 'Noto Sans CJK SC', serif" font-size="72" text-anchor="start" fill="#1a1a1a" font-weight="normal" font-style="normal">）</text>
<text x="970" y="2432" font-family="'Liberation Serif', 'Noto Serif CJK SC', serif" font-size="75" fill="#000">(</text>
<text x="997" y="2432" font-family="'Liberation Serif', 'Noto Serif CJK SC', serif" font-size="75" fill="#000" font-weight="bold">b</text>
<text x="1039" y="2432" font-family="'Liberation Serif', 'Noto Serif CJK SC', serif" font-size="75" fill="#000">)</text>
<text x="165" y="1299.1" font-family="'Liberation Sans', 'DejaVu Sans', sans-serif" font-size="46" text-anchor="end" fill="#474747" font-weight="normal" font-style="normal">0.35</text>
<text x="165" y="1362.7" font-family="'Liberation Sans', 'DejaVu Sans', sans-serif" font-size="46" text-anchor="end" fill="#474747" font-weight="normal" font-style="normal">0.3</text>
<text x="165" y="1426.3" font-family="'Liberation Sans', 'DejaVu Sans', sans-serif" font-size="46" text-anchor="end" fill="#474747" font-weight="normal" font-style="normal">0.25</text>
<text x="165" y="1489.9" font-family="'Liberation Sans', 'DejaVu Sans', sans-serif" font-size="46" text-anchor="end" fill="#474747" font-weight="normal" font-style="normal">0.2</text>
<text x="165" y="1553.5" font-family="'Liberation Sans', 'DejaVu Sans', sans-serif" font-size="46" text-anchor="end" fill="#474747" font-weight="normal" font-style="normal">0.15</text>
<text x="165" y="1617.1" font-family="'Liberation Sans', 'DejaVu Sans', sans-serif" font-size="46" text-anchor="end" fill="#474747" font-weight="normal" font-style="normal">0.1</text>
<text x="165" y="1680.7" font-family="'Liberation Sans', 'DejaVu Sans', sans-serif" font-size="46" text-anchor="end" fill="#474747" font-weight="normal" font-style="normal">0.05</text>
<text x="165" y="1744.3" font-family="'Liberation Sans', 'DejaVu Sans', sans-serif" font-size="46" text-anchor="end" fill="#474747" font-weight="normal" font-style="normal">0</text>
<text x="165" y="1807.9" font-family="'Liberation Sans', 'DejaVu Sans', sans-serif" font-size="46" text-anchor="end" fill="#474747" font-weight="normal" font-style="normal">-0.05</text>
<text x="165" y="1871.5" font-family="'Liberation Sans', 'DejaVu Sans', sans-serif" font-size="46" text-anchor="end" fill="#474747" font-weight="normal" font-style="normal">-0.1</text>
<text x="165" y="1935.1" font-family="'Liberation Sans', 'DejaVu Sans', sans-serif" font-size="46" text-anchor="end" fill="#474747" font-weight="normal" font-style="normal">-0.15</text>
<text x="165" y="1998.7" font-family="'Liberation Sans', 'DejaVu Sans', sans-serif" font-size="46" text-anchor="end" fill="#474747" font-weight="normal" font-style="normal">-0.2</text>
<text x="165" y="2062.3" font-family="'Liberation Sans', 'DejaVu Sans', sans-serif" font-size="46" text-anchor="end" fill="#474747" font-weight="normal" font-style="normal">-0.25</text>
<text x="165" y="2125.9" font-family="'Liberation Sans', 'DejaVu Sans', sans-serif" font-size="46" text-anchor="end" fill="#474747" font-weight="normal" font-style="normal">-0.3</text>
<text x="165" y="2189.5" font-family="'Liberation Sans', 'DejaVu Sans', sans-serif" font-size="46" text-anchor="end" fill="#474747" font-weight="normal" font-style="normal">-0.35</text>
<text x="33" y="1240" font-family="'Liberation Sans', 'DejaVu Sans', sans-serif" font-size="42" text-anchor="start" fill="#474747" font-weight="normal" font-style="normal">m</text>
<text x="189.5" y="2236" font-family="'Liberation Sans', 'DejaVu Sans', sans-serif" font-size="45" text-anchor="middle" fill="#474747" font-weight="normal" font-style="normal">0</text>
<text x="444" y="2236" font-family="'Liberation Sans', 'DejaVu Sans', sans-serif" font-size="45" text-anchor="middle" fill="#474747" font-weight="normal" font-style="normal">0.2</text>
<text x="697" y="2236" font-family="'Liberation Sans', 'DejaVu Sans', sans-serif" font-size="45" text-anchor="middle" fill="#474747" font-weight="normal" font-style="normal">0.4</text>
<text x="967" y="2236" font-family="'Liberation Sans', 'DejaVu Sans', sans-serif" font-size="42" text-anchor="middle" fill="#474747" font-weight="normal" font-style="normal">m</text>
<text x="1065" y="2236" font-family="'Liberation Sans', 'DejaVu Sans', sans-serif" font-size="45" text-anchor="middle" fill="#474747" font-weight="normal" font-style="normal">0</text>
<text x="1325" y="2236" font-family="'Liberation Sans', 'DejaVu Sans', sans-serif" font-size="45" text-anchor="middle" fill="#474747" font-weight="normal" font-style="normal">0.2</text>
<text x="1582" y="2236" font-family="'Liberation Sans', 'DejaVu Sans', sans-serif" font-size="45" text-anchor="middle" fill="#474747" font-weight="normal" font-style="normal">0.4</text>
<text x="1852" y="2236" font-family="'Liberation Sans', 'DejaVu Sans', sans-serif" font-size="42" text-anchor="middle" fill="#474747" font-weight="normal" font-style="normal">m</text>
<g>
<line x1="508" y1="2521" x2="1633" y2="2521" stroke="#1e1e1e" stroke-width="5"/>
<line x1="510" y1="2519" x2="510" y2="3474" stroke="#555" stroke-width="5"/>
<line x1="508" y1="3473" x2="1635" y2="3473" stroke="#a8a8a8" stroke-width="7"/>
<line x1="1633" y1="2519" x2="1633" y2="3476" stroke="#b0b0b0" stroke-width="6"/>
<line x1="650.4" y1="2523" x2="650.4" y2="2531" stroke="#444" stroke-width="3"/>
<line x1="650.4" y1="3470" x2="650.4" y2="3462" stroke="#555" stroke-width="3"/>
<line x1="790.8" y1="2523" x2="790.8" y2="2537" stroke="#444" stroke-width="3"/>
<line x1="790.8" y1="3470" x2="790.8" y2="3456" stroke="#555" stroke-width="3"/>
<line x1="931.1" y1="2523" x2="931.1" y2="2531" stroke="#444" stroke-width="3"/>
<line x1="931.1" y1="3470" x2="931.1" y2="3462" stroke="#555" stroke-width="3"/>
<line x1="1071.5" y1="2523" x2="1071.5" y2="2537" stroke="#444" stroke-width="3"/>
<line x1="1071.5" y1="3470" x2="1071.5" y2="3456" stroke="#555" stroke-width="3"/>
<line x1="1211.9" y1="2523" x2="1211.9" y2="2531" stroke="#444" stroke-width="3"/>
<line x1="1211.9" y1="3470" x2="1211.9" y2="3462" stroke="#555" stroke-width="3"/>
<line x1="1352.2" y1="2523" x2="1352.2" y2="2537" stroke="#444" stroke-width="3"/>
<line x1="1352.2" y1="3470" x2="1352.2" y2="3456" stroke="#555" stroke-width="3"/>
<line x1="1492.6" y1="2523" x2="1492.6" y2="2531" stroke="#444" stroke-width="3"/>
<line x1="1492.6" y1="3470" x2="1492.6" y2="3462" stroke="#555" stroke-width="3"/>
<line x1="512" y1="2639" x2="520" y2="2639" stroke="#555" stroke-width="4"/>
<line x1="1631" y1="2639" x2="1623" y2="2639" stroke="#666" stroke-width="4"/>
<line x1="512" y1="2758" x2="530" y2="2758" stroke="#555" stroke-width="4"/>
<line x1="1631" y1="2758" x2="1613" y2="2758" stroke="#666" stroke-width="4"/>
<line x1="512" y1="2877" x2="520" y2="2877" stroke="#555" stroke-width="4"/>
<line x1="1631" y1="2877" x2="1623" y2="2877" stroke="#666" stroke-width="4"/>
<line x1="512" y1="2996" x2="530" y2="2996" stroke="#555" stroke-width="4"/>
<line x1="1631" y1="2996" x2="1613" y2="2996" stroke="#666" stroke-width="4"/>
<line x1="512" y1="3115" x2="520" y2="3115" stroke="#555" stroke-width="4"/>
<line x1="1631" y1="3115" x2="1623" y2="3115" stroke="#666" stroke-width="4"/>
<line x1="512" y1="3234" x2="530" y2="3234" stroke="#555" stroke-width="4"/>
<line x1="1631" y1="3234" x2="1613" y2="3234" stroke="#666" stroke-width="4"/>
<line x1="512" y1="3353" x2="520" y2="3353" stroke="#555" stroke-width="4"/>
<line x1="1631" y1="3353" x2="1623" y2="3353" stroke="#666" stroke-width="4"/>
</g>
<text x="493" y="2545" font-family="'Liberation Serif', serif" font-size="71" text-anchor="end" fill="#222" font-weight="normal" font-style="normal">2</text>
<text x="493" y="2775" font-family="'Liberation Serif', serif" font-size="71" text-anchor="end" fill="#222" font-weight="normal" font-style="normal">1</text>
<text x="493" y="3018" font-family="'Liberation Serif', serif" font-size="71" text-anchor="end" fill="#222" font-weight="normal" font-style="normal">0</text>
<text x="493" y="3257" font-family="'Liberation Serif', serif" font-size="71" text-anchor="end" fill="#222" font-weight="normal" font-style="normal">-1</text>
<text x="493" y="3473" font-family="'Liberation Serif', serif" font-size="71" text-anchor="end" fill="#222" font-weight="normal" font-style="normal">-2</text>
<text x="504" y="3533" font-family="'Liberation Serif', serif" font-size="71" text-anchor="middle" fill="#222" font-weight="normal" font-style="normal">-2</text>
<text x="778" y="3533" font-family="'Liberation Serif', serif" font-size="71" text-anchor="middle" fill="#222" font-weight="normal" font-style="normal">-1</text>
<text x="1074" y="3533" font-family="'Liberation Serif', serif" font-size="71" text-anchor="middle" fill="#222" font-weight="normal" font-style="normal">0</text>
<text x="1351" y="3533" font-family="'Liberation Serif', serif" font-size="71" text-anchor="middle" fill="#222" font-weight="normal" font-style="normal">1</text>
<text x="1629" y="3533" font-family="'Liberation Serif', serif" font-size="71" text-anchor="middle" fill="#222" font-weight="normal" font-style="normal">2</text>
<text x="916" y="3628" font-family="'Liberation Serif', serif" font-size="82" fill="#333" font-style="italic">&#947;</text>
<text x="990" y="3628" font-family="'Liberation Serif', serif" font-size="82" text-anchor="start" fill="#333" font-weight="normal" font-style="normal" textLength="172" lengthAdjust="spacingAndGlyphs">(deg)</text>
<g transform="translate(423,3100) rotate(-90)" font-family="'Liberation Serif', serif" fill="#505050">
<text x="-3" y="0" font-size="96" textLength="77" lengthAdjust="spacingAndGlyphs">C</text>
<text x="59" y="25" font-size="66" font-style="italic" textLength="40" lengthAdjust="spacingAndGlyphs">L</text>
<text x="105" y="0" font-size="96" textLength="77" lengthAdjust="spacingAndGlyphs">C</text>
<text x="158" y="25" font-size="66" font-style="italic" textLength="66" lengthAdjust="spacingAndGlyphs">M</text>
</g>
<g>
<rect x="610.8" y="3284.5" width="23" height="23" fill="#505050"/>
<rect x="638.9" y="3284.5" width="23" height="23" fill="#505050"/>
<rect x="666.9" y="3264.5" width="23" height="23" fill="#505050"/>
<rect x="695" y="3234.5" width="23" height="23" fill="#505050"/>
<rect x="723.1" y="3209.5" width="23" height="23" fill="#505050"/>
<rect x="751.2" y="3185.5" width="23" height="23" fill="#505050"/>
<rect x="779.2" y="3173" width="23" height="23" fill="#505050"/>
<rect x="807.3" y="3155.5" width="23" height="23" fill="#505050"/>
<rect x="835.4" y="3142.5" width="23" height="23" fill="#505050"/>
<rect x="863.5" y="3123.5" width="23" height="23" fill="#505050"/>
<rect x="891.5" y="3113.5" width="23" height="23" fill="#505050"/>
<rect x="919.6" y="3093.5" width="23" height="23" fill="#505050"/>
<rect x="947.7" y="3074" width="23" height="23" fill="#505050"/>
<rect x="975.8" y="3055.5" width="23" height="23" fill="#505050"/>
<rect x="1003.9" y="3023.5" width="23" height="23" fill="#505050"/>
<rect x="1031.9" y="3002.5" width="23" height="23" fill="#505050"/>
<rect x="1088.1" y="2956.5" width="23" height="23" fill="#505050"/>
<rect x="1116.2" y="2925.5" width="23" height="23" fill="#505050"/>
<rect x="1144.2" y="2911" width="23" height="23" fill="#505050"/>
<rect x="1172.3" y="2875.5" width="23" height="23" fill="#505050"/>
<rect x="1200.4" y="2854.5" width="23" height="23" fill="#505050"/>
<rect x="1228.5" y="2833.5" width="23" height="23" fill="#505050"/>
<rect x="1256.5" y="2814.5" width="23" height="23" fill="#505050"/>
<rect x="1284.6" y="2794.5" width="23" height="23" fill="#505050"/>
<rect x="1312.7" y="2770.5" width="23" height="23" fill="#505050"/>
<rect x="1340.8" y="2761" width="23" height="23" fill="#505050"/>
<rect x="1368.8" y="2735.5" width="23" height="23" fill="#505050"/>
<rect x="1396.9" y="2720.5" width="23" height="23" fill="#505050"/>
<rect x="1425" y="2706" width="23" height="23" fill="#505050"/>
<rect x="1453.1" y="2689.5" width="23" height="23" fill="#505050"/>
<rect x="1481.1" y="2661.5" width="23" height="23" fill="#505050"/>
<rect x="1509.2" y="2641.5" width="23" height="23" fill="#505050"/>
<ellipse cx="622.3" cy="3318" rx="11.5" ry="12.5" fill="#ee3a3f"/>
<ellipse cx="650.4" cy="3318" rx="11.5" ry="12.5" fill="#ee3a3f"/>
<ellipse cx="678.4" cy="3293" rx="11.5" ry="12.5" fill="#ee3a3f"/>
<ellipse cx="706.5" cy="3263" rx="11.5" ry="12.5" fill="#ee3a3f"/>
<ellipse cx="734.6" cy="3234" rx="11.5" ry="12.5" fill="#ee3a3f"/>
<ellipse cx="762.7" cy="3210" rx="11.5" ry="12.5" fill="#ee3a3f"/>
<ellipse cx="790.8" cy="3192" rx="11.5" ry="12.5" fill="#ee3a3f"/>
<ellipse cx="818.8" cy="3181" rx="11.5" ry="12.5" fill="#ee3a3f"/>
<ellipse cx="846.9" cy="3161.5" rx="11.5" ry="12.5" fill="#ee3a3f"/>
<ellipse cx="875" cy="3144" rx="11.5" ry="12.5" fill="#ee3a3f"/>
<ellipse cx="903" cy="3132" rx="11.5" ry="12.5" fill="#ee3a3f"/>
<ellipse cx="931.1" cy="3107.6" rx="11.5" ry="12.5" fill="#ee3a3f"/>
<ellipse cx="959.2" cy="3086.7" rx="11.5" ry="12.5" fill="#ee3a3f"/>
<ellipse cx="987.3" cy="3069" rx="11.5" ry="12.5" fill="#ee3a3f"/>
<ellipse cx="1015.4" cy="3036" rx="11.5" ry="12.5" fill="#ee3a3f"/>
<ellipse cx="1043.4" cy="3013" rx="11.5" ry="12.5" fill="#ee3a3f"/>
<ellipse cx="1099.6" cy="2960" rx="11.5" ry="12.5" fill="#ee3a3f"/>
<ellipse cx="1127.7" cy="2938" rx="11.5" ry="12.5" fill="#ee3a3f"/>
<ellipse cx="1155.7" cy="2921.5" rx="11.5" ry="12.5" fill="#ee3a3f"/>
<ellipse cx="1183.8" cy="2890" rx="11.5" ry="12.5" fill="#ee3a3f"/>
<ellipse cx="1211.9" cy="2864" rx="11.5" ry="12.5" fill="#ee3a3f"/>
<ellipse cx="1240" cy="2840.5" rx="11.5" ry="12.5" fill="#ee3a3f"/>
<ellipse cx="1268" cy="2811" rx="11.5" ry="12.5" fill="#ee3a3f"/>
<ellipse cx="1296.1" cy="2785.4" rx="11.5" ry="12.5" fill="#ee3a3f"/>
<ellipse cx="1324.2" cy="2761.5" rx="11.5" ry="12.5" fill="#ee3a3f"/>
<ellipse cx="1352.2" cy="2758" rx="11.5" ry="12.5" fill="#ee3a3f"/>
<ellipse cx="1380.3" cy="2737.7" rx="11.5" ry="12.5" fill="#ee3a3f"/>
<ellipse cx="1408.4" cy="2708.3" rx="11.5" ry="12.5" fill="#ee3a3f"/>
<ellipse cx="1436.5" cy="2701" rx="11.5" ry="12.5" fill="#ee3a3f"/>
<ellipse cx="1464.6" cy="2675" rx="11.5" ry="12.5" fill="#ee3a3f"/>
<ellipse cx="1492.6" cy="2658.7" rx="11.5" ry="12.5" fill="#ee3a3f"/>
<ellipse cx="1520.7" cy="2633" rx="11.5" ry="12.5" fill="#ee3a3f"/>
</g>
<g>
<polygon points="650.4,2827.8 638.4,2849.8 662.4,2849.8" fill="#1f6fe0"/>
<polygon points="678.5,2837.8 666.5,2859.8 690.5,2859.8" fill="#1f6fe0"/>
<polygon points="706.5,2855.8 694.5,2877.8 718.5,2877.8" fill="#1f6fe0"/>
<polygon points="734.6,2864.8 722.6,2886.8 746.6,2886.8" fill="#1f6fe0"/>
<polygon points="762.7,2868.8 750.7,2890.8 774.7,2890.8" fill="#1f6fe0"/>
<polygon points="790.8,2879.8 778.8,2901.8 802.8,2901.8" fill="#1f6fe0"/>
<polygon points="818.8,2883.8 806.8,2905.8 830.8,2905.8" fill="#1f6fe0"/>
<polygon points="846.9,2893.8 834.9,2915.8 858.9,2915.8" fill="#1f6fe0"/>
<polygon points="875,2899.8 863,2921.8 887,2921.8" fill="#1f6fe0"/>
<polygon points="903,2909.8 891,2931.8 915,2931.8" fill="#1f6fe0"/>
<polygon points="931.1,2915.8 919.1,2937.8 943.1,2937.8" fill="#1f6fe0"/>
<polygon points="959.2,2926.8 947.2,2948.8 971.2,2948.8" fill="#1f6fe0"/>
<polygon points="987.3,2941.8 975.3,2963.8 999.3,2963.8" fill="#1f6fe0"/>
<polygon points="1015.4,2950.8 1003.4,2972.8 1027.3,2972.8" fill="#1f6fe0"/>
<polygon points="1043.4,2956.8 1031.4,2978.8 1055.4,2978.8" fill="#1f6fe0"/>
<polygon points="1071.5,2974.8 1059.5,2996.8 1083.5,2996.8" fill="#1f6fe0"/>
<polygon points="1099.6,2977.8 1087.6,2999.8 1111.6,2999.8" fill="#1f6fe0"/>
<polygon points="1127.7,2988.8 1115.7,3010.8 1139.7,3010.8" fill="#1f6fe0"/>
<polygon points="1155.7,2995.8 1143.7,3017.8 1167.7,3017.8" fill="#1f6fe0"/>
<polygon points="1183.8,2996.8 1171.8,3018.8 1195.8,3018.8" fill="#1f6fe0"/>
<polygon points="1211.9,3011.8 1199.9,3033.8 1223.9,3033.8" fill="#1f6fe0"/>
<polygon points="1240,3024.8 1228,3046.8 1252,3046.8" fill="#1f6fe0"/>
<polygon points="1268,3028.8 1256,3050.8 1280,3050.8" fill="#1f6fe0"/>
<polygon points="1296.1,3037.8 1284.1,3059.8 1308.1,3059.8" fill="#1f6fe0"/>
<polygon points="1324.2,3050.8 1312.2,3072.8 1336.2,3072.8" fill="#1f6fe0"/>
<polygon points="1352.2,3059.8 1340.2,3081.8 1364.2,3081.8" fill="#1f6fe0"/>
<polygon points="1380.3,3068.8 1368.3,3090.8 1392.3,3090.8" fill="#1f6fe0"/>
<polygon points="1408.4,3081.8 1396.4,3103.8 1420.4,3103.8" fill="#1f6fe0"/>
<polygon points="1436.5,3085.8 1424.5,3107.8 1448.5,3107.8" fill="#1f6fe0"/>
<polygon points="1464.6,3088.8 1452.6,3110.8 1476.6,3110.8" fill="#1f6fe0"/>
<polygon points="1492.6,3101.8 1480.6,3123.8 1504.6,3123.8" fill="#1f6fe0"/>
<polygon points="1520.7,3112.8 1508.7,3134.8 1532.7,3134.8" fill="#1f6fe0"/>
<polygon points="1548.8,3123.8 1536.8,3145.8 1560.8,3145.8" fill="#1f6fe0"/>
<polygon points="650.4,2862.2 637.4,2840.2 663.4,2840.2" fill="#35ad6a"/>
<polygon points="678.5,2872.2 665.5,2850.2 691.5,2850.2" fill="#35ad6a"/>
<polygon points="706.5,2890.2 693.5,2868.2 719.5,2868.2" fill="#35ad6a"/>
<polygon points="734.6,2899.2 721.6,2877.2 747.6,2877.2" fill="#35ad6a"/>
<polygon points="762.7,2903.2 749.7,2881.2 775.7,2881.2" fill="#35ad6a"/>
<polygon points="790.8,2914.2 777.8,2892.2 803.8,2892.2" fill="#35ad6a"/>
<polygon points="818.8,2918.2 805.8,2896.2 831.8,2896.2" fill="#35ad6a"/>
<polygon points="846.9,2928.2 833.9,2906.2 859.9,2906.2" fill="#35ad6a"/>
<polygon points="875,2934.2 862,2912.2 888,2912.2" fill="#35ad6a"/>
<polygon points="903,2944.2 890,2922.2 916,2922.2" fill="#35ad6a"/>
<polygon points="931.1,2950.2 918.1,2928.2 944.1,2928.2" fill="#35ad6a"/>
<polygon points="959.2,2961.2 946.2,2939.2 972.2,2939.2" fill="#35ad6a"/>
<polygon points="987.3,2976.2 974.3,2954.2 1000.3,2954.2" fill="#35ad6a"/>
<polygon points="1015.4,2985.2 1002.4,2963.2 1028.3,2963.2" fill="#35ad6a"/>
<polygon points="1043.4,2991.2 1030.4,2969.2 1056.4,2969.2" fill="#35ad6a"/>
<polygon points="1071.5,3009.2 1058.5,2987.2 1084.5,2987.2" fill="#35ad6a"/>
<polygon points="1099.6,3012.2 1086.6,2990.2 1112.6,2990.2" fill="#35ad6a"/>
<polygon points="1127.7,3023.2 1114.7,3001.2 1140.7,3001.2" fill="#35ad6a"/>
<polygon points="1155.7,3030.2 1142.7,3008.2 1168.7,3008.2" fill="#35ad6a"/>
<polygon points="1183.8,3031.2 1170.8,3009.2 1196.8,3009.2" fill="#35ad6a"/>
<polygon points="1211.9,3046.2 1198.9,3024.2 1224.9,3024.2" fill="#35ad6a"/>
<polygon points="1240,3059.2 1227,3037.2 1253,3037.2" fill="#35ad6a"/>
<polygon points="1268,3063.2 1255,3041.2 1281,3041.2" fill="#35ad6a"/>
<polygon points="1296.1,3072.2 1283.1,3050.2 1309.1,3050.2" fill="#35ad6a"/>
<polygon points="1324.2,3085.2 1311.2,3063.2 1337.2,3063.2" fill="#35ad6a"/>
<polygon points="1352.2,3094.2 1339.2,3072.2 1365.2,3072.2" fill="#35ad6a"/>
<polygon points="1380.3,3103.2 1367.3,3081.2 1393.3,3081.2" fill="#35ad6a"/>
<polygon points="1408.4,3116.2 1395.4,3094.2 1421.4,3094.2" fill="#35ad6a"/>
<polygon points="1436.5,3120.2 1423.5,3098.2 1449.5,3098.2" fill="#35ad6a"/>
<polygon points="1464.6,3123.2 1451.6,3101.2 1477.6,3101.2" fill="#35ad6a"/>
<polygon points="1492.6,3136.2 1479.6,3114.2 1505.6,3114.2" fill="#35ad6a"/>
<polygon points="1520.7,3147.2 1507.7,3125.2 1533.7,3125.2" fill="#35ad6a"/>
<polygon points="1548.8,3158.2 1535.8,3136.2 1561.8,3136.2" fill="#35ad6a"/>
</g>
<rect x="673" y="2620" width="30" height="30" fill="#505050"/>
<ellipse cx="691" cy="2728" rx="17" ry="18" fill="#ee3a3f"/>
<polygon points="855,3254 838,3288 873,3288" fill="#1f6fe0"/>
<polygon points="838,3350 876,3350 857,3384" fill="#35ad6a"/>
<text x="748" y="2657" font-family="'Liberation Serif', serif" font-size="62" fill="#222"><tspan font-style="italic">C</tspan><tspan font-style="italic" font-size="40" dy="4">L</tspan></text>
<text x="834" y="2657" font-family="'Liberation Serif', serif" font-size="62" text-anchor="start" fill="#222" font-weight="normal" font-style="normal" textLength="537" lengthAdjust="spacingAndGlyphs">-Miyazaki et al., 2017</text>
<text x="748" y="2734" font-family="'Liberation Serif', serif" font-size="62" fill="#222"><tspan font-style="italic">C</tspan><tspan font-style="italic" font-size="40" dy="4">L</tspan></text>
<text x="834" y="2734" font-family="'Liberation Serif', serif" font-size="62" text-anchor="start" fill="#222" font-weight="normal" font-style="normal" textLength="389" lengthAdjust="spacingAndGlyphs">-Simulation data</text>
<text x="917" y="3303" font-family="'Liberation Serif', serif" font-size="62" fill="#222"><tspan font-style="italic">C</tspan><tspan font-style="italic" font-size="40" dy="4">M</tspan></text>
<text x="1003" y="3303" font-family="'Liberation Serif', serif" font-size="62" text-anchor="start" fill="#222" font-weight="normal" font-style="normal" textLength="549" lengthAdjust="spacingAndGlyphs">-Miyazaki et al., 2017</text>
<text x="917" y="3376" font-family="'Liberation Serif', serif" font-size="62" fill="#222"><tspan font-style="italic">C</tspan><tspan font-style="italic" font-size="40" dy="4">M</tspan></text>
<text x="1003" y="3376" font-family="'Liberation Serif', serif" font-size="62" text-anchor="start" fill="#222" font-weight="normal" font-style="normal" textLength="399" lengthAdjust="spacingAndGlyphs">-Simulation data</text>
<text x="972" y="3802" font-family="'Liberation Serif', serif" font-size="84" fill="#000">(</text>
<text x="1001" y="3802" font-family="'Liberation Serif', serif" font-size="84" fill="#000" font-weight="bold">c</text>
<text x="1035" y="3802" font-family="'Liberation Serif', serif" font-size="84" fill="#000">)</text>
</svg>
</body></html>
